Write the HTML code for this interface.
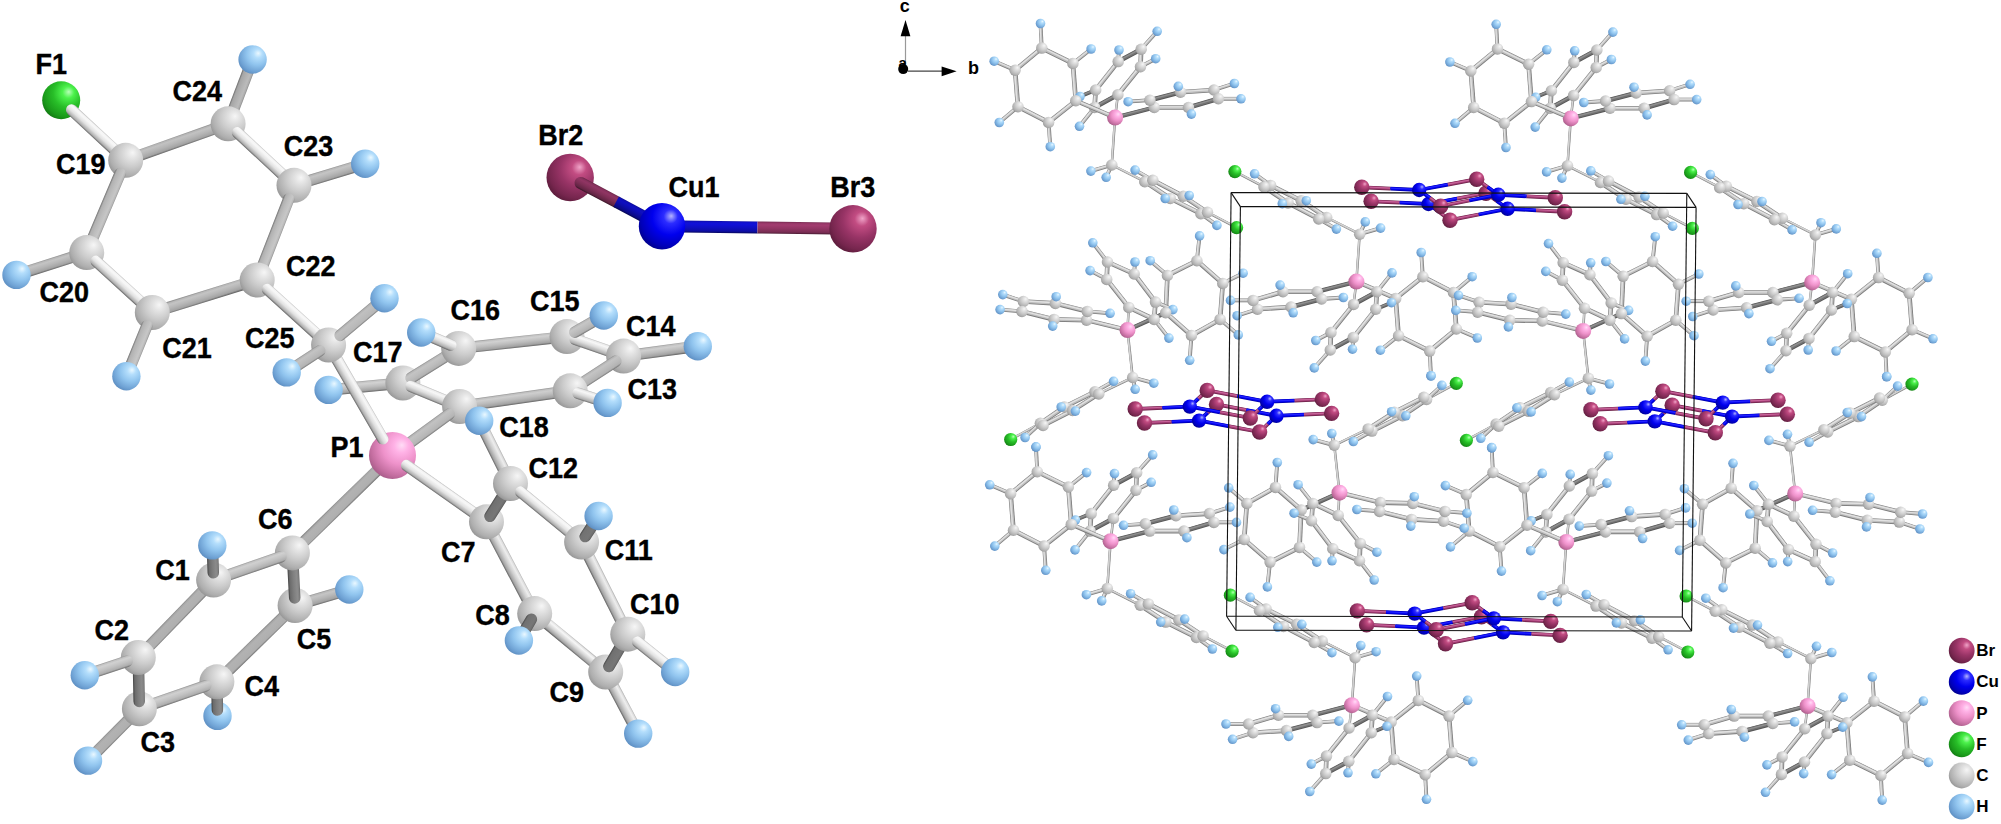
<!DOCTYPE html>
<html><head><meta charset="utf-8"><style>
html,body{margin:0;padding:0;background:#fff;}
svg{display:block;}
.lb{font-family:"Liberation Sans",sans-serif;font-weight:bold;font-size:27px;fill:#000;stroke:#000;stroke-width:0.35px;}
.ax{font-family:"Liberation Sans",sans-serif;font-weight:bold;font-size:18px;fill:#000;}
.lg{font-family:"Liberation Sans",sans-serif;font-weight:bold;font-size:17px;fill:#000;}
</style></head><body>
<svg width="2001" height="824" viewBox="0 0 2001 824">
<defs><radialGradient id="gC" cx="0.64" cy="0.34" r="0.76" fx="0.7" fy="0.28"><stop offset="0" stop-color="#f6f6f6"/><stop offset="0.2" stop-color="#e4e4e4"/><stop offset="0.5" stop-color="#cbcbcb"/><stop offset="0.8" stop-color="#aeaeae"/><stop offset="1" stop-color="#8c8c8c"/></radialGradient><radialGradient id="gH" cx="0.64" cy="0.34" r="0.76" fx="0.7" fy="0.28"><stop offset="0" stop-color="#eaf8ff"/><stop offset="0.2" stop-color="#b4defc"/><stop offset="0.5" stop-color="#90c4ee"/><stop offset="0.8" stop-color="#6fa2d4"/><stop offset="1" stop-color="#5686ba"/></radialGradient><radialGradient id="gP" cx="0.64" cy="0.34" r="0.76" fx="0.7" fy="0.28"><stop offset="0" stop-color="#ffdcf6"/><stop offset="0.2" stop-color="#ffb2e6"/><stop offset="0.5" stop-color="#ee92ca"/><stop offset="0.8" stop-color="#c46ea0"/><stop offset="1" stop-color="#9c5680"/></radialGradient><radialGradient id="gF" cx="0.64" cy="0.34" r="0.76" fx="0.7" fy="0.28"><stop offset="0" stop-color="#b8ffb8"/><stop offset="0.2" stop-color="#4cf24c"/><stop offset="0.5" stop-color="#28be28"/><stop offset="0.8" stop-color="#1a9a1a"/><stop offset="1" stop-color="#107010"/></radialGradient><radialGradient id="gBr" cx="0.64" cy="0.34" r="0.76" fx="0.7" fy="0.28"><stop offset="0" stop-color="#f0a4c8"/><stop offset="0.2" stop-color="#c24c82"/><stop offset="0.5" stop-color="#983466"/><stop offset="0.8" stop-color="#76264e"/><stop offset="1" stop-color="#521834"/></radialGradient><radialGradient id="gCu" cx="0.64" cy="0.34" r="0.76" fx="0.7" fy="0.28"><stop offset="0" stop-color="#b4b4ff"/><stop offset="0.2" stop-color="#2c2cff"/><stop offset="0.5" stop-color="#0000ee"/><stop offset="0.8" stop-color="#0000b8"/><stop offset="1" stop-color="#00007a"/></radialGradient><linearGradient id="bg0" gradientUnits="userSpaceOnUse" x1="175.0" y1="136.6" x2="178.8" y2="147.5"><stop offset="0" stop-color="#8f8f8f"/><stop offset="0.1" stop-color="#b4b4b4"/><stop offset="0.25" stop-color="#c2c2c2"/><stop offset="0.55" stop-color="#b5b5b5"/><stop offset="0.85" stop-color="#a3a3a3"/><stop offset="1.0" stop-color="#686868"/></linearGradient><linearGradient id="bg1" gradientUnits="userSpaceOnUse" x1="245.7" y1="93.7" x2="235.0" y2="89.6"><stop offset="0" stop-color="#8a8a8a"/><stop offset="0.1" stop-color="#adadad"/><stop offset="0.25" stop-color="#bbbbbb"/><stop offset="0.55" stop-color="#b1b1b1"/><stop offset="0.85" stop-color="#a5a5a5"/><stop offset="1.0" stop-color="#6b6b6b"/></linearGradient><linearGradient id="bg2" gradientUnits="userSpaceOnUse" x1="327.9" y1="169.0" x2="331.3" y2="180.0"><stop offset="0" stop-color="#919191"/><stop offset="0.1" stop-color="#b7b7b7"/><stop offset="0.25" stop-color="#c5c5c5"/><stop offset="0.55" stop-color="#b6b6b6"/><stop offset="0.85" stop-color="#a3a3a3"/><stop offset="1.0" stop-color="#676767"/></linearGradient><linearGradient id="bg3" gradientUnits="userSpaceOnUse" x1="203.0" y1="290.8" x2="206.5" y2="301.7"><stop offset="0" stop-color="#919191"/><stop offset="0.1" stop-color="#b7b7b7"/><stop offset="0.25" stop-color="#c4c4c4"/><stop offset="0.55" stop-color="#b6b6b6"/><stop offset="0.85" stop-color="#a3a3a3"/><stop offset="1.0" stop-color="#676767"/></linearGradient><linearGradient id="bg4" gradientUnits="userSpaceOnUse" x1="49.9" y1="258.3" x2="53.3" y2="269.2"><stop offset="0" stop-color="#919191"/><stop offset="0.1" stop-color="#b6b6b6"/><stop offset="0.25" stop-color="#c4c4c4"/><stop offset="0.55" stop-color="#b6b6b6"/><stop offset="0.85" stop-color="#a3a3a3"/><stop offset="1.0" stop-color="#676767"/></linearGradient><linearGradient id="bg5" gradientUnits="userSpaceOnUse" x1="365.2" y1="380.7" x2="366.3" y2="392.2"><stop offset="0" stop-color="#9b9b9b"/><stop offset="0.1" stop-color="#c3c3c3"/><stop offset="0.25" stop-color="#d2d2d2"/><stop offset="0.55" stop-color="#bebebe"/><stop offset="0.85" stop-color="#a2a2a2"/><stop offset="1.0" stop-color="#646464"/></linearGradient><linearGradient id="bg6" gradientUnits="userSpaceOnUse" x1="512.2" y1="336.8" x2="513.5" y2="348.2"><stop offset="0" stop-color="#9a9a9a"/><stop offset="0.1" stop-color="#c2c2c2"/><stop offset="0.25" stop-color="#d1d1d1"/><stop offset="0.55" stop-color="#bdbdbd"/><stop offset="0.85" stop-color="#a2a2a2"/><stop offset="1.0" stop-color="#646464"/></linearGradient><linearGradient id="bg7" gradientUnits="userSpaceOnUse" x1="659.9" y1="345.5" x2="661.5" y2="356.8"><stop offset="0" stop-color="#999999"/><stop offset="0.1" stop-color="#c1c1c1"/><stop offset="0.25" stop-color="#cfcfcf"/><stop offset="0.55" stop-color="#bcbcbc"/><stop offset="0.85" stop-color="#a2a2a2"/><stop offset="1.0" stop-color="#646464"/></linearGradient><linearGradient id="bg8" gradientUnits="userSpaceOnUse" x1="514.1" y1="393.0" x2="515.7" y2="404.3"><stop offset="0" stop-color="#999999"/><stop offset="0.1" stop-color="#c0c0c0"/><stop offset="0.25" stop-color="#cecece"/><stop offset="0.55" stop-color="#bcbcbc"/><stop offset="0.85" stop-color="#a2a2a2"/><stop offset="1.0" stop-color="#646464"/></linearGradient><linearGradient id="bg9" gradientUnits="userSpaceOnUse" x1="500.0" y1="449.6" x2="489.7" y2="454.7"><stop offset="0" stop-color="#afafaf"/><stop offset="0.1" stop-color="#dcdcdc"/><stop offset="0.25" stop-color="#ededed"/><stop offset="0.55" stop-color="#cecece"/><stop offset="0.85" stop-color="#a4a4a4"/><stop offset="1.0" stop-color="#5f5f5f"/></linearGradient><linearGradient id="bg10" gradientUnits="userSpaceOnUse" x1="609.8" y1="585.6" x2="599.6" y2="590.7"><stop offset="0" stop-color="#afafaf"/><stop offset="0.1" stop-color="#dcdcdc"/><stop offset="0.25" stop-color="#ededed"/><stop offset="0.55" stop-color="#cecece"/><stop offset="0.85" stop-color="#a4a4a4"/><stop offset="1.0" stop-color="#5f5f5f"/></linearGradient><linearGradient id="bg11" gradientUnits="userSpaceOnUse" x1="627.0" y1="700.1" x2="616.9" y2="705.5"><stop offset="0" stop-color="#b0b0b0"/><stop offset="0.1" stop-color="#dddddd"/><stop offset="0.25" stop-color="#eeeeee"/><stop offset="0.55" stop-color="#cecece"/><stop offset="0.85" stop-color="#a4a4a4"/><stop offset="1.0" stop-color="#5f5f5f"/></linearGradient><linearGradient id="bg12" gradientUnits="userSpaceOnUse" x1="573.9" y1="638.4" x2="566.5" y2="647.2"><stop offset="0" stop-color="#b6b6b6"/><stop offset="0.1" stop-color="#e5e5e5"/><stop offset="0.25" stop-color="#f6f6f6"/><stop offset="0.55" stop-color="#d4d4d4"/><stop offset="0.85" stop-color="#a5a5a5"/><stop offset="1.0" stop-color="#5d5d5d"/></linearGradient><linearGradient id="bg13" gradientUnits="userSpaceOnUse" x1="515.7" y1="565.0" x2="505.5" y2="570.4"><stop offset="0" stop-color="#b0b0b0"/><stop offset="0.1" stop-color="#dddddd"/><stop offset="0.25" stop-color="#ededed"/><stop offset="0.55" stop-color="#cecece"/><stop offset="0.85" stop-color="#a4a4a4"/><stop offset="1.0" stop-color="#5f5f5f"/></linearGradient><linearGradient id="bg14" gradientUnits="userSpaceOnUse" x1="338.4" y1="500.1" x2="346.5" y2="508.3"><stop offset="0" stop-color="#848484"/><stop offset="0.1" stop-color="#a6a6a6"/><stop offset="0.25" stop-color="#b2b2b2"/><stop offset="0.55" stop-color="#b1b1b1"/><stop offset="0.85" stop-color="#aeaeae"/><stop offset="1.0" stop-color="#757575"/></linearGradient><linearGradient id="bg15" gradientUnits="userSpaceOnUse" x1="171.8" y1="614.8" x2="180.1" y2="622.8"><stop offset="0" stop-color="#848484"/><stop offset="0.1" stop-color="#a6a6a6"/><stop offset="0.25" stop-color="#b2b2b2"/><stop offset="0.55" stop-color="#b1b1b1"/><stop offset="0.85" stop-color="#afafaf"/><stop offset="1.0" stop-color="#777777"/></linearGradient><linearGradient id="bg16" gradientUnits="userSpaceOnUse" x1="109.6" y1="730.6" x2="117.8" y2="738.8"><stop offset="0" stop-color="#848484"/><stop offset="0.1" stop-color="#a6a6a6"/><stop offset="0.25" stop-color="#b2b2b2"/><stop offset="0.55" stop-color="#b1b1b1"/><stop offset="0.85" stop-color="#afafaf"/><stop offset="1.0" stop-color="#767676"/></linearGradient><linearGradient id="bg17" gradientUnits="userSpaceOnUse" x1="252.0" y1="639.5" x2="260.0" y2="647.8"><stop offset="0" stop-color="#848484"/><stop offset="0.1" stop-color="#a6a6a6"/><stop offset="0.25" stop-color="#b2b2b2"/><stop offset="0.55" stop-color="#b1b1b1"/><stop offset="0.85" stop-color="#aeaeae"/><stop offset="1.0" stop-color="#757575"/></linearGradient><linearGradient id="bg18" gradientUnits="userSpaceOnUse" x1="320.6" y1="592.0" x2="323.8" y2="603.0"><stop offset="0" stop-color="#929292"/><stop offset="0.1" stop-color="#b7b7b7"/><stop offset="0.25" stop-color="#c5c5c5"/><stop offset="0.55" stop-color="#b6b6b6"/><stop offset="0.85" stop-color="#a3a3a3"/><stop offset="1.0" stop-color="#676767"/></linearGradient><linearGradient id="bg19" gradientUnits="userSpaceOnUse" x1="709.8" y1="220.9" x2="709.7" y2="232.8"><stop offset="0" stop-color="#0d0da1"/><stop offset="0.1" stop-color="#1010ca"/><stop offset="0.25" stop-color="#1111d9"/><stop offset="0.55" stop-color="#0f0fc2"/><stop offset="0.85" stop-color="#0d0da3"/><stop offset="1.0" stop-color="#080862"/></linearGradient><linearGradient id="bg20" gradientUnits="userSpaceOnUse" x1="805.3" y1="222.2" x2="805.2" y2="234.1"><stop offset="0" stop-color="#782c52"/><stop offset="0.1" stop-color="#963767"/><stop offset="0.25" stop-color="#a23c6f"/><stop offset="0.55" stop-color="#913563"/><stop offset="0.85" stop-color="#792d53"/><stop offset="1.0" stop-color="#491b32"/></linearGradient><linearGradient id="bg21" gradientUnits="userSpaceOnUse" x1="102.6" y1="130.9" x2="94.8" y2="139.4"><stop offset="0" stop-color="#c3c3c3"/><stop offset="0.1" stop-color="#f5f5f5"/><stop offset="0.25" stop-color="#f7f7f7"/><stop offset="0.55" stop-color="#e2e2e2"/><stop offset="0.85" stop-color="#b0b0b0"/><stop offset="1.0" stop-color="#646464"/></linearGradient><linearGradient id="bg22" gradientUnits="userSpaceOnUse" x1="108.7" y1="215.4" x2="98.1" y2="210.9"><stop offset="0" stop-color="#929292"/><stop offset="0.1" stop-color="#b8b8b8"/><stop offset="0.25" stop-color="#c6c6c6"/><stop offset="0.55" stop-color="#bdbdbd"/><stop offset="0.85" stop-color="#b1b1b1"/><stop offset="1.0" stop-color="#747474"/></linearGradient><linearGradient id="bg23" gradientUnits="userSpaceOnUse" x1="269.7" y1="154.8" x2="261.9" y2="163.2"><stop offset="0" stop-color="#c3c3c3"/><stop offset="0.1" stop-color="#f5f5f5"/><stop offset="0.25" stop-color="#f7f7f7"/><stop offset="0.55" stop-color="#e2e2e2"/><stop offset="0.85" stop-color="#b0b0b0"/><stop offset="1.0" stop-color="#646464"/></linearGradient><linearGradient id="bg24" gradientUnits="userSpaceOnUse" x1="278.3" y1="241.6" x2="267.6" y2="237.4"><stop offset="0" stop-color="#939393"/><stop offset="0.1" stop-color="#b9b9b9"/><stop offset="0.25" stop-color="#c7c7c7"/><stop offset="0.55" stop-color="#bebebe"/><stop offset="0.85" stop-color="#b0b0b0"/><stop offset="1.0" stop-color="#737373"/></linearGradient><linearGradient id="bg25" gradientUnits="userSpaceOnUse" x1="301.9" y1="312.9" x2="294.2" y2="321.4"><stop offset="0" stop-color="#c3c3c3"/><stop offset="0.1" stop-color="#f5f5f5"/><stop offset="0.25" stop-color="#f7f7f7"/><stop offset="0.55" stop-color="#e2e2e2"/><stop offset="0.85" stop-color="#b0b0b0"/><stop offset="1.0" stop-color="#646464"/></linearGradient><linearGradient id="bg26" gradientUnits="userSpaceOnUse" x1="128.1" y1="282.6" x2="120.4" y2="291.1"><stop offset="0" stop-color="#c3c3c3"/><stop offset="0.1" stop-color="#f5f5f5"/><stop offset="0.25" stop-color="#f7f7f7"/><stop offset="0.55" stop-color="#e2e2e2"/><stop offset="0.85" stop-color="#b0b0b0"/><stop offset="1.0" stop-color="#646464"/></linearGradient><linearGradient id="bg27" gradientUnits="userSpaceOnUse" x1="142.0" y1="353.2" x2="131.3" y2="348.9"><stop offset="0" stop-color="#939393"/><stop offset="0.1" stop-color="#b9b9b9"/><stop offset="0.25" stop-color="#c7c7c7"/><stop offset="0.55" stop-color="#bdbdbd"/><stop offset="0.85" stop-color="#b1b1b1"/><stop offset="1.0" stop-color="#737373"/></linearGradient><linearGradient id="bg28" gradientUnits="userSpaceOnUse" x1="431.8" y1="358.3" x2="437.9" y2="368.1"><stop offset="0" stop-color="#919191"/><stop offset="0.1" stop-color="#b7b7b7"/><stop offset="0.25" stop-color="#c4c4c4"/><stop offset="0.55" stop-color="#bdbdbd"/><stop offset="0.85" stop-color="#b2b2b2"/><stop offset="1.0" stop-color="#757575"/></linearGradient><linearGradient id="bg29" gradientUnits="userSpaceOnUse" x1="437.5" y1="391.1" x2="433.1" y2="401.8"><stop offset="0" stop-color="#bdbdbd"/><stop offset="0.1" stop-color="#eeeeee"/><stop offset="0.25" stop-color="#f7f7f7"/><stop offset="0.55" stop-color="#dedede"/><stop offset="0.85" stop-color="#b0b0b0"/><stop offset="1.0" stop-color="#656565"/></linearGradient><linearGradient id="bg30" gradientUnits="userSpaceOnUse" x1="417.4" y1="430.2" x2="424.2" y2="439.5"><stop offset="0" stop-color="#8f8f8f"/><stop offset="0.1" stop-color="#b4b4b4"/><stop offset="0.25" stop-color="#c2c2c2"/><stop offset="0.55" stop-color="#bcbcbc"/><stop offset="0.85" stop-color="#b4b4b4"/><stop offset="1.0" stop-color="#777777"/></linearGradient><linearGradient id="bg31" gradientUnits="userSpaceOnUse" x1="360.7" y1="389.0" x2="350.7" y2="394.8"><stop offset="0" stop-color="#bdbdbd"/><stop offset="0.1" stop-color="#eeeeee"/><stop offset="0.25" stop-color="#f7f7f7"/><stop offset="0.55" stop-color="#dedede"/><stop offset="0.85" stop-color="#b0b0b0"/><stop offset="1.0" stop-color="#656565"/></linearGradient><linearGradient id="bg32" gradientUnits="userSpaceOnUse" x1="449.9" y1="489.0" x2="443.3" y2="498.4"><stop offset="0" stop-color="#c2c2c2"/><stop offset="0.1" stop-color="#f4f4f4"/><stop offset="0.25" stop-color="#f7f7f7"/><stop offset="0.55" stop-color="#e2e2e2"/><stop offset="0.85" stop-color="#b0b0b0"/><stop offset="1.0" stop-color="#646464"/></linearGradient><linearGradient id="bg33" gradientUnits="userSpaceOnUse" x1="358.6" y1="312.4" x2="366.0" y2="321.2"><stop offset="0" stop-color="#8e8e8e"/><stop offset="0.1" stop-color="#b3b3b3"/><stop offset="0.25" stop-color="#c0c0c0"/><stop offset="0.55" stop-color="#bcbcbc"/><stop offset="0.85" stop-color="#b7b7b7"/><stop offset="1.0" stop-color="#7a7a7a"/></linearGradient><linearGradient id="bg34" gradientUnits="userSpaceOnUse" x1="300.1" y1="356.8" x2="306.4" y2="366.4"><stop offset="0" stop-color="#919191"/><stop offset="0.1" stop-color="#b6b6b6"/><stop offset="0.25" stop-color="#c3c3c3"/><stop offset="0.55" stop-color="#bcbcbc"/><stop offset="0.85" stop-color="#b3b3b3"/><stop offset="1.0" stop-color="#767676"/></linearGradient><linearGradient id="bg35" gradientUnits="userSpaceOnUse" x1="438.3" y1="333.5" x2="433.8" y2="344.1"><stop offset="0" stop-color="#bdbdbd"/><stop offset="0.1" stop-color="#eeeeee"/><stop offset="0.25" stop-color="#f7f7f7"/><stop offset="0.55" stop-color="#dedede"/><stop offset="0.85" stop-color="#b0b0b0"/><stop offset="1.0" stop-color="#656565"/></linearGradient><linearGradient id="bg36" gradientUnits="userSpaceOnUse" x1="601.3" y1="342.3" x2="597.5" y2="353.2"><stop offset="0" stop-color="#bbbbbb"/><stop offset="0.1" stop-color="#ebebeb"/><stop offset="0.25" stop-color="#f7f7f7"/><stop offset="0.55" stop-color="#dcdcdc"/><stop offset="0.85" stop-color="#b0b0b0"/><stop offset="1.0" stop-color="#666666"/></linearGradient><linearGradient id="bg37" gradientUnits="userSpaceOnUse" x1="586.4" y1="318.8" x2="592.1" y2="328.8"><stop offset="0" stop-color="#929292"/><stop offset="0.1" stop-color="#b8b8b8"/><stop offset="0.25" stop-color="#c6c6c6"/><stop offset="0.55" stop-color="#bdbdbd"/><stop offset="0.85" stop-color="#b1b1b1"/><stop offset="1.0" stop-color="#747474"/></linearGradient><linearGradient id="bg38" gradientUnits="userSpaceOnUse" x1="589.9" y1="371.1" x2="596.2" y2="380.8"><stop offset="0" stop-color="#919191"/><stop offset="0.1" stop-color="#b6b6b6"/><stop offset="0.25" stop-color="#c4c4c4"/><stop offset="0.55" stop-color="#bcbcbc"/><stop offset="0.85" stop-color="#b2b2b2"/><stop offset="1.0" stop-color="#757575"/></linearGradient><linearGradient id="bg39" gradientUnits="userSpaceOnUse" x1="594.6" y1="392.6" x2="591.1" y2="403.6"><stop offset="0" stop-color="#bababa"/><stop offset="0.1" stop-color="#eaeaea"/><stop offset="0.25" stop-color="#f7f7f7"/><stop offset="0.55" stop-color="#dbdbdb"/><stop offset="0.85" stop-color="#afafaf"/><stop offset="1.0" stop-color="#666666"/></linearGradient><linearGradient id="bg40" gradientUnits="userSpaceOnUse" x1="505.1" y1="502.9" x2="495.4" y2="496.8"><stop offset="0" stop-color="#585858"/><stop offset="0.1" stop-color="#6e6e6e"/><stop offset="0.25" stop-color="#777777"/><stop offset="0.55" stop-color="#747474"/><stop offset="0.85" stop-color="#707070"/><stop offset="1.0" stop-color="#4b4b4b"/></linearGradient><linearGradient id="bg41" gradientUnits="userSpaceOnUse" x1="554.8" y1="512.6" x2="547.5" y2="521.5"><stop offset="0" stop-color="#c3c3c3"/><stop offset="0.1" stop-color="#f5f5f5"/><stop offset="0.25" stop-color="#f7f7f7"/><stop offset="0.55" stop-color="#e2e2e2"/><stop offset="0.85" stop-color="#b0b0b0"/><stop offset="1.0" stop-color="#646464"/></linearGradient><linearGradient id="bg42" gradientUnits="userSpaceOnUse" x1="596.7" y1="529.4" x2="587.1" y2="523.2"><stop offset="0" stop-color="#585858"/><stop offset="0.1" stop-color="#6e6e6e"/><stop offset="0.25" stop-color="#767676"/><stop offset="0.55" stop-color="#747474"/><stop offset="0.85" stop-color="#717171"/><stop offset="1.0" stop-color="#4b4b4b"/></linearGradient><linearGradient id="bg43" gradientUnits="userSpaceOnUse" x1="623.3" y1="653.3" x2="613.4" y2="647.5"><stop offset="0" stop-color="#585858"/><stop offset="0.1" stop-color="#6f6f6f"/><stop offset="0.25" stop-color="#777777"/><stop offset="0.55" stop-color="#747474"/><stop offset="0.85" stop-color="#707070"/><stop offset="1.0" stop-color="#4a4a4a"/></linearGradient><linearGradient id="bg44" gradientUnits="userSpaceOnUse" x1="660.1" y1="652.6" x2="652.9" y2="661.6"><stop offset="0" stop-color="#c3c3c3"/><stop offset="0.1" stop-color="#f5f5f5"/><stop offset="0.25" stop-color="#f7f7f7"/><stop offset="0.55" stop-color="#e2e2e2"/><stop offset="0.85" stop-color="#b0b0b0"/><stop offset="1.0" stop-color="#646464"/></linearGradient><linearGradient id="bg45" gradientUnits="userSpaceOnUse" x1="530.1" y1="632.8" x2="520.2" y2="627.0"><stop offset="0" stop-color="#585858"/><stop offset="0.1" stop-color="#6f6f6f"/><stop offset="0.25" stop-color="#777777"/><stop offset="0.55" stop-color="#747474"/><stop offset="0.85" stop-color="#707070"/><stop offset="1.0" stop-color="#4a4a4a"/></linearGradient><linearGradient id="bg46" gradientUnits="userSpaceOnUse" x1="299.3" y1="575.1" x2="287.8" y2="575.7"><stop offset="0" stop-color="#676767"/><stop offset="0.1" stop-color="#828282"/><stop offset="0.25" stop-color="#8c8c8c"/><stop offset="0.55" stop-color="#7e7e7e"/><stop offset="0.85" stop-color="#6b6b6b"/><stop offset="1.0" stop-color="#424242"/></linearGradient><linearGradient id="bg47" gradientUnits="userSpaceOnUse" x1="245.4" y1="563.0" x2="249.2" y2="573.9"><stop offset="0" stop-color="#9a9a9a"/><stop offset="0.1" stop-color="#c1c1c1"/><stop offset="0.25" stop-color="#d0d0d0"/><stop offset="0.55" stop-color="#c2c2c2"/><stop offset="0.85" stop-color="#aeaeae"/><stop offset="1.0" stop-color="#6f6f6f"/></linearGradient><linearGradient id="bg48" gradientUnits="userSpaceOnUse" x1="218.6" y1="558.9" x2="207.1" y2="559.3"><stop offset="0" stop-color="#676767"/><stop offset="0.1" stop-color="#818181"/><stop offset="0.25" stop-color="#8b8b8b"/><stop offset="0.55" stop-color="#7d7d7d"/><stop offset="0.85" stop-color="#6b6b6b"/><stop offset="1.0" stop-color="#424242"/></linearGradient><linearGradient id="bg49" gradientUnits="userSpaceOnUse" x1="222.9" y1="695.8" x2="211.4" y2="696.0"><stop offset="0" stop-color="#666666"/><stop offset="0.1" stop-color="#808080"/><stop offset="0.25" stop-color="#8a8a8a"/><stop offset="0.55" stop-color="#7d7d7d"/><stop offset="0.85" stop-color="#6b6b6b"/><stop offset="1.0" stop-color="#424242"/></linearGradient><linearGradient id="bg50" gradientUnits="userSpaceOnUse" x1="170.7" y1="691.8" x2="174.4" y2="702.7"><stop offset="0" stop-color="#9a9a9a"/><stop offset="0.1" stop-color="#c1c1c1"/><stop offset="0.25" stop-color="#d0d0d0"/><stop offset="0.55" stop-color="#c2c2c2"/><stop offset="0.85" stop-color="#aeaeae"/><stop offset="1.0" stop-color="#6f6f6f"/></linearGradient><linearGradient id="bg51" gradientUnits="userSpaceOnUse" x1="144.5" y1="679.3" x2="133.0" y2="679.6"><stop offset="0" stop-color="#666666"/><stop offset="0.1" stop-color="#818181"/><stop offset="0.25" stop-color="#8a8a8a"/><stop offset="0.55" stop-color="#7d7d7d"/><stop offset="0.85" stop-color="#6b6b6b"/><stop offset="1.0" stop-color="#424242"/></linearGradient><linearGradient id="bg52" gradientUnits="userSpaceOnUse" x1="104.1" y1="662.8" x2="107.7" y2="673.7"><stop offset="0" stop-color="#9a9a9a"/><stop offset="0.1" stop-color="#c2c2c2"/><stop offset="0.25" stop-color="#d1d1d1"/><stop offset="0.55" stop-color="#c2c2c2"/><stop offset="0.85" stop-color="#aeaeae"/><stop offset="1.0" stop-color="#6f6f6f"/></linearGradient><linearGradient id="bg53" gradientUnits="userSpaceOnUse" x1="601.1" y1="187.1" x2="595.5" y2="197.7"><stop offset="0" stop-color="#6b2749"/><stop offset="0.1" stop-color="#86315c"/><stop offset="0.25" stop-color="#903563"/><stop offset="0.55" stop-color="#7d2e55"/><stop offset="0.85" stop-color="#622443"/><stop offset="1.0" stop-color="#381526"/></linearGradient><linearGradient id="bg54" gradientUnits="userSpaceOnUse" x1="641.9" y1="208.7" x2="636.2" y2="219.3"><stop offset="0" stop-color="#0b0b8f"/><stop offset="0.1" stop-color="#0e0eb4"/><stop offset="0.25" stop-color="#0f0fc2"/><stop offset="0.55" stop-color="#0d0da7"/><stop offset="0.85" stop-color="#0a0a84"/><stop offset="1.0" stop-color="#06064b"/></linearGradient></defs>
<rect width="2001" height="824" fill="#fff"/>
<line x1="125.7" y1="160.3" x2="228.1" y2="123.8" stroke="url(#bg0)" stroke-width="11.5" stroke-linecap="butt"/><line x1="228.1" y1="123.8" x2="252.6" y2="59.5" stroke="url(#bg1)" stroke-width="11.5" stroke-linecap="butt"/><line x1="294.0" y1="185.3" x2="365.2" y2="163.7" stroke="url(#bg2)" stroke-width="11.5" stroke-linecap="butt"/><line x1="257.2" y1="280.0" x2="152.3" y2="312.5" stroke="url(#bg3)" stroke-width="11.5" stroke-linecap="butt"/><line x1="86.7" y1="252.6" x2="16.5" y2="274.9" stroke="url(#bg4)" stroke-width="11.5" stroke-linecap="butt"/><line x1="402.9" y1="383.0" x2="328.6" y2="389.9" stroke="url(#bg5)" stroke-width="11.5" stroke-linecap="butt"/><line x1="458.7" y1="348.4" x2="567.0" y2="336.6" stroke="url(#bg6)" stroke-width="11.5" stroke-linecap="butt"/><line x1="623.6" y1="356.1" x2="697.8" y2="346.2" stroke="url(#bg7)" stroke-width="11.5" stroke-linecap="butt"/><line x1="570.2" y1="390.8" x2="459.6" y2="406.5" stroke="url(#bg8)" stroke-width="11.5" stroke-linecap="butt"/><line x1="510.5" y1="483.5" x2="479.2" y2="420.8" stroke="url(#bg9)" stroke-width="11.5" stroke-linecap="butt"/><line x1="581.6" y1="542.1" x2="627.8" y2="634.2" stroke="url(#bg10)" stroke-width="11.5" stroke-linecap="butt"/><line x1="605.7" y1="672.0" x2="638.2" y2="733.6" stroke="url(#bg11)" stroke-width="11.5" stroke-linecap="butt"/><line x1="605.7" y1="672.0" x2="534.7" y2="613.6" stroke="url(#bg12)" stroke-width="11.5" stroke-linecap="butt"/><line x1="534.7" y1="613.6" x2="486.5" y2="521.8" stroke="url(#bg13)" stroke-width="11.5" stroke-linecap="butt"/><line x1="392.5" y1="455.5" x2="292.4" y2="552.9" stroke="url(#bg14)" stroke-width="11.5" stroke-linecap="butt"/><line x1="213.6" y1="580.1" x2="138.3" y2="657.5" stroke="url(#bg15)" stroke-width="11.5" stroke-linecap="butt"/><line x1="139.4" y1="708.8" x2="88.0" y2="760.6" stroke="url(#bg16)" stroke-width="11.5" stroke-linecap="butt"/><line x1="216.9" y1="681.8" x2="295.1" y2="605.5" stroke="url(#bg17)" stroke-width="11.5" stroke-linecap="butt"/><line x1="295.1" y1="605.5" x2="349.3" y2="589.5" stroke="url(#bg18)" stroke-width="11.5" stroke-linecap="butt"/><line x1="662.0" y1="226.2" x2="757.5" y2="227.5" stroke="url(#bg19)" stroke-width="12" stroke-linecap="butt"/><line x1="757.5" y1="227.5" x2="853.0" y2="228.8" stroke="url(#bg20)" stroke-width="12" stroke-linecap="butt"/><circle cx="61.2" cy="100.2" r="19.0" fill="url(#gF)"/><line x1="71.7" y1="110.0" x2="125.7" y2="160.3" stroke="url(#bg21)" stroke-width="11.5" stroke-linecap="round"/><circle cx="125.7" cy="160.3" r="17.5" fill="url(#gC)"/><line x1="120.1" y1="173.6" x2="86.7" y2="252.6" stroke="url(#bg22)" stroke-width="11.5" stroke-linecap="round"/><circle cx="228.1" cy="123.8" r="17.5" fill="url(#gC)"/><line x1="237.6" y1="132.7" x2="294.0" y2="185.3" stroke="url(#bg23)" stroke-width="11.5" stroke-linecap="round"/><circle cx="252.6" cy="59.5" r="14.2" fill="url(#gH)"/><circle cx="294.0" cy="185.3" r="17.5" fill="url(#gC)"/><line x1="288.7" y1="199.0" x2="257.2" y2="280.0" stroke="url(#bg24)" stroke-width="11.5" stroke-linecap="round"/><circle cx="365.2" cy="163.7" r="14.2" fill="url(#gH)"/><circle cx="257.2" cy="280.0" r="17.5" fill="url(#gC)"/><line x1="267.5" y1="289.4" x2="328.6" y2="345.0" stroke="url(#bg25)" stroke-width="11.5" stroke-linecap="round"/><circle cx="86.7" cy="252.6" r="17.5" fill="url(#gC)"/><line x1="96.2" y1="261.3" x2="152.3" y2="312.5" stroke="url(#bg26)" stroke-width="11.5" stroke-linecap="round"/><circle cx="152.3" cy="312.5" r="17.5" fill="url(#gC)"/><line x1="146.9" y1="325.9" x2="126.4" y2="376.2" stroke="url(#bg27)" stroke-width="11.5" stroke-linecap="round"/><circle cx="126.4" cy="376.2" r="14.2" fill="url(#gH)"/><circle cx="16.5" cy="274.9" r="14.2" fill="url(#gH)"/><circle cx="402.9" cy="383.0" r="17.5" fill="url(#gC)"/><line x1="411.0" y1="378.0" x2="458.7" y2="348.4" stroke="url(#bg28)" stroke-width="11.5" stroke-linecap="round"/><line x1="411.1" y1="386.4" x2="459.6" y2="406.5" stroke="url(#bg29)" stroke-width="11.5" stroke-linecap="round"/><circle cx="459.6" cy="406.5" r="17.5" fill="url(#gC)"/><line x1="449.2" y1="414.1" x2="392.5" y2="455.5" stroke="url(#bg30)" stroke-width="11.5" stroke-linecap="round"/><circle cx="392.5" cy="455.5" r="23.5" fill="url(#gP)"/><line x1="382.8" y1="438.8" x2="328.6" y2="345.0" stroke="url(#bg31)" stroke-width="11.5" stroke-linecap="round"/><line x1="406.7" y1="465.5" x2="486.5" y2="521.8" stroke="url(#bg32)" stroke-width="11.5" stroke-linecap="round"/><circle cx="328.6" cy="345.0" r="17.5" fill="url(#gC)"/><line x1="340.1" y1="335.4" x2="384.5" y2="298.2" stroke="url(#bg33)" stroke-width="11.5" stroke-linecap="round"/><line x1="319.8" y1="350.8" x2="286.7" y2="372.4" stroke="url(#bg34)" stroke-width="11.5" stroke-linecap="round"/><circle cx="384.5" cy="298.2" r="14.2" fill="url(#gH)"/><circle cx="286.7" cy="372.4" r="14.2" fill="url(#gH)"/><circle cx="328.6" cy="389.9" r="14.2" fill="url(#gH)"/><circle cx="458.7" cy="348.4" r="17.5" fill="url(#gC)"/><line x1="450.8" y1="345.1" x2="421.2" y2="332.5" stroke="url(#bg35)" stroke-width="11.5" stroke-linecap="round"/><circle cx="421.2" cy="332.5" r="14.2" fill="url(#gH)"/><circle cx="567.0" cy="336.6" r="17.5" fill="url(#gC)"/><line x1="575.2" y1="339.4" x2="623.6" y2="356.1" stroke="url(#bg36)" stroke-width="11.5" stroke-linecap="round"/><line x1="574.7" y1="332.2" x2="603.8" y2="315.5" stroke="url(#bg37)" stroke-width="11.5" stroke-linecap="round"/><circle cx="603.8" cy="315.5" r="14.2" fill="url(#gH)"/><circle cx="623.6" cy="356.1" r="17.5" fill="url(#gC)"/><line x1="615.9" y1="361.1" x2="570.2" y2="390.8" stroke="url(#bg38)" stroke-width="11.5" stroke-linecap="round"/><circle cx="697.8" cy="346.2" r="14.2" fill="url(#gH)"/><circle cx="570.2" cy="390.8" r="17.5" fill="url(#gC)"/><line x1="578.1" y1="393.3" x2="607.6" y2="402.9" stroke="url(#bg39)" stroke-width="11.5" stroke-linecap="round"/><circle cx="607.6" cy="402.9" r="14.2" fill="url(#gH)"/><circle cx="486.5" cy="521.8" r="17.5" fill="url(#gC)"/><line x1="490.0" y1="516.3" x2="510.5" y2="483.5" stroke="url(#bg40)" stroke-width="11.5" stroke-linecap="round"/><circle cx="510.5" cy="483.5" r="17.5" fill="url(#gC)"/><line x1="520.8" y1="492.0" x2="581.6" y2="542.1" stroke="url(#bg41)" stroke-width="11.5" stroke-linecap="round"/><circle cx="479.2" cy="420.8" r="14.2" fill="url(#gH)"/><circle cx="581.6" cy="542.1" r="17.5" fill="url(#gC)"/><line x1="585.2" y1="536.6" x2="598.6" y2="516.0" stroke="url(#bg42)" stroke-width="11.5" stroke-linecap="round"/><circle cx="598.6" cy="516.0" r="14.2" fill="url(#gH)"/><circle cx="605.7" cy="672.0" r="17.5" fill="url(#gC)"/><line x1="608.9" y1="666.5" x2="627.8" y2="634.2" stroke="url(#bg43)" stroke-width="11.5" stroke-linecap="round"/><circle cx="627.8" cy="634.2" r="17.5" fill="url(#gC)"/><line x1="637.8" y1="642.1" x2="675.2" y2="672.0" stroke="url(#bg44)" stroke-width="11.5" stroke-linecap="round"/><circle cx="675.2" cy="672.0" r="14.2" fill="url(#gH)"/><circle cx="638.2" cy="733.6" r="14.2" fill="url(#gH)"/><circle cx="534.7" cy="613.6" r="17.5" fill="url(#gC)"/><line x1="531.4" y1="619.2" x2="518.9" y2="640.5" stroke="url(#bg45)" stroke-width="11.5" stroke-linecap="round"/><circle cx="518.9" cy="640.5" r="14.2" fill="url(#gH)"/><circle cx="295.1" cy="605.5" r="17.5" fill="url(#gC)"/><line x1="294.7" y1="597.9" x2="292.4" y2="552.9" stroke="url(#bg46)" stroke-width="11.5" stroke-linecap="round"/><circle cx="292.4" cy="552.9" r="17.5" fill="url(#gC)"/><line x1="281.0" y1="556.8" x2="213.6" y2="580.1" stroke="url(#bg47)" stroke-width="11.5" stroke-linecap="round"/><circle cx="213.6" cy="580.1" r="17.5" fill="url(#gC)"/><line x1="213.3" y1="572.8" x2="212.3" y2="545.4" stroke="url(#bg48)" stroke-width="11.5" stroke-linecap="round"/><circle cx="212.3" cy="545.4" r="14.2" fill="url(#gH)"/><circle cx="349.3" cy="589.5" r="14.2" fill="url(#gH)"/><circle cx="217.5" cy="715.9" r="14.2" fill="url(#gH)"/><line x1="217.4" y1="710.1" x2="216.9" y2="681.8" stroke="url(#bg49)" stroke-width="11.5" stroke-linecap="round"/><circle cx="216.9" cy="681.8" r="17.5" fill="url(#gC)"/><line x1="205.7" y1="685.7" x2="139.4" y2="708.8" stroke="url(#bg50)" stroke-width="11.5" stroke-linecap="round"/><circle cx="139.4" cy="708.8" r="17.5" fill="url(#gC)"/><line x1="139.2" y1="701.4" x2="138.3" y2="657.5" stroke="url(#bg51)" stroke-width="11.5" stroke-linecap="round"/><circle cx="138.3" cy="657.5" r="17.5" fill="url(#gC)"/><line x1="127.1" y1="661.2" x2="84.8" y2="675.3" stroke="url(#bg52)" stroke-width="11.5" stroke-linecap="round"/><circle cx="84.8" cy="675.3" r="14.2" fill="url(#gH)"/><circle cx="88.0" cy="760.6" r="14.2" fill="url(#gH)"/><circle cx="570.2" cy="177.5" r="23.7" fill="url(#gBr)"/><line x1="580.5" y1="182.9" x2="616.1" y2="201.8" stroke="url(#bg53)" stroke-width="12" stroke-linecap="round"/><line x1="616.1" y1="201.8" x2="662.0" y2="226.2" stroke="url(#bg54)" stroke-width="12" stroke-linecap="butt"/><circle cx="662.0" cy="226.2" r="23.2" fill="url(#gCu)"/><circle cx="853.0" cy="228.8" r="23.7" fill="url(#gBr)"/><text transform="translate(35.4,74.0) scale(1,1.06)" class="lb">F1</text><text transform="translate(56.0,174.4) scale(1,1.06)" class="lb">C19</text><text transform="translate(172.5,100.7) scale(1,1.06)" class="lb">C24</text><text transform="translate(283.8,156.2) scale(1,1.06)" class="lb">C23</text><text transform="translate(39.4,302.0) scale(1,1.06)" class="lb">C20</text><text transform="translate(285.9,275.8) scale(1,1.06)" class="lb">C22</text><text transform="translate(162.3,357.8) scale(1,1.06)" class="lb">C21</text><text transform="translate(245.1,348.2) scale(1,1.06)" class="lb">C25</text><text transform="translate(353.1,362.0) scale(1,1.06)" class="lb">C17</text><text transform="translate(450.6,319.5) scale(1,1.06)" class="lb">C16</text><text transform="translate(529.9,310.7) scale(1,1.06)" class="lb">C15</text><text transform="translate(626.0,336.1) scale(1,1.06)" class="lb">C14</text><text transform="translate(627.4,398.9) scale(1,1.06)" class="lb">C13</text><text transform="translate(499.2,436.5) scale(1,1.06)" class="lb">C18</text><text transform="translate(330.5,457.4) scale(1,1.06)" class="lb">P1</text><text transform="translate(528.4,478.1) scale(1,1.06)" class="lb">C12</text><text transform="translate(441.0,561.8) scale(1,1.06)" class="lb">C7</text><text transform="translate(258.0,529.4) scale(1,1.06)" class="lb">C6</text><text transform="translate(155.2,580.1) scale(1,1.06)" class="lb">C1</text><text transform="translate(604.7,560.0) scale(1,1.06)" class="lb">C11</text><text transform="translate(94.6,640.2) scale(1,1.06)" class="lb">C2</text><text transform="translate(296.7,649.0) scale(1,1.06)" class="lb">C5</text><text transform="translate(630.0,613.6) scale(1,1.06)" class="lb">C10</text><text transform="translate(475.3,624.7) scale(1,1.06)" class="lb">C8</text><text transform="translate(244.5,695.7) scale(1,1.06)" class="lb">C4</text><text transform="translate(549.5,702.0) scale(1,1.06)" class="lb">C9</text><text transform="translate(140.6,751.6) scale(1,1.06)" class="lb">C3</text><text transform="translate(538.2,144.8) scale(1,1.06)" class="lb">Br2</text><text transform="translate(668.6,197.2) scale(1,1.06)" class="lb">Cu1</text><text transform="translate(830.2,197.2) scale(1,1.06)" class="lb">Br3</text>
<line x1="1041.8" y1="48.1" x2="1072.9" y2="63.4" stroke="#7c7c7c" stroke-width="4.60"/><line x1="1041.9" y1="47.9" x2="1073.0" y2="63.2" stroke="#bebebe" stroke-width="3.31"/><line x1="1042.1" y1="47.5" x2="1073.2" y2="62.8" stroke="#e2e2e2" stroke-width="1.38"/><line x1="1072.9" y1="63.4" x2="1075.8" y2="100.8" stroke="#7c7c7c" stroke-width="4.60"/><line x1="1072.7" y1="63.4" x2="1075.6" y2="100.8" stroke="#bebebe" stroke-width="3.31"/><line x1="1072.3" y1="63.4" x2="1075.2" y2="100.8" stroke="#e2e2e2" stroke-width="1.38"/><line x1="1075.8" y1="100.8" x2="1048.6" y2="122.4" stroke="#7c7c7c" stroke-width="4.60"/><line x1="1075.7" y1="100.6" x2="1048.5" y2="122.2" stroke="#bebebe" stroke-width="3.31"/><line x1="1075.4" y1="100.3" x2="1048.2" y2="121.9" stroke="#e2e2e2" stroke-width="1.38"/><line x1="1048.6" y1="122.4" x2="1018.0" y2="106.7" stroke="#7c7c7c" stroke-width="4.60"/><line x1="1048.7" y1="122.2" x2="1018.1" y2="106.5" stroke="#bebebe" stroke-width="3.31"/><line x1="1048.9" y1="121.8" x2="1018.3" y2="106.1" stroke="#e2e2e2" stroke-width="1.38"/><line x1="1018.0" y1="106.7" x2="1015.1" y2="70.2" stroke="#7c7c7c" stroke-width="4.60"/><line x1="1017.8" y1="106.7" x2="1014.9" y2="70.2" stroke="#bebebe" stroke-width="3.31"/><line x1="1017.4" y1="106.8" x2="1014.5" y2="70.3" stroke="#e2e2e2" stroke-width="1.38"/><line x1="1015.1" y1="70.2" x2="1041.8" y2="48.1" stroke="#7c7c7c" stroke-width="4.60"/><line x1="1015.0" y1="70.0" x2="1041.7" y2="47.9" stroke="#bebebe" stroke-width="3.31"/><line x1="1014.7" y1="69.7" x2="1041.4" y2="47.6" stroke="#e2e2e2" stroke-width="1.38"/><line x1="1041.8" y1="48.1" x2="1040.5" y2="23.5" stroke="#7c7c7c" stroke-width="3.80"/><line x1="1041.6" y1="48.1" x2="1040.3" y2="23.5" stroke="#bebebe" stroke-width="2.74"/><line x1="1041.3" y1="48.1" x2="1040.0" y2="23.5" stroke="#e2e2e2" stroke-width="1.14"/><line x1="1072.9" y1="63.4" x2="1091.1" y2="49.0" stroke="#7c7c7c" stroke-width="3.80"/><line x1="1072.8" y1="63.3" x2="1091.0" y2="48.9" stroke="#bebebe" stroke-width="2.74"/><line x1="1072.6" y1="63.0" x2="1090.8" y2="48.6" stroke="#e2e2e2" stroke-width="1.14"/><line x1="1048.6" y1="122.4" x2="1050.3" y2="146.7" stroke="#7c7c7c" stroke-width="3.80"/><line x1="1048.4" y1="122.4" x2="1050.1" y2="146.7" stroke="#bebebe" stroke-width="2.74"/><line x1="1048.1" y1="122.4" x2="1049.8" y2="146.7" stroke="#e2e2e2" stroke-width="1.14"/><line x1="1018.0" y1="106.7" x2="999.3" y2="122.5" stroke="#7c7c7c" stroke-width="3.80"/><line x1="1017.9" y1="106.6" x2="999.2" y2="122.4" stroke="#bebebe" stroke-width="2.74"/><line x1="1017.7" y1="106.3" x2="999.0" y2="122.1" stroke="#e2e2e2" stroke-width="1.14"/><line x1="1015.1" y1="70.2" x2="994.2" y2="61.2" stroke="#7c7c7c" stroke-width="3.80"/><line x1="1015.2" y1="70.0" x2="994.3" y2="61.0" stroke="#bebebe" stroke-width="2.74"/><line x1="1015.3" y1="69.7" x2="994.4" y2="60.7" stroke="#e2e2e2" stroke-width="1.14"/><line x1="1115.1" y1="117.6" x2="1117.9" y2="94.8" stroke="#7c7c7c" stroke-width="2.50"/><line x1="1115.0" y1="117.6" x2="1117.8" y2="94.8" stroke="#bebebe" stroke-width="1.80"/><line x1="1114.8" y1="117.6" x2="1117.6" y2="94.8" stroke="#e2e2e2" stroke-width="0.75"/><line x1="1117.9" y1="94.8" x2="1140.5" y2="66.7" stroke="#7c7c7c" stroke-width="4.60"/><line x1="1117.7" y1="94.7" x2="1140.3" y2="66.6" stroke="#bebebe" stroke-width="3.31"/><line x1="1117.4" y1="94.4" x2="1140.0" y2="66.3" stroke="#e2e2e2" stroke-width="1.38"/><line x1="1140.5" y1="66.7" x2="1141.2" y2="49.2" stroke="#7c7c7c" stroke-width="4.60"/><line x1="1140.3" y1="66.7" x2="1141.0" y2="49.2" stroke="#bebebe" stroke-width="3.31"/><line x1="1139.9" y1="66.7" x2="1140.6" y2="49.2" stroke="#e2e2e2" stroke-width="1.38"/><line x1="1141.2" y1="49.2" x2="1118.2" y2="61.6" stroke="#555555" stroke-width="4.60"/><line x1="1141.1" y1="49.0" x2="1118.1" y2="61.4" stroke="#727272" stroke-width="3.31"/><line x1="1140.9" y1="48.6" x2="1117.9" y2="61.0" stroke="#909090" stroke-width="1.38"/><line x1="1118.2" y1="61.6" x2="1095.7" y2="90.0" stroke="#7c7c7c" stroke-width="4.60"/><line x1="1118.0" y1="61.5" x2="1095.5" y2="89.9" stroke="#bebebe" stroke-width="3.31"/><line x1="1117.7" y1="61.2" x2="1095.2" y2="89.6" stroke="#e2e2e2" stroke-width="1.38"/><line x1="1095.7" y1="90.0" x2="1094.6" y2="107.5" stroke="#7c7c7c" stroke-width="4.60"/><line x1="1095.5" y1="90.0" x2="1094.4" y2="107.5" stroke="#bebebe" stroke-width="3.31"/><line x1="1095.1" y1="90.0" x2="1094.0" y2="107.5" stroke="#e2e2e2" stroke-width="1.38"/><line x1="1094.6" y1="107.5" x2="1117.9" y2="94.8" stroke="#555555" stroke-width="4.60"/><line x1="1094.5" y1="107.3" x2="1117.8" y2="94.6" stroke="#727272" stroke-width="3.31"/><line x1="1094.3" y1="106.9" x2="1117.6" y2="94.2" stroke="#909090" stroke-width="1.38"/><line x1="1140.5" y1="66.7" x2="1155.7" y2="58.7" stroke="#7c7c7c" stroke-width="3.80"/><line x1="1140.4" y1="66.5" x2="1155.6" y2="58.5" stroke="#bebebe" stroke-width="2.74"/><line x1="1140.3" y1="66.2" x2="1155.5" y2="58.2" stroke="#e2e2e2" stroke-width="1.14"/><line x1="1141.2" y1="49.2" x2="1157.2" y2="31.3" stroke="#7c7c7c" stroke-width="3.80"/><line x1="1141.1" y1="49.1" x2="1157.1" y2="31.2" stroke="#bebebe" stroke-width="2.74"/><line x1="1140.8" y1="48.8" x2="1156.8" y2="30.9" stroke="#e2e2e2" stroke-width="1.14"/><line x1="1118.2" y1="61.6" x2="1119.0" y2="50.0" stroke="#7c7c7c" stroke-width="3.80"/><line x1="1118.0" y1="61.6" x2="1118.8" y2="50.0" stroke="#bebebe" stroke-width="2.74"/><line x1="1117.7" y1="61.6" x2="1118.5" y2="50.0" stroke="#e2e2e2" stroke-width="1.14"/><line x1="1095.7" y1="90.0" x2="1080.0" y2="96.5" stroke="#555555" stroke-width="3.80"/><line x1="1095.6" y1="89.8" x2="1079.9" y2="96.3" stroke="#727272" stroke-width="2.74"/><line x1="1095.5" y1="89.5" x2="1079.8" y2="96.0" stroke="#909090" stroke-width="1.14"/><line x1="1094.6" y1="107.5" x2="1079.5" y2="126.3" stroke="#7c7c7c" stroke-width="3.80"/><line x1="1094.5" y1="107.4" x2="1079.4" y2="126.2" stroke="#bebebe" stroke-width="2.74"/><line x1="1094.2" y1="107.2" x2="1079.1" y2="126.0" stroke="#e2e2e2" stroke-width="1.14"/><line x1="1115.1" y1="117.6" x2="1154.3" y2="107.5" stroke="#555555" stroke-width="4.30"/><line x1="1115.0" y1="117.4" x2="1154.2" y2="107.3" stroke="#727272" stroke-width="3.10"/><line x1="1114.9" y1="117.0" x2="1154.1" y2="106.9" stroke="#909090" stroke-width="1.29"/><line x1="1154.3" y1="107.5" x2="1149.9" y2="100.2" stroke="#7c7c7c" stroke-width="4.60"/><line x1="1154.5" y1="107.4" x2="1150.1" y2="100.1" stroke="#bebebe" stroke-width="3.31"/><line x1="1154.9" y1="107.2" x2="1150.5" y2="99.9" stroke="#e2e2e2" stroke-width="1.38"/><line x1="1149.9" y1="100.2" x2="1180.5" y2="92.2" stroke="#555555" stroke-width="4.60"/><line x1="1149.8" y1="100.0" x2="1180.4" y2="92.0" stroke="#727272" stroke-width="3.31"/><line x1="1149.7" y1="99.6" x2="1180.3" y2="91.6" stroke="#909090" stroke-width="1.38"/><line x1="1180.5" y1="92.2" x2="1214.0" y2="90.0" stroke="#7c7c7c" stroke-width="4.60"/><line x1="1180.5" y1="92.0" x2="1214.0" y2="89.8" stroke="#bebebe" stroke-width="3.31"/><line x1="1180.5" y1="91.6" x2="1214.0" y2="89.4" stroke="#e2e2e2" stroke-width="1.38"/><line x1="1214.0" y1="90.0" x2="1218.4" y2="98.8" stroke="#7c7c7c" stroke-width="4.60"/><line x1="1214.2" y1="89.9" x2="1218.6" y2="98.7" stroke="#bebebe" stroke-width="3.31"/><line x1="1214.6" y1="89.7" x2="1219.0" y2="98.5" stroke="#e2e2e2" stroke-width="1.38"/><line x1="1218.4" y1="98.8" x2="1188.5" y2="107.5" stroke="#555555" stroke-width="4.60"/><line x1="1218.3" y1="98.6" x2="1188.4" y2="107.3" stroke="#727272" stroke-width="3.31"/><line x1="1218.2" y1="98.2" x2="1188.3" y2="106.9" stroke="#909090" stroke-width="1.38"/><line x1="1188.5" y1="107.5" x2="1154.3" y2="107.5" stroke="#7c7c7c" stroke-width="4.60"/><line x1="1188.5" y1="107.3" x2="1154.3" y2="107.3" stroke="#bebebe" stroke-width="3.31"/><line x1="1188.5" y1="106.9" x2="1154.3" y2="106.9" stroke="#e2e2e2" stroke-width="1.38"/><line x1="1149.9" y1="100.2" x2="1128.1" y2="101.7" stroke="#7c7c7c" stroke-width="3.80"/><line x1="1149.9" y1="100.0" x2="1128.1" y2="101.5" stroke="#bebebe" stroke-width="2.74"/><line x1="1149.9" y1="99.7" x2="1128.1" y2="101.2" stroke="#e2e2e2" stroke-width="1.14"/><line x1="1180.5" y1="92.2" x2="1178.3" y2="86.4" stroke="#7c7c7c" stroke-width="3.80"/><line x1="1180.7" y1="92.1" x2="1178.5" y2="86.3" stroke="#bebebe" stroke-width="2.74"/><line x1="1181.0" y1="92.0" x2="1178.8" y2="86.2" stroke="#e2e2e2" stroke-width="1.14"/><line x1="1214.0" y1="90.0" x2="1234.4" y2="83.5" stroke="#7c7c7c" stroke-width="3.80"/><line x1="1213.9" y1="89.8" x2="1234.3" y2="83.3" stroke="#bebebe" stroke-width="2.74"/><line x1="1213.8" y1="89.5" x2="1234.2" y2="83.0" stroke="#e2e2e2" stroke-width="1.14"/><line x1="1218.4" y1="98.8" x2="1241.0" y2="98.8" stroke="#7c7c7c" stroke-width="3.80"/><line x1="1218.4" y1="98.6" x2="1241.0" y2="98.6" stroke="#bebebe" stroke-width="2.74"/><line x1="1218.4" y1="98.3" x2="1241.0" y2="98.3" stroke="#e2e2e2" stroke-width="1.14"/><line x1="1188.5" y1="107.5" x2="1191.4" y2="114.1" stroke="#7c7c7c" stroke-width="3.80"/><line x1="1188.7" y1="107.4" x2="1191.6" y2="114.0" stroke="#bebebe" stroke-width="2.74"/><line x1="1189.0" y1="107.3" x2="1191.9" y2="113.9" stroke="#e2e2e2" stroke-width="1.14"/><line x1="1115.1" y1="117.6" x2="1111.8" y2="165.0" stroke="#7c7c7c" stroke-width="2.50"/><line x1="1115.0" y1="117.6" x2="1111.7" y2="165.0" stroke="#bebebe" stroke-width="1.80"/><line x1="1114.8" y1="117.6" x2="1111.5" y2="165.0" stroke="#e2e2e2" stroke-width="0.75"/><line x1="1111.8" y1="165.0" x2="1090.9" y2="171.1" stroke="#7c7c7c" stroke-width="3.80"/><line x1="1111.7" y1="164.8" x2="1090.8" y2="170.9" stroke="#bebebe" stroke-width="2.74"/><line x1="1111.7" y1="164.5" x2="1090.8" y2="170.6" stroke="#e2e2e2" stroke-width="1.14"/><line x1="1111.8" y1="165.0" x2="1106.2" y2="177.3" stroke="#7c7c7c" stroke-width="3.80"/><line x1="1111.6" y1="164.9" x2="1106.0" y2="177.2" stroke="#bebebe" stroke-width="2.74"/><line x1="1111.3" y1="164.8" x2="1105.7" y2="177.1" stroke="#e2e2e2" stroke-width="1.14"/><line x1="1111.8" y1="165.0" x2="1144.8" y2="181.7" stroke="#7c7c7c" stroke-width="2.50"/><line x1="1111.9" y1="164.9" x2="1144.9" y2="181.6" stroke="#bebebe" stroke-width="1.80"/><line x1="1112.0" y1="164.7" x2="1145.0" y2="181.4" stroke="#e2e2e2" stroke-width="0.75"/><line x1="1144.8" y1="181.7" x2="1152.8" y2="180.3" stroke="#7c7c7c" stroke-width="4.60"/><line x1="1144.8" y1="181.5" x2="1152.8" y2="180.1" stroke="#bebebe" stroke-width="3.31"/><line x1="1144.7" y1="181.1" x2="1152.7" y2="179.7" stroke="#e2e2e2" stroke-width="1.38"/><line x1="1144.8" y1="181.7" x2="1170.3" y2="198.5" stroke="#7c7c7c" stroke-width="4.60"/><line x1="1144.9" y1="181.5" x2="1170.4" y2="198.3" stroke="#bebebe" stroke-width="3.31"/><line x1="1145.2" y1="181.2" x2="1170.7" y2="198.0" stroke="#e2e2e2" stroke-width="1.38"/><line x1="1152.8" y1="180.3" x2="1183.4" y2="196.3" stroke="#7c7c7c" stroke-width="4.60"/><line x1="1152.9" y1="180.1" x2="1183.5" y2="196.1" stroke="#bebebe" stroke-width="3.31"/><line x1="1153.1" y1="179.7" x2="1183.7" y2="195.7" stroke="#e2e2e2" stroke-width="1.38"/><line x1="1170.3" y1="198.5" x2="1200.9" y2="213.8" stroke="#7c7c7c" stroke-width="4.60"/><line x1="1170.4" y1="198.3" x2="1201.0" y2="213.6" stroke="#bebebe" stroke-width="3.31"/><line x1="1170.6" y1="197.9" x2="1201.2" y2="213.2" stroke="#e2e2e2" stroke-width="1.38"/><line x1="1183.4" y1="196.3" x2="1207.5" y2="212.3" stroke="#7c7c7c" stroke-width="4.60"/><line x1="1183.5" y1="196.1" x2="1207.6" y2="212.1" stroke="#bebebe" stroke-width="3.31"/><line x1="1183.8" y1="195.8" x2="1207.9" y2="211.8" stroke="#e2e2e2" stroke-width="1.38"/><line x1="1200.9" y1="213.8" x2="1207.5" y2="212.3" stroke="#7c7c7c" stroke-width="4.60"/><line x1="1200.8" y1="213.6" x2="1207.4" y2="212.1" stroke="#bebebe" stroke-width="3.31"/><line x1="1200.8" y1="213.2" x2="1207.4" y2="211.7" stroke="#e2e2e2" stroke-width="1.38"/><line x1="1207.5" y1="212.3" x2="1236.6" y2="227.6" stroke="#7c7c7c" stroke-width="2.50"/><line x1="1207.6" y1="212.2" x2="1236.7" y2="227.5" stroke="#bebebe" stroke-width="1.80"/><line x1="1207.7" y1="212.0" x2="1236.8" y2="227.3" stroke="#e2e2e2" stroke-width="0.75"/><line x1="1152.8" y1="180.3" x2="1135.1" y2="170.1" stroke="#7c7c7c" stroke-width="3.80"/><line x1="1152.9" y1="180.1" x2="1135.2" y2="169.9" stroke="#bebebe" stroke-width="2.74"/><line x1="1153.1" y1="179.8" x2="1135.4" y2="169.6" stroke="#e2e2e2" stroke-width="1.14"/><line x1="1170.3" y1="198.5" x2="1165.2" y2="198.5" stroke="#7c7c7c" stroke-width="3.80"/><line x1="1170.3" y1="198.3" x2="1165.2" y2="198.3" stroke="#bebebe" stroke-width="2.74"/><line x1="1170.3" y1="198.0" x2="1165.2" y2="198.0" stroke="#e2e2e2" stroke-width="1.14"/><line x1="1183.4" y1="196.3" x2="1189.2" y2="195.5" stroke="#7c7c7c" stroke-width="3.80"/><line x1="1183.4" y1="196.1" x2="1189.2" y2="195.3" stroke="#bebebe" stroke-width="2.74"/><line x1="1183.3" y1="195.8" x2="1189.1" y2="195.0" stroke="#e2e2e2" stroke-width="1.14"/><line x1="1200.9" y1="213.8" x2="1216.9" y2="225.4" stroke="#7c7c7c" stroke-width="3.80"/><line x1="1201.0" y1="213.6" x2="1217.0" y2="225.2" stroke="#bebebe" stroke-width="2.74"/><line x1="1201.2" y1="213.4" x2="1217.2" y2="225.0" stroke="#e2e2e2" stroke-width="1.14"/><circle cx="1115.1" cy="117.6" r="8.0" fill="url(#gP)"/><circle cx="1041.8" cy="48.1" r="5.75" fill="url(#gC)"/><circle cx="1072.9" cy="63.4" r="5.75" fill="url(#gC)"/><circle cx="1080.0" cy="96.5" r="4.8" fill="url(#gH)"/><circle cx="1075.8" cy="100.8" r="5.75" fill="url(#gC)"/><circle cx="1048.6" cy="122.4" r="5.75" fill="url(#gC)"/><circle cx="1018.0" cy="106.7" r="5.75" fill="url(#gC)"/><circle cx="1015.1" cy="70.2" r="5.75" fill="url(#gC)"/><circle cx="1040.5" cy="23.5" r="4.8" fill="url(#gH)"/><circle cx="1091.1" cy="49.0" r="4.8" fill="url(#gH)"/><circle cx="1050.3" cy="146.7" r="4.8" fill="url(#gH)"/><circle cx="999.3" cy="122.5" r="4.8" fill="url(#gH)"/><circle cx="994.2" cy="61.2" r="4.8" fill="url(#gH)"/><circle cx="1117.9" cy="94.8" r="5.75" fill="url(#gC)"/><circle cx="1140.5" cy="66.7" r="5.75" fill="url(#gC)"/><circle cx="1141.2" cy="49.2" r="5.75" fill="url(#gC)"/><circle cx="1118.2" cy="61.6" r="5.75" fill="url(#gC)"/><circle cx="1095.7" cy="90.0" r="5.75" fill="url(#gC)"/><circle cx="1094.6" cy="107.5" r="5.75" fill="url(#gC)"/><circle cx="1155.7" cy="58.7" r="4.8" fill="url(#gH)"/><circle cx="1157.2" cy="31.3" r="4.8" fill="url(#gH)"/><circle cx="1119.0" cy="50.0" r="4.8" fill="url(#gH)"/><circle cx="1079.5" cy="126.3" r="4.8" fill="url(#gH)"/><circle cx="1154.3" cy="107.5" r="5.75" fill="url(#gC)"/><circle cx="1149.9" cy="100.2" r="5.75" fill="url(#gC)"/><circle cx="1180.5" cy="92.2" r="5.75" fill="url(#gC)"/><circle cx="1214.0" cy="90.0" r="5.75" fill="url(#gC)"/><circle cx="1218.4" cy="98.8" r="5.75" fill="url(#gC)"/><circle cx="1188.5" cy="107.5" r="5.75" fill="url(#gC)"/><circle cx="1128.1" cy="101.7" r="4.8" fill="url(#gH)"/><circle cx="1178.3" cy="86.4" r="4.8" fill="url(#gH)"/><circle cx="1234.4" cy="83.5" r="4.8" fill="url(#gH)"/><circle cx="1241.0" cy="98.8" r="4.8" fill="url(#gH)"/><circle cx="1191.4" cy="114.1" r="4.8" fill="url(#gH)"/><circle cx="1111.8" cy="165.0" r="5.75" fill="url(#gC)"/><circle cx="1090.9" cy="171.1" r="4.8" fill="url(#gH)"/><circle cx="1106.2" cy="177.3" r="4.8" fill="url(#gH)"/><circle cx="1144.8" cy="181.7" r="5.75" fill="url(#gC)"/><circle cx="1152.8" cy="180.3" r="5.75" fill="url(#gC)"/><circle cx="1170.3" cy="198.5" r="5.75" fill="url(#gC)"/><circle cx="1183.4" cy="196.3" r="5.75" fill="url(#gC)"/><circle cx="1200.9" cy="213.8" r="5.75" fill="url(#gC)"/><circle cx="1207.5" cy="212.3" r="5.75" fill="url(#gC)"/><circle cx="1236.6" cy="227.6" r="6.6" fill="url(#gF)"/><circle cx="1135.1" cy="170.1" r="4.8" fill="url(#gH)"/><circle cx="1165.2" cy="198.5" r="4.8" fill="url(#gH)"/><circle cx="1189.2" cy="195.5" r="4.8" fill="url(#gH)"/><circle cx="1216.9" cy="225.4" r="4.8" fill="url(#gH)"/><line x1="1108.5" y1="114.8" x2="1080.6" y2="102.8" stroke="#7c7c7c" stroke-width="4.30"/><line x1="1108.6" y1="114.6" x2="1080.6" y2="102.6" stroke="#bebebe" stroke-width="3.10"/><line x1="1108.7" y1="114.2" x2="1080.8" y2="102.3" stroke="#e2e2e2" stroke-width="1.29"/><line x1="1356.4" y1="281.6" x2="1395.7" y2="298.4" stroke="#7c7c7c" stroke-width="4.30"/><line x1="1356.5" y1="281.4" x2="1395.8" y2="298.2" stroke="#bebebe" stroke-width="3.10"/><line x1="1356.6" y1="281.0" x2="1395.9" y2="297.8" stroke="#e2e2e2" stroke-width="1.29"/><line x1="1429.7" y1="351.1" x2="1398.6" y2="335.8" stroke="#7c7c7c" stroke-width="4.60"/><line x1="1429.8" y1="350.9" x2="1398.7" y2="335.6" stroke="#bebebe" stroke-width="3.31"/><line x1="1430.0" y1="350.5" x2="1398.9" y2="335.2" stroke="#e2e2e2" stroke-width="1.38"/><line x1="1398.6" y1="335.8" x2="1395.7" y2="298.4" stroke="#7c7c7c" stroke-width="4.60"/><line x1="1398.4" y1="335.8" x2="1395.5" y2="298.4" stroke="#bebebe" stroke-width="3.31"/><line x1="1398.0" y1="335.8" x2="1395.1" y2="298.4" stroke="#e2e2e2" stroke-width="1.38"/><line x1="1395.7" y1="298.4" x2="1422.9" y2="276.8" stroke="#7c7c7c" stroke-width="4.60"/><line x1="1395.6" y1="298.2" x2="1422.8" y2="276.6" stroke="#bebebe" stroke-width="3.31"/><line x1="1395.3" y1="297.9" x2="1422.5" y2="276.3" stroke="#e2e2e2" stroke-width="1.38"/><line x1="1422.9" y1="276.8" x2="1453.5" y2="292.5" stroke="#7c7c7c" stroke-width="4.60"/><line x1="1423.0" y1="276.6" x2="1453.6" y2="292.3" stroke="#bebebe" stroke-width="3.31"/><line x1="1423.2" y1="276.2" x2="1453.8" y2="291.9" stroke="#e2e2e2" stroke-width="1.38"/><line x1="1453.5" y1="292.5" x2="1456.4" y2="329.0" stroke="#7c7c7c" stroke-width="4.60"/><line x1="1453.3" y1="292.5" x2="1456.2" y2="329.0" stroke="#bebebe" stroke-width="3.31"/><line x1="1452.9" y1="292.6" x2="1455.8" y2="329.1" stroke="#e2e2e2" stroke-width="1.38"/><line x1="1456.4" y1="329.0" x2="1429.7" y2="351.1" stroke="#7c7c7c" stroke-width="4.60"/><line x1="1456.3" y1="328.8" x2="1429.6" y2="350.9" stroke="#bebebe" stroke-width="3.31"/><line x1="1456.0" y1="328.5" x2="1429.3" y2="350.6" stroke="#e2e2e2" stroke-width="1.38"/><line x1="1429.7" y1="351.1" x2="1431.0" y2="375.7" stroke="#7c7c7c" stroke-width="3.80"/><line x1="1429.5" y1="351.1" x2="1430.8" y2="375.7" stroke="#bebebe" stroke-width="2.74"/><line x1="1429.2" y1="351.1" x2="1430.5" y2="375.7" stroke="#e2e2e2" stroke-width="1.14"/><line x1="1398.6" y1="335.8" x2="1380.4" y2="350.2" stroke="#7c7c7c" stroke-width="3.80"/><line x1="1398.5" y1="335.7" x2="1380.3" y2="350.1" stroke="#bebebe" stroke-width="2.74"/><line x1="1398.3" y1="335.4" x2="1380.1" y2="349.8" stroke="#e2e2e2" stroke-width="1.14"/><line x1="1422.9" y1="276.8" x2="1421.2" y2="252.5" stroke="#7c7c7c" stroke-width="3.80"/><line x1="1422.7" y1="276.8" x2="1421.0" y2="252.5" stroke="#bebebe" stroke-width="2.74"/><line x1="1422.4" y1="276.8" x2="1420.7" y2="252.5" stroke="#e2e2e2" stroke-width="1.14"/><line x1="1453.5" y1="292.5" x2="1472.2" y2="276.7" stroke="#7c7c7c" stroke-width="3.80"/><line x1="1453.4" y1="292.4" x2="1472.1" y2="276.6" stroke="#bebebe" stroke-width="2.74"/><line x1="1453.2" y1="292.1" x2="1471.9" y2="276.3" stroke="#e2e2e2" stroke-width="1.14"/><line x1="1456.4" y1="329.0" x2="1477.3" y2="338.0" stroke="#7c7c7c" stroke-width="3.80"/><line x1="1456.5" y1="328.8" x2="1477.4" y2="337.8" stroke="#bebebe" stroke-width="2.74"/><line x1="1456.6" y1="328.5" x2="1477.5" y2="337.5" stroke="#e2e2e2" stroke-width="1.14"/><line x1="1356.4" y1="281.6" x2="1353.6" y2="304.4" stroke="#7c7c7c" stroke-width="2.50"/><line x1="1356.3" y1="281.6" x2="1353.5" y2="304.4" stroke="#bebebe" stroke-width="1.80"/><line x1="1356.1" y1="281.6" x2="1353.3" y2="304.4" stroke="#e2e2e2" stroke-width="0.75"/><line x1="1353.6" y1="304.4" x2="1331.0" y2="332.5" stroke="#7c7c7c" stroke-width="4.60"/><line x1="1353.4" y1="304.3" x2="1330.8" y2="332.4" stroke="#bebebe" stroke-width="3.31"/><line x1="1353.1" y1="304.0" x2="1330.5" y2="332.1" stroke="#e2e2e2" stroke-width="1.38"/><line x1="1331.0" y1="332.5" x2="1330.3" y2="350.0" stroke="#7c7c7c" stroke-width="4.60"/><line x1="1330.8" y1="332.5" x2="1330.1" y2="350.0" stroke="#bebebe" stroke-width="3.31"/><line x1="1330.4" y1="332.5" x2="1329.7" y2="350.0" stroke="#e2e2e2" stroke-width="1.38"/><line x1="1330.3" y1="350.0" x2="1353.3" y2="337.6" stroke="#555555" stroke-width="4.60"/><line x1="1330.2" y1="349.8" x2="1353.2" y2="337.4" stroke="#727272" stroke-width="3.31"/><line x1="1330.0" y1="349.4" x2="1353.0" y2="337.0" stroke="#909090" stroke-width="1.38"/><line x1="1353.3" y1="337.6" x2="1375.8" y2="309.2" stroke="#7c7c7c" stroke-width="4.60"/><line x1="1353.1" y1="337.5" x2="1375.6" y2="309.1" stroke="#bebebe" stroke-width="3.31"/><line x1="1352.8" y1="337.2" x2="1375.3" y2="308.8" stroke="#e2e2e2" stroke-width="1.38"/><line x1="1375.8" y1="309.2" x2="1376.9" y2="291.7" stroke="#7c7c7c" stroke-width="4.60"/><line x1="1375.6" y1="309.2" x2="1376.7" y2="291.7" stroke="#bebebe" stroke-width="3.31"/><line x1="1375.2" y1="309.2" x2="1376.3" y2="291.7" stroke="#e2e2e2" stroke-width="1.38"/><line x1="1376.9" y1="291.7" x2="1353.6" y2="304.4" stroke="#555555" stroke-width="4.60"/><line x1="1376.8" y1="291.5" x2="1353.5" y2="304.2" stroke="#727272" stroke-width="3.31"/><line x1="1376.6" y1="291.1" x2="1353.3" y2="303.8" stroke="#909090" stroke-width="1.38"/><line x1="1331.0" y1="332.5" x2="1315.8" y2="340.5" stroke="#7c7c7c" stroke-width="3.80"/><line x1="1330.9" y1="332.3" x2="1315.7" y2="340.3" stroke="#bebebe" stroke-width="2.74"/><line x1="1330.8" y1="332.0" x2="1315.6" y2="340.0" stroke="#e2e2e2" stroke-width="1.14"/><line x1="1330.3" y1="350.0" x2="1314.3" y2="367.9" stroke="#7c7c7c" stroke-width="3.80"/><line x1="1330.2" y1="349.9" x2="1314.2" y2="367.8" stroke="#bebebe" stroke-width="2.74"/><line x1="1329.9" y1="349.6" x2="1313.9" y2="367.5" stroke="#e2e2e2" stroke-width="1.14"/><line x1="1353.3" y1="337.6" x2="1352.5" y2="349.2" stroke="#7c7c7c" stroke-width="3.80"/><line x1="1353.1" y1="337.6" x2="1352.3" y2="349.2" stroke="#bebebe" stroke-width="2.74"/><line x1="1352.8" y1="337.6" x2="1352.0" y2="349.2" stroke="#e2e2e2" stroke-width="1.14"/><line x1="1375.8" y1="309.2" x2="1391.5" y2="302.7" stroke="#555555" stroke-width="3.80"/><line x1="1375.7" y1="309.0" x2="1391.4" y2="302.5" stroke="#727272" stroke-width="2.74"/><line x1="1375.6" y1="308.7" x2="1391.3" y2="302.2" stroke="#909090" stroke-width="1.14"/><line x1="1376.9" y1="291.7" x2="1392.0" y2="272.9" stroke="#7c7c7c" stroke-width="3.80"/><line x1="1376.8" y1="291.6" x2="1391.9" y2="272.8" stroke="#bebebe" stroke-width="2.74"/><line x1="1376.5" y1="291.4" x2="1391.6" y2="272.6" stroke="#e2e2e2" stroke-width="1.14"/><line x1="1356.4" y1="281.6" x2="1317.2" y2="291.7" stroke="#555555" stroke-width="4.30"/><line x1="1356.3" y1="281.4" x2="1317.1" y2="291.5" stroke="#727272" stroke-width="3.10"/><line x1="1356.2" y1="281.0" x2="1317.0" y2="291.1" stroke="#909090" stroke-width="1.29"/><line x1="1317.2" y1="291.7" x2="1321.6" y2="299.0" stroke="#7c7c7c" stroke-width="4.60"/><line x1="1317.4" y1="291.6" x2="1321.8" y2="298.9" stroke="#bebebe" stroke-width="3.31"/><line x1="1317.8" y1="291.4" x2="1322.2" y2="298.7" stroke="#e2e2e2" stroke-width="1.38"/><line x1="1321.6" y1="299.0" x2="1291.0" y2="307.0" stroke="#555555" stroke-width="4.60"/><line x1="1321.5" y1="298.8" x2="1290.9" y2="306.8" stroke="#727272" stroke-width="3.31"/><line x1="1321.4" y1="298.4" x2="1290.8" y2="306.4" stroke="#909090" stroke-width="1.38"/><line x1="1291.0" y1="307.0" x2="1257.5" y2="309.2" stroke="#7c7c7c" stroke-width="4.60"/><line x1="1291.0" y1="306.8" x2="1257.5" y2="309.0" stroke="#bebebe" stroke-width="3.31"/><line x1="1291.0" y1="306.4" x2="1257.5" y2="308.6" stroke="#e2e2e2" stroke-width="1.38"/><line x1="1257.5" y1="309.2" x2="1253.1" y2="300.4" stroke="#7c7c7c" stroke-width="4.60"/><line x1="1257.7" y1="309.1" x2="1253.3" y2="300.3" stroke="#bebebe" stroke-width="3.31"/><line x1="1258.1" y1="308.9" x2="1253.7" y2="300.1" stroke="#e2e2e2" stroke-width="1.38"/><line x1="1253.1" y1="300.4" x2="1283.0" y2="291.7" stroke="#7c7c7c" stroke-width="4.60"/><line x1="1253.0" y1="300.2" x2="1282.9" y2="291.5" stroke="#bebebe" stroke-width="3.31"/><line x1="1252.9" y1="299.8" x2="1282.8" y2="291.1" stroke="#e2e2e2" stroke-width="1.38"/><line x1="1283.0" y1="291.7" x2="1317.2" y2="291.7" stroke="#7c7c7c" stroke-width="4.60"/><line x1="1283.0" y1="291.5" x2="1317.2" y2="291.5" stroke="#bebebe" stroke-width="3.31"/><line x1="1283.0" y1="291.1" x2="1317.2" y2="291.1" stroke="#e2e2e2" stroke-width="1.38"/><line x1="1321.6" y1="299.0" x2="1343.4" y2="297.5" stroke="#7c7c7c" stroke-width="3.80"/><line x1="1321.6" y1="298.8" x2="1343.4" y2="297.3" stroke="#bebebe" stroke-width="2.74"/><line x1="1321.6" y1="298.5" x2="1343.4" y2="297.0" stroke="#e2e2e2" stroke-width="1.14"/><line x1="1291.0" y1="307.0" x2="1293.2" y2="312.8" stroke="#7c7c7c" stroke-width="3.80"/><line x1="1291.2" y1="306.9" x2="1293.4" y2="312.7" stroke="#bebebe" stroke-width="2.74"/><line x1="1291.5" y1="306.8" x2="1293.7" y2="312.6" stroke="#e2e2e2" stroke-width="1.14"/><line x1="1257.5" y1="309.2" x2="1237.1" y2="315.7" stroke="#7c7c7c" stroke-width="3.80"/><line x1="1257.4" y1="309.0" x2="1237.0" y2="315.5" stroke="#bebebe" stroke-width="2.74"/><line x1="1257.3" y1="308.7" x2="1236.9" y2="315.2" stroke="#e2e2e2" stroke-width="1.14"/><line x1="1253.1" y1="300.4" x2="1230.5" y2="300.4" stroke="#7c7c7c" stroke-width="3.80"/><line x1="1253.1" y1="300.2" x2="1230.5" y2="300.2" stroke="#bebebe" stroke-width="2.74"/><line x1="1253.1" y1="299.9" x2="1230.5" y2="299.9" stroke="#e2e2e2" stroke-width="1.14"/><line x1="1283.0" y1="291.7" x2="1280.1" y2="285.1" stroke="#7c7c7c" stroke-width="3.80"/><line x1="1283.2" y1="291.6" x2="1280.3" y2="285.0" stroke="#bebebe" stroke-width="2.74"/><line x1="1283.5" y1="291.5" x2="1280.6" y2="284.9" stroke="#e2e2e2" stroke-width="1.14"/><line x1="1356.4" y1="281.6" x2="1359.7" y2="234.2" stroke="#7c7c7c" stroke-width="2.50"/><line x1="1356.3" y1="281.6" x2="1359.6" y2="234.2" stroke="#bebebe" stroke-width="1.80"/><line x1="1356.1" y1="281.6" x2="1359.4" y2="234.2" stroke="#e2e2e2" stroke-width="0.75"/><line x1="1359.7" y1="234.2" x2="1380.6" y2="228.1" stroke="#7c7c7c" stroke-width="3.80"/><line x1="1359.6" y1="234.0" x2="1380.5" y2="227.9" stroke="#bebebe" stroke-width="2.74"/><line x1="1359.6" y1="233.7" x2="1380.5" y2="227.6" stroke="#e2e2e2" stroke-width="1.14"/><line x1="1359.7" y1="234.2" x2="1365.3" y2="221.9" stroke="#7c7c7c" stroke-width="3.80"/><line x1="1359.5" y1="234.1" x2="1365.1" y2="221.8" stroke="#bebebe" stroke-width="2.74"/><line x1="1359.2" y1="234.0" x2="1364.8" y2="221.7" stroke="#e2e2e2" stroke-width="1.14"/><line x1="1359.7" y1="234.2" x2="1326.7" y2="217.5" stroke="#7c7c7c" stroke-width="2.50"/><line x1="1359.8" y1="234.1" x2="1326.8" y2="217.4" stroke="#bebebe" stroke-width="1.80"/><line x1="1359.9" y1="233.9" x2="1326.9" y2="217.2" stroke="#e2e2e2" stroke-width="0.75"/><line x1="1326.7" y1="217.5" x2="1318.7" y2="218.9" stroke="#7c7c7c" stroke-width="4.60"/><line x1="1326.7" y1="217.3" x2="1318.7" y2="218.7" stroke="#bebebe" stroke-width="3.31"/><line x1="1326.6" y1="216.9" x2="1318.6" y2="218.3" stroke="#e2e2e2" stroke-width="1.38"/><line x1="1326.7" y1="217.5" x2="1301.2" y2="200.7" stroke="#7c7c7c" stroke-width="4.60"/><line x1="1326.8" y1="217.3" x2="1301.3" y2="200.5" stroke="#bebebe" stroke-width="3.31"/><line x1="1327.1" y1="217.0" x2="1301.6" y2="200.2" stroke="#e2e2e2" stroke-width="1.38"/><line x1="1318.7" y1="218.9" x2="1288.1" y2="202.9" stroke="#7c7c7c" stroke-width="4.60"/><line x1="1318.8" y1="218.7" x2="1288.2" y2="202.7" stroke="#bebebe" stroke-width="3.31"/><line x1="1319.0" y1="218.3" x2="1288.4" y2="202.3" stroke="#e2e2e2" stroke-width="1.38"/><line x1="1301.2" y1="200.7" x2="1270.6" y2="185.4" stroke="#7c7c7c" stroke-width="4.60"/><line x1="1301.3" y1="200.5" x2="1270.7" y2="185.2" stroke="#bebebe" stroke-width="3.31"/><line x1="1301.5" y1="200.1" x2="1270.9" y2="184.8" stroke="#e2e2e2" stroke-width="1.38"/><line x1="1288.1" y1="202.9" x2="1264.0" y2="186.9" stroke="#7c7c7c" stroke-width="4.60"/><line x1="1288.2" y1="202.7" x2="1264.1" y2="186.7" stroke="#bebebe" stroke-width="3.31"/><line x1="1288.5" y1="202.4" x2="1264.4" y2="186.4" stroke="#e2e2e2" stroke-width="1.38"/><line x1="1270.6" y1="185.4" x2="1264.0" y2="186.9" stroke="#7c7c7c" stroke-width="4.60"/><line x1="1270.5" y1="185.2" x2="1263.9" y2="186.7" stroke="#bebebe" stroke-width="3.31"/><line x1="1270.5" y1="184.8" x2="1263.9" y2="186.3" stroke="#e2e2e2" stroke-width="1.38"/><line x1="1264.0" y1="186.9" x2="1234.9" y2="171.6" stroke="#7c7c7c" stroke-width="2.50"/><line x1="1264.1" y1="186.8" x2="1235.0" y2="171.5" stroke="#bebebe" stroke-width="1.80"/><line x1="1264.2" y1="186.6" x2="1235.1" y2="171.3" stroke="#e2e2e2" stroke-width="0.75"/><line x1="1318.7" y1="218.9" x2="1336.4" y2="229.1" stroke="#7c7c7c" stroke-width="3.80"/><line x1="1318.8" y1="218.7" x2="1336.5" y2="228.9" stroke="#bebebe" stroke-width="2.74"/><line x1="1319.0" y1="218.4" x2="1336.7" y2="228.6" stroke="#e2e2e2" stroke-width="1.14"/><line x1="1301.2" y1="200.7" x2="1306.3" y2="200.7" stroke="#7c7c7c" stroke-width="3.80"/><line x1="1301.2" y1="200.5" x2="1306.3" y2="200.5" stroke="#bebebe" stroke-width="2.74"/><line x1="1301.2" y1="200.2" x2="1306.3" y2="200.2" stroke="#e2e2e2" stroke-width="1.14"/><line x1="1288.1" y1="202.9" x2="1282.3" y2="203.7" stroke="#7c7c7c" stroke-width="3.80"/><line x1="1288.1" y1="202.7" x2="1282.3" y2="203.5" stroke="#bebebe" stroke-width="2.74"/><line x1="1288.0" y1="202.4" x2="1282.2" y2="203.2" stroke="#e2e2e2" stroke-width="1.14"/><line x1="1270.6" y1="185.4" x2="1254.6" y2="173.8" stroke="#7c7c7c" stroke-width="3.80"/><line x1="1270.7" y1="185.2" x2="1254.7" y2="173.6" stroke="#bebebe" stroke-width="2.74"/><line x1="1270.9" y1="185.0" x2="1254.9" y2="173.4" stroke="#e2e2e2" stroke-width="1.14"/><circle cx="1356.4" cy="281.6" r="8.0" fill="url(#gP)"/><circle cx="1429.7" cy="351.1" r="5.75" fill="url(#gC)"/><circle cx="1398.6" cy="335.8" r="5.75" fill="url(#gC)"/><circle cx="1422.9" cy="276.8" r="5.75" fill="url(#gC)"/><circle cx="1453.5" cy="292.5" r="5.75" fill="url(#gC)"/><circle cx="1456.4" cy="329.0" r="5.75" fill="url(#gC)"/><circle cx="1431.0" cy="375.7" r="4.8" fill="url(#gH)"/><circle cx="1380.4" cy="350.2" r="4.8" fill="url(#gH)"/><circle cx="1421.2" cy="252.5" r="4.8" fill="url(#gH)"/><circle cx="1472.2" cy="276.7" r="4.8" fill="url(#gH)"/><circle cx="1477.3" cy="338.0" r="4.8" fill="url(#gH)"/><circle cx="1353.6" cy="304.4" r="5.75" fill="url(#gC)"/><circle cx="1331.0" cy="332.5" r="5.75" fill="url(#gC)"/><circle cx="1330.3" cy="350.0" r="5.75" fill="url(#gC)"/><circle cx="1353.3" cy="337.6" r="5.75" fill="url(#gC)"/><circle cx="1375.8" cy="309.2" r="5.75" fill="url(#gC)"/><circle cx="1376.9" cy="291.7" r="5.75" fill="url(#gC)"/><circle cx="1315.8" cy="340.5" r="4.8" fill="url(#gH)"/><circle cx="1314.3" cy="367.9" r="4.8" fill="url(#gH)"/><circle cx="1352.5" cy="349.2" r="4.8" fill="url(#gH)"/><circle cx="1395.7" cy="298.4" r="5.75" fill="url(#gC)"/><circle cx="1391.5" cy="302.7" r="4.8" fill="url(#gH)"/><circle cx="1392.0" cy="272.9" r="4.8" fill="url(#gH)"/><circle cx="1317.2" cy="291.7" r="5.75" fill="url(#gC)"/><circle cx="1321.6" cy="299.0" r="5.75" fill="url(#gC)"/><circle cx="1291.0" cy="307.0" r="5.75" fill="url(#gC)"/><circle cx="1257.5" cy="309.2" r="5.75" fill="url(#gC)"/><circle cx="1253.1" cy="300.4" r="5.75" fill="url(#gC)"/><circle cx="1283.0" cy="291.7" r="5.75" fill="url(#gC)"/><circle cx="1343.4" cy="297.5" r="4.8" fill="url(#gH)"/><circle cx="1293.2" cy="312.8" r="4.8" fill="url(#gH)"/><circle cx="1237.1" cy="315.7" r="4.8" fill="url(#gH)"/><circle cx="1230.5" cy="300.4" r="4.8" fill="url(#gH)"/><circle cx="1280.1" cy="285.1" r="4.8" fill="url(#gH)"/><circle cx="1359.7" cy="234.2" r="5.75" fill="url(#gC)"/><circle cx="1380.6" cy="228.1" r="4.8" fill="url(#gH)"/><circle cx="1365.3" cy="221.9" r="4.8" fill="url(#gH)"/><circle cx="1326.7" cy="217.5" r="5.75" fill="url(#gC)"/><circle cx="1318.7" cy="218.9" r="5.75" fill="url(#gC)"/><circle cx="1301.2" cy="200.7" r="5.75" fill="url(#gC)"/><circle cx="1288.1" cy="202.9" r="5.75" fill="url(#gC)"/><circle cx="1270.6" cy="185.4" r="5.75" fill="url(#gC)"/><circle cx="1264.0" cy="186.9" r="5.75" fill="url(#gC)"/><circle cx="1234.9" cy="171.6" r="6.6" fill="url(#gF)"/><circle cx="1336.4" cy="229.1" r="4.8" fill="url(#gH)"/><circle cx="1306.3" cy="200.7" r="4.8" fill="url(#gH)"/><circle cx="1282.3" cy="203.7" r="4.8" fill="url(#gH)"/><circle cx="1254.6" cy="173.8" r="4.8" fill="url(#gH)"/><line x1="1497.5" y1="48.9" x2="1528.6" y2="64.2" stroke="#7c7c7c" stroke-width="4.60"/><line x1="1497.6" y1="48.7" x2="1528.7" y2="64.0" stroke="#bebebe" stroke-width="3.31"/><line x1="1497.8" y1="48.3" x2="1528.9" y2="63.6" stroke="#e2e2e2" stroke-width="1.38"/><line x1="1528.6" y1="64.2" x2="1531.5" y2="101.6" stroke="#7c7c7c" stroke-width="4.60"/><line x1="1528.4" y1="64.2" x2="1531.3" y2="101.6" stroke="#bebebe" stroke-width="3.31"/><line x1="1528.0" y1="64.2" x2="1530.9" y2="101.6" stroke="#e2e2e2" stroke-width="1.38"/><line x1="1531.5" y1="101.6" x2="1504.3" y2="123.2" stroke="#7c7c7c" stroke-width="4.60"/><line x1="1531.4" y1="101.4" x2="1504.2" y2="123.0" stroke="#bebebe" stroke-width="3.31"/><line x1="1531.1" y1="101.1" x2="1503.9" y2="122.7" stroke="#e2e2e2" stroke-width="1.38"/><line x1="1504.3" y1="123.2" x2="1473.7" y2="107.5" stroke="#7c7c7c" stroke-width="4.60"/><line x1="1504.4" y1="123.0" x2="1473.8" y2="107.3" stroke="#bebebe" stroke-width="3.31"/><line x1="1504.6" y1="122.6" x2="1474.0" y2="106.9" stroke="#e2e2e2" stroke-width="1.38"/><line x1="1473.7" y1="107.5" x2="1470.8" y2="71.0" stroke="#7c7c7c" stroke-width="4.60"/><line x1="1473.5" y1="107.5" x2="1470.6" y2="71.0" stroke="#bebebe" stroke-width="3.31"/><line x1="1473.1" y1="107.6" x2="1470.2" y2="71.1" stroke="#e2e2e2" stroke-width="1.38"/><line x1="1470.8" y1="71.0" x2="1497.5" y2="48.9" stroke="#7c7c7c" stroke-width="4.60"/><line x1="1470.7" y1="70.8" x2="1497.4" y2="48.7" stroke="#bebebe" stroke-width="3.31"/><line x1="1470.4" y1="70.5" x2="1497.1" y2="48.4" stroke="#e2e2e2" stroke-width="1.38"/><line x1="1497.5" y1="48.9" x2="1496.2" y2="24.3" stroke="#7c7c7c" stroke-width="3.80"/><line x1="1497.3" y1="48.9" x2="1496.0" y2="24.3" stroke="#bebebe" stroke-width="2.74"/><line x1="1497.0" y1="48.9" x2="1495.7" y2="24.3" stroke="#e2e2e2" stroke-width="1.14"/><line x1="1528.6" y1="64.2" x2="1546.8" y2="49.8" stroke="#7c7c7c" stroke-width="3.80"/><line x1="1528.5" y1="64.1" x2="1546.7" y2="49.7" stroke="#bebebe" stroke-width="2.74"/><line x1="1528.3" y1="63.8" x2="1546.5" y2="49.4" stroke="#e2e2e2" stroke-width="1.14"/><line x1="1504.3" y1="123.2" x2="1506.0" y2="147.5" stroke="#7c7c7c" stroke-width="3.80"/><line x1="1504.1" y1="123.2" x2="1505.8" y2="147.5" stroke="#bebebe" stroke-width="2.74"/><line x1="1503.8" y1="123.2" x2="1505.5" y2="147.5" stroke="#e2e2e2" stroke-width="1.14"/><line x1="1473.7" y1="107.5" x2="1455.0" y2="123.3" stroke="#7c7c7c" stroke-width="3.80"/><line x1="1473.6" y1="107.4" x2="1454.9" y2="123.2" stroke="#bebebe" stroke-width="2.74"/><line x1="1473.4" y1="107.1" x2="1454.7" y2="122.9" stroke="#e2e2e2" stroke-width="1.14"/><line x1="1470.8" y1="71.0" x2="1449.9" y2="62.0" stroke="#7c7c7c" stroke-width="3.80"/><line x1="1470.9" y1="70.8" x2="1450.0" y2="61.8" stroke="#bebebe" stroke-width="2.74"/><line x1="1471.0" y1="70.5" x2="1450.1" y2="61.5" stroke="#e2e2e2" stroke-width="1.14"/><line x1="1570.8" y1="118.4" x2="1573.6" y2="95.6" stroke="#7c7c7c" stroke-width="2.50"/><line x1="1570.7" y1="118.4" x2="1573.5" y2="95.6" stroke="#bebebe" stroke-width="1.80"/><line x1="1570.5" y1="118.4" x2="1573.3" y2="95.6" stroke="#e2e2e2" stroke-width="0.75"/><line x1="1573.6" y1="95.6" x2="1596.2" y2="67.5" stroke="#7c7c7c" stroke-width="4.60"/><line x1="1573.4" y1="95.5" x2="1596.0" y2="67.4" stroke="#bebebe" stroke-width="3.31"/><line x1="1573.1" y1="95.2" x2="1595.7" y2="67.1" stroke="#e2e2e2" stroke-width="1.38"/><line x1="1596.2" y1="67.5" x2="1596.9" y2="50.0" stroke="#7c7c7c" stroke-width="4.60"/><line x1="1596.0" y1="67.5" x2="1596.7" y2="50.0" stroke="#bebebe" stroke-width="3.31"/><line x1="1595.6" y1="67.5" x2="1596.3" y2="50.0" stroke="#e2e2e2" stroke-width="1.38"/><line x1="1596.9" y1="50.0" x2="1573.9" y2="62.4" stroke="#555555" stroke-width="4.60"/><line x1="1596.8" y1="49.8" x2="1573.8" y2="62.2" stroke="#727272" stroke-width="3.31"/><line x1="1596.6" y1="49.4" x2="1573.6" y2="61.8" stroke="#909090" stroke-width="1.38"/><line x1="1573.9" y1="62.4" x2="1551.4" y2="90.8" stroke="#7c7c7c" stroke-width="4.60"/><line x1="1573.7" y1="62.3" x2="1551.2" y2="90.7" stroke="#bebebe" stroke-width="3.31"/><line x1="1573.4" y1="62.0" x2="1550.9" y2="90.4" stroke="#e2e2e2" stroke-width="1.38"/><line x1="1551.4" y1="90.8" x2="1550.3" y2="108.3" stroke="#7c7c7c" stroke-width="4.60"/><line x1="1551.2" y1="90.8" x2="1550.1" y2="108.3" stroke="#bebebe" stroke-width="3.31"/><line x1="1550.8" y1="90.8" x2="1549.7" y2="108.3" stroke="#e2e2e2" stroke-width="1.38"/><line x1="1550.3" y1="108.3" x2="1573.6" y2="95.6" stroke="#555555" stroke-width="4.60"/><line x1="1550.2" y1="108.1" x2="1573.5" y2="95.4" stroke="#727272" stroke-width="3.31"/><line x1="1550.0" y1="107.7" x2="1573.3" y2="95.0" stroke="#909090" stroke-width="1.38"/><line x1="1596.2" y1="67.5" x2="1611.4" y2="59.5" stroke="#7c7c7c" stroke-width="3.80"/><line x1="1596.1" y1="67.3" x2="1611.3" y2="59.3" stroke="#bebebe" stroke-width="2.74"/><line x1="1596.0" y1="67.0" x2="1611.2" y2="59.0" stroke="#e2e2e2" stroke-width="1.14"/><line x1="1596.9" y1="50.0" x2="1612.9" y2="32.1" stroke="#7c7c7c" stroke-width="3.80"/><line x1="1596.8" y1="49.9" x2="1612.8" y2="32.0" stroke="#bebebe" stroke-width="2.74"/><line x1="1596.5" y1="49.6" x2="1612.5" y2="31.7" stroke="#e2e2e2" stroke-width="1.14"/><line x1="1573.9" y1="62.4" x2="1574.7" y2="50.8" stroke="#7c7c7c" stroke-width="3.80"/><line x1="1573.7" y1="62.4" x2="1574.5" y2="50.8" stroke="#bebebe" stroke-width="2.74"/><line x1="1573.4" y1="62.4" x2="1574.2" y2="50.8" stroke="#e2e2e2" stroke-width="1.14"/><line x1="1551.4" y1="90.8" x2="1535.7" y2="97.3" stroke="#555555" stroke-width="3.80"/><line x1="1551.3" y1="90.6" x2="1535.6" y2="97.1" stroke="#727272" stroke-width="2.74"/><line x1="1551.2" y1="90.3" x2="1535.5" y2="96.8" stroke="#909090" stroke-width="1.14"/><line x1="1550.3" y1="108.3" x2="1535.2" y2="127.1" stroke="#7c7c7c" stroke-width="3.80"/><line x1="1550.2" y1="108.2" x2="1535.1" y2="127.0" stroke="#bebebe" stroke-width="2.74"/><line x1="1549.9" y1="108.0" x2="1534.8" y2="126.8" stroke="#e2e2e2" stroke-width="1.14"/><line x1="1570.8" y1="118.4" x2="1610.0" y2="108.3" stroke="#555555" stroke-width="4.30"/><line x1="1570.7" y1="118.2" x2="1609.9" y2="108.1" stroke="#727272" stroke-width="3.10"/><line x1="1570.6" y1="117.8" x2="1609.8" y2="107.7" stroke="#909090" stroke-width="1.29"/><line x1="1610.0" y1="108.3" x2="1605.6" y2="101.0" stroke="#7c7c7c" stroke-width="4.60"/><line x1="1610.2" y1="108.2" x2="1605.8" y2="100.9" stroke="#bebebe" stroke-width="3.31"/><line x1="1610.6" y1="108.0" x2="1606.2" y2="100.7" stroke="#e2e2e2" stroke-width="1.38"/><line x1="1605.6" y1="101.0" x2="1636.2" y2="93.0" stroke="#555555" stroke-width="4.60"/><line x1="1605.5" y1="100.8" x2="1636.1" y2="92.8" stroke="#727272" stroke-width="3.31"/><line x1="1605.4" y1="100.4" x2="1636.0" y2="92.4" stroke="#909090" stroke-width="1.38"/><line x1="1636.2" y1="93.0" x2="1669.7" y2="90.8" stroke="#7c7c7c" stroke-width="4.60"/><line x1="1636.2" y1="92.8" x2="1669.7" y2="90.6" stroke="#bebebe" stroke-width="3.31"/><line x1="1636.2" y1="92.4" x2="1669.7" y2="90.2" stroke="#e2e2e2" stroke-width="1.38"/><line x1="1669.7" y1="90.8" x2="1674.1" y2="99.6" stroke="#7c7c7c" stroke-width="4.60"/><line x1="1669.9" y1="90.7" x2="1674.3" y2="99.5" stroke="#bebebe" stroke-width="3.31"/><line x1="1670.3" y1="90.5" x2="1674.7" y2="99.3" stroke="#e2e2e2" stroke-width="1.38"/><line x1="1674.1" y1="99.6" x2="1644.2" y2="108.3" stroke="#555555" stroke-width="4.60"/><line x1="1674.0" y1="99.4" x2="1644.1" y2="108.1" stroke="#727272" stroke-width="3.31"/><line x1="1673.9" y1="99.0" x2="1644.0" y2="107.7" stroke="#909090" stroke-width="1.38"/><line x1="1644.2" y1="108.3" x2="1610.0" y2="108.3" stroke="#7c7c7c" stroke-width="4.60"/><line x1="1644.2" y1="108.1" x2="1610.0" y2="108.1" stroke="#bebebe" stroke-width="3.31"/><line x1="1644.2" y1="107.7" x2="1610.0" y2="107.7" stroke="#e2e2e2" stroke-width="1.38"/><line x1="1605.6" y1="101.0" x2="1583.8" y2="102.5" stroke="#7c7c7c" stroke-width="3.80"/><line x1="1605.6" y1="100.8" x2="1583.8" y2="102.3" stroke="#bebebe" stroke-width="2.74"/><line x1="1605.6" y1="100.5" x2="1583.8" y2="102.0" stroke="#e2e2e2" stroke-width="1.14"/><line x1="1636.2" y1="93.0" x2="1634.0" y2="87.2" stroke="#7c7c7c" stroke-width="3.80"/><line x1="1636.4" y1="92.9" x2="1634.2" y2="87.1" stroke="#bebebe" stroke-width="2.74"/><line x1="1636.7" y1="92.8" x2="1634.5" y2="87.0" stroke="#e2e2e2" stroke-width="1.14"/><line x1="1669.7" y1="90.8" x2="1690.1" y2="84.3" stroke="#7c7c7c" stroke-width="3.80"/><line x1="1669.6" y1="90.6" x2="1690.0" y2="84.1" stroke="#bebebe" stroke-width="2.74"/><line x1="1669.5" y1="90.3" x2="1689.9" y2="83.8" stroke="#e2e2e2" stroke-width="1.14"/><line x1="1674.1" y1="99.6" x2="1696.7" y2="99.6" stroke="#7c7c7c" stroke-width="3.80"/><line x1="1674.1" y1="99.4" x2="1696.7" y2="99.4" stroke="#bebebe" stroke-width="2.74"/><line x1="1674.1" y1="99.1" x2="1696.7" y2="99.1" stroke="#e2e2e2" stroke-width="1.14"/><line x1="1644.2" y1="108.3" x2="1647.1" y2="114.9" stroke="#7c7c7c" stroke-width="3.80"/><line x1="1644.4" y1="108.2" x2="1647.3" y2="114.8" stroke="#bebebe" stroke-width="2.74"/><line x1="1644.7" y1="108.1" x2="1647.6" y2="114.7" stroke="#e2e2e2" stroke-width="1.14"/><line x1="1570.8" y1="118.4" x2="1567.5" y2="165.8" stroke="#7c7c7c" stroke-width="2.50"/><line x1="1570.7" y1="118.4" x2="1567.4" y2="165.8" stroke="#bebebe" stroke-width="1.80"/><line x1="1570.5" y1="118.4" x2="1567.2" y2="165.8" stroke="#e2e2e2" stroke-width="0.75"/><line x1="1567.5" y1="165.8" x2="1546.6" y2="171.9" stroke="#7c7c7c" stroke-width="3.80"/><line x1="1567.4" y1="165.6" x2="1546.5" y2="171.7" stroke="#bebebe" stroke-width="2.74"/><line x1="1567.4" y1="165.3" x2="1546.5" y2="171.4" stroke="#e2e2e2" stroke-width="1.14"/><line x1="1567.5" y1="165.8" x2="1561.9" y2="178.1" stroke="#7c7c7c" stroke-width="3.80"/><line x1="1567.3" y1="165.7" x2="1561.7" y2="178.0" stroke="#bebebe" stroke-width="2.74"/><line x1="1567.0" y1="165.6" x2="1561.4" y2="177.9" stroke="#e2e2e2" stroke-width="1.14"/><line x1="1567.5" y1="165.8" x2="1600.5" y2="182.5" stroke="#7c7c7c" stroke-width="2.50"/><line x1="1567.6" y1="165.7" x2="1600.6" y2="182.4" stroke="#bebebe" stroke-width="1.80"/><line x1="1567.7" y1="165.5" x2="1600.7" y2="182.2" stroke="#e2e2e2" stroke-width="0.75"/><line x1="1600.5" y1="182.5" x2="1608.5" y2="181.1" stroke="#7c7c7c" stroke-width="4.60"/><line x1="1600.5" y1="182.3" x2="1608.5" y2="180.9" stroke="#bebebe" stroke-width="3.31"/><line x1="1600.4" y1="181.9" x2="1608.4" y2="180.5" stroke="#e2e2e2" stroke-width="1.38"/><line x1="1600.5" y1="182.5" x2="1626.0" y2="199.3" stroke="#7c7c7c" stroke-width="4.60"/><line x1="1600.6" y1="182.3" x2="1626.1" y2="199.1" stroke="#bebebe" stroke-width="3.31"/><line x1="1600.9" y1="182.0" x2="1626.4" y2="198.8" stroke="#e2e2e2" stroke-width="1.38"/><line x1="1608.5" y1="181.1" x2="1639.1" y2="197.1" stroke="#7c7c7c" stroke-width="4.60"/><line x1="1608.6" y1="180.9" x2="1639.2" y2="196.9" stroke="#bebebe" stroke-width="3.31"/><line x1="1608.8" y1="180.5" x2="1639.4" y2="196.5" stroke="#e2e2e2" stroke-width="1.38"/><line x1="1626.0" y1="199.3" x2="1656.6" y2="214.6" stroke="#7c7c7c" stroke-width="4.60"/><line x1="1626.1" y1="199.1" x2="1656.7" y2="214.4" stroke="#bebebe" stroke-width="3.31"/><line x1="1626.3" y1="198.7" x2="1656.9" y2="214.0" stroke="#e2e2e2" stroke-width="1.38"/><line x1="1639.1" y1="197.1" x2="1663.2" y2="213.1" stroke="#7c7c7c" stroke-width="4.60"/><line x1="1639.2" y1="196.9" x2="1663.3" y2="212.9" stroke="#bebebe" stroke-width="3.31"/><line x1="1639.5" y1="196.6" x2="1663.6" y2="212.6" stroke="#e2e2e2" stroke-width="1.38"/><line x1="1656.6" y1="214.6" x2="1663.2" y2="213.1" stroke="#7c7c7c" stroke-width="4.60"/><line x1="1656.5" y1="214.4" x2="1663.1" y2="212.9" stroke="#bebebe" stroke-width="3.31"/><line x1="1656.5" y1="214.0" x2="1663.1" y2="212.5" stroke="#e2e2e2" stroke-width="1.38"/><line x1="1663.2" y1="213.1" x2="1692.3" y2="228.4" stroke="#7c7c7c" stroke-width="2.50"/><line x1="1663.3" y1="213.0" x2="1692.4" y2="228.3" stroke="#bebebe" stroke-width="1.80"/><line x1="1663.4" y1="212.8" x2="1692.5" y2="228.1" stroke="#e2e2e2" stroke-width="0.75"/><line x1="1608.5" y1="181.1" x2="1590.8" y2="170.9" stroke="#7c7c7c" stroke-width="3.80"/><line x1="1608.6" y1="180.9" x2="1590.9" y2="170.7" stroke="#bebebe" stroke-width="2.74"/><line x1="1608.8" y1="180.6" x2="1591.1" y2="170.4" stroke="#e2e2e2" stroke-width="1.14"/><line x1="1626.0" y1="199.3" x2="1620.9" y2="199.3" stroke="#7c7c7c" stroke-width="3.80"/><line x1="1626.0" y1="199.1" x2="1620.9" y2="199.1" stroke="#bebebe" stroke-width="2.74"/><line x1="1626.0" y1="198.8" x2="1620.9" y2="198.8" stroke="#e2e2e2" stroke-width="1.14"/><line x1="1639.1" y1="197.1" x2="1644.9" y2="196.3" stroke="#7c7c7c" stroke-width="3.80"/><line x1="1639.1" y1="196.9" x2="1644.9" y2="196.1" stroke="#bebebe" stroke-width="2.74"/><line x1="1639.0" y1="196.6" x2="1644.8" y2="195.8" stroke="#e2e2e2" stroke-width="1.14"/><line x1="1656.6" y1="214.6" x2="1672.6" y2="226.2" stroke="#7c7c7c" stroke-width="3.80"/><line x1="1656.7" y1="214.4" x2="1672.7" y2="226.0" stroke="#bebebe" stroke-width="2.74"/><line x1="1656.9" y1="214.2" x2="1672.9" y2="225.8" stroke="#e2e2e2" stroke-width="1.14"/><circle cx="1570.8" cy="118.4" r="8.0" fill="url(#gP)"/><circle cx="1497.5" cy="48.9" r="5.75" fill="url(#gC)"/><circle cx="1528.6" cy="64.2" r="5.75" fill="url(#gC)"/><circle cx="1535.7" cy="97.3" r="4.8" fill="url(#gH)"/><circle cx="1531.5" cy="101.6" r="5.75" fill="url(#gC)"/><circle cx="1504.3" cy="123.2" r="5.75" fill="url(#gC)"/><circle cx="1473.7" cy="107.5" r="5.75" fill="url(#gC)"/><circle cx="1470.8" cy="71.0" r="5.75" fill="url(#gC)"/><circle cx="1496.2" cy="24.3" r="4.8" fill="url(#gH)"/><circle cx="1546.8" cy="49.8" r="4.8" fill="url(#gH)"/><circle cx="1506.0" cy="147.5" r="4.8" fill="url(#gH)"/><circle cx="1455.0" cy="123.3" r="4.8" fill="url(#gH)"/><circle cx="1449.9" cy="62.0" r="4.8" fill="url(#gH)"/><circle cx="1573.6" cy="95.6" r="5.75" fill="url(#gC)"/><circle cx="1596.2" cy="67.5" r="5.75" fill="url(#gC)"/><circle cx="1596.9" cy="50.0" r="5.75" fill="url(#gC)"/><circle cx="1573.9" cy="62.4" r="5.75" fill="url(#gC)"/><circle cx="1551.4" cy="90.8" r="5.75" fill="url(#gC)"/><circle cx="1550.3" cy="108.3" r="5.75" fill="url(#gC)"/><circle cx="1611.4" cy="59.5" r="4.8" fill="url(#gH)"/><circle cx="1612.9" cy="32.1" r="4.8" fill="url(#gH)"/><circle cx="1574.7" cy="50.8" r="4.8" fill="url(#gH)"/><circle cx="1535.2" cy="127.1" r="4.8" fill="url(#gH)"/><circle cx="1610.0" cy="108.3" r="5.75" fill="url(#gC)"/><circle cx="1605.6" cy="101.0" r="5.75" fill="url(#gC)"/><circle cx="1636.2" cy="93.0" r="5.75" fill="url(#gC)"/><circle cx="1669.7" cy="90.8" r="5.75" fill="url(#gC)"/><circle cx="1674.1" cy="99.6" r="5.75" fill="url(#gC)"/><circle cx="1644.2" cy="108.3" r="5.75" fill="url(#gC)"/><circle cx="1583.8" cy="102.5" r="4.8" fill="url(#gH)"/><circle cx="1634.0" cy="87.2" r="4.8" fill="url(#gH)"/><circle cx="1690.1" cy="84.3" r="4.8" fill="url(#gH)"/><circle cx="1696.7" cy="99.6" r="4.8" fill="url(#gH)"/><circle cx="1647.1" cy="114.9" r="4.8" fill="url(#gH)"/><circle cx="1567.5" cy="165.8" r="5.75" fill="url(#gC)"/><circle cx="1546.6" cy="171.9" r="4.8" fill="url(#gH)"/><circle cx="1561.9" cy="178.1" r="4.8" fill="url(#gH)"/><circle cx="1600.5" cy="182.5" r="5.75" fill="url(#gC)"/><circle cx="1608.5" cy="181.1" r="5.75" fill="url(#gC)"/><circle cx="1626.0" cy="199.3" r="5.75" fill="url(#gC)"/><circle cx="1639.1" cy="197.1" r="5.75" fill="url(#gC)"/><circle cx="1656.6" cy="214.6" r="5.75" fill="url(#gC)"/><circle cx="1663.2" cy="213.1" r="5.75" fill="url(#gC)"/><circle cx="1692.3" cy="228.4" r="6.6" fill="url(#gF)"/><circle cx="1590.8" cy="170.9" r="4.8" fill="url(#gH)"/><circle cx="1620.9" cy="199.3" r="4.8" fill="url(#gH)"/><circle cx="1644.9" cy="196.3" r="4.8" fill="url(#gH)"/><circle cx="1672.6" cy="226.2" r="4.8" fill="url(#gH)"/><line x1="1564.2" y1="115.6" x2="1536.3" y2="103.6" stroke="#7c7c7c" stroke-width="4.30"/><line x1="1564.3" y1="115.4" x2="1536.3" y2="103.4" stroke="#bebebe" stroke-width="3.10"/><line x1="1564.4" y1="115.0" x2="1536.5" y2="103.1" stroke="#e2e2e2" stroke-width="1.29"/><line x1="1812.1" y1="282.4" x2="1851.4" y2="299.2" stroke="#7c7c7c" stroke-width="4.30"/><line x1="1812.2" y1="282.2" x2="1851.5" y2="299.0" stroke="#bebebe" stroke-width="3.10"/><line x1="1812.3" y1="281.8" x2="1851.6" y2="298.6" stroke="#e2e2e2" stroke-width="1.29"/><line x1="1885.4" y1="351.9" x2="1854.3" y2="336.6" stroke="#7c7c7c" stroke-width="4.60"/><line x1="1885.5" y1="351.7" x2="1854.4" y2="336.4" stroke="#bebebe" stroke-width="3.31"/><line x1="1885.7" y1="351.3" x2="1854.6" y2="336.0" stroke="#e2e2e2" stroke-width="1.38"/><line x1="1854.3" y1="336.6" x2="1851.4" y2="299.2" stroke="#7c7c7c" stroke-width="4.60"/><line x1="1854.1" y1="336.6" x2="1851.2" y2="299.2" stroke="#bebebe" stroke-width="3.31"/><line x1="1853.7" y1="336.6" x2="1850.8" y2="299.2" stroke="#e2e2e2" stroke-width="1.38"/><line x1="1851.4" y1="299.2" x2="1878.6" y2="277.6" stroke="#7c7c7c" stroke-width="4.60"/><line x1="1851.3" y1="299.0" x2="1878.5" y2="277.4" stroke="#bebebe" stroke-width="3.31"/><line x1="1851.0" y1="298.7" x2="1878.2" y2="277.1" stroke="#e2e2e2" stroke-width="1.38"/><line x1="1878.6" y1="277.6" x2="1909.2" y2="293.3" stroke="#7c7c7c" stroke-width="4.60"/><line x1="1878.7" y1="277.4" x2="1909.3" y2="293.1" stroke="#bebebe" stroke-width="3.31"/><line x1="1878.9" y1="277.0" x2="1909.5" y2="292.7" stroke="#e2e2e2" stroke-width="1.38"/><line x1="1909.2" y1="293.3" x2="1912.1" y2="329.8" stroke="#7c7c7c" stroke-width="4.60"/><line x1="1909.0" y1="293.3" x2="1911.9" y2="329.8" stroke="#bebebe" stroke-width="3.31"/><line x1="1908.6" y1="293.4" x2="1911.5" y2="329.9" stroke="#e2e2e2" stroke-width="1.38"/><line x1="1912.1" y1="329.8" x2="1885.4" y2="351.9" stroke="#7c7c7c" stroke-width="4.60"/><line x1="1912.0" y1="329.6" x2="1885.3" y2="351.7" stroke="#bebebe" stroke-width="3.31"/><line x1="1911.7" y1="329.3" x2="1885.0" y2="351.4" stroke="#e2e2e2" stroke-width="1.38"/><line x1="1885.4" y1="351.9" x2="1886.7" y2="376.5" stroke="#7c7c7c" stroke-width="3.80"/><line x1="1885.2" y1="351.9" x2="1886.5" y2="376.5" stroke="#bebebe" stroke-width="2.74"/><line x1="1884.9" y1="351.9" x2="1886.2" y2="376.5" stroke="#e2e2e2" stroke-width="1.14"/><line x1="1854.3" y1="336.6" x2="1836.1" y2="351.0" stroke="#7c7c7c" stroke-width="3.80"/><line x1="1854.2" y1="336.5" x2="1836.0" y2="350.9" stroke="#bebebe" stroke-width="2.74"/><line x1="1854.0" y1="336.2" x2="1835.8" y2="350.6" stroke="#e2e2e2" stroke-width="1.14"/><line x1="1878.6" y1="277.6" x2="1876.9" y2="253.3" stroke="#7c7c7c" stroke-width="3.80"/><line x1="1878.4" y1="277.6" x2="1876.7" y2="253.3" stroke="#bebebe" stroke-width="2.74"/><line x1="1878.1" y1="277.6" x2="1876.4" y2="253.3" stroke="#e2e2e2" stroke-width="1.14"/><line x1="1909.2" y1="293.3" x2="1927.9" y2="277.5" stroke="#7c7c7c" stroke-width="3.80"/><line x1="1909.1" y1="293.2" x2="1927.8" y2="277.4" stroke="#bebebe" stroke-width="2.74"/><line x1="1908.9" y1="292.9" x2="1927.6" y2="277.1" stroke="#e2e2e2" stroke-width="1.14"/><line x1="1912.1" y1="329.8" x2="1933.0" y2="338.8" stroke="#7c7c7c" stroke-width="3.80"/><line x1="1912.2" y1="329.6" x2="1933.1" y2="338.6" stroke="#bebebe" stroke-width="2.74"/><line x1="1912.3" y1="329.3" x2="1933.2" y2="338.3" stroke="#e2e2e2" stroke-width="1.14"/><line x1="1812.1" y1="282.4" x2="1809.3" y2="305.2" stroke="#7c7c7c" stroke-width="2.50"/><line x1="1812.0" y1="282.4" x2="1809.2" y2="305.2" stroke="#bebebe" stroke-width="1.80"/><line x1="1811.8" y1="282.4" x2="1809.0" y2="305.2" stroke="#e2e2e2" stroke-width="0.75"/><line x1="1809.3" y1="305.2" x2="1786.7" y2="333.3" stroke="#7c7c7c" stroke-width="4.60"/><line x1="1809.1" y1="305.1" x2="1786.5" y2="333.2" stroke="#bebebe" stroke-width="3.31"/><line x1="1808.8" y1="304.8" x2="1786.2" y2="332.9" stroke="#e2e2e2" stroke-width="1.38"/><line x1="1786.7" y1="333.3" x2="1786.0" y2="350.8" stroke="#7c7c7c" stroke-width="4.60"/><line x1="1786.5" y1="333.3" x2="1785.8" y2="350.8" stroke="#bebebe" stroke-width="3.31"/><line x1="1786.1" y1="333.3" x2="1785.4" y2="350.8" stroke="#e2e2e2" stroke-width="1.38"/><line x1="1786.0" y1="350.8" x2="1809.0" y2="338.4" stroke="#555555" stroke-width="4.60"/><line x1="1785.9" y1="350.6" x2="1808.9" y2="338.2" stroke="#727272" stroke-width="3.31"/><line x1="1785.7" y1="350.2" x2="1808.7" y2="337.8" stroke="#909090" stroke-width="1.38"/><line x1="1809.0" y1="338.4" x2="1831.5" y2="310.0" stroke="#7c7c7c" stroke-width="4.60"/><line x1="1808.8" y1="338.3" x2="1831.3" y2="309.9" stroke="#bebebe" stroke-width="3.31"/><line x1="1808.5" y1="338.0" x2="1831.0" y2="309.6" stroke="#e2e2e2" stroke-width="1.38"/><line x1="1831.5" y1="310.0" x2="1832.6" y2="292.5" stroke="#7c7c7c" stroke-width="4.60"/><line x1="1831.3" y1="310.0" x2="1832.4" y2="292.5" stroke="#bebebe" stroke-width="3.31"/><line x1="1830.9" y1="310.0" x2="1832.0" y2="292.5" stroke="#e2e2e2" stroke-width="1.38"/><line x1="1832.6" y1="292.5" x2="1809.3" y2="305.2" stroke="#555555" stroke-width="4.60"/><line x1="1832.5" y1="292.3" x2="1809.2" y2="305.0" stroke="#727272" stroke-width="3.31"/><line x1="1832.3" y1="291.9" x2="1809.0" y2="304.6" stroke="#909090" stroke-width="1.38"/><line x1="1786.7" y1="333.3" x2="1771.5" y2="341.3" stroke="#7c7c7c" stroke-width="3.80"/><line x1="1786.6" y1="333.1" x2="1771.4" y2="341.1" stroke="#bebebe" stroke-width="2.74"/><line x1="1786.5" y1="332.8" x2="1771.3" y2="340.8" stroke="#e2e2e2" stroke-width="1.14"/><line x1="1786.0" y1="350.8" x2="1770.0" y2="368.7" stroke="#7c7c7c" stroke-width="3.80"/><line x1="1785.9" y1="350.7" x2="1769.9" y2="368.6" stroke="#bebebe" stroke-width="2.74"/><line x1="1785.6" y1="350.4" x2="1769.6" y2="368.3" stroke="#e2e2e2" stroke-width="1.14"/><line x1="1809.0" y1="338.4" x2="1808.2" y2="350.0" stroke="#7c7c7c" stroke-width="3.80"/><line x1="1808.8" y1="338.4" x2="1808.0" y2="350.0" stroke="#bebebe" stroke-width="2.74"/><line x1="1808.5" y1="338.4" x2="1807.7" y2="350.0" stroke="#e2e2e2" stroke-width="1.14"/><line x1="1831.5" y1="310.0" x2="1847.2" y2="303.5" stroke="#555555" stroke-width="3.80"/><line x1="1831.4" y1="309.8" x2="1847.1" y2="303.3" stroke="#727272" stroke-width="2.74"/><line x1="1831.3" y1="309.5" x2="1847.0" y2="303.0" stroke="#909090" stroke-width="1.14"/><line x1="1832.6" y1="292.5" x2="1847.7" y2="273.7" stroke="#7c7c7c" stroke-width="3.80"/><line x1="1832.5" y1="292.4" x2="1847.6" y2="273.6" stroke="#bebebe" stroke-width="2.74"/><line x1="1832.2" y1="292.2" x2="1847.3" y2="273.4" stroke="#e2e2e2" stroke-width="1.14"/><line x1="1812.1" y1="282.4" x2="1772.9" y2="292.5" stroke="#555555" stroke-width="4.30"/><line x1="1812.0" y1="282.2" x2="1772.8" y2="292.3" stroke="#727272" stroke-width="3.10"/><line x1="1811.9" y1="281.8" x2="1772.7" y2="291.9" stroke="#909090" stroke-width="1.29"/><line x1="1772.9" y1="292.5" x2="1777.3" y2="299.8" stroke="#7c7c7c" stroke-width="4.60"/><line x1="1773.1" y1="292.4" x2="1777.5" y2="299.7" stroke="#bebebe" stroke-width="3.31"/><line x1="1773.5" y1="292.2" x2="1777.9" y2="299.5" stroke="#e2e2e2" stroke-width="1.38"/><line x1="1777.3" y1="299.8" x2="1746.7" y2="307.8" stroke="#555555" stroke-width="4.60"/><line x1="1777.2" y1="299.6" x2="1746.6" y2="307.6" stroke="#727272" stroke-width="3.31"/><line x1="1777.1" y1="299.2" x2="1746.5" y2="307.2" stroke="#909090" stroke-width="1.38"/><line x1="1746.7" y1="307.8" x2="1713.2" y2="310.0" stroke="#7c7c7c" stroke-width="4.60"/><line x1="1746.7" y1="307.6" x2="1713.2" y2="309.8" stroke="#bebebe" stroke-width="3.31"/><line x1="1746.7" y1="307.2" x2="1713.2" y2="309.4" stroke="#e2e2e2" stroke-width="1.38"/><line x1="1713.2" y1="310.0" x2="1708.8" y2="301.2" stroke="#7c7c7c" stroke-width="4.60"/><line x1="1713.4" y1="309.9" x2="1709.0" y2="301.1" stroke="#bebebe" stroke-width="3.31"/><line x1="1713.8" y1="309.7" x2="1709.4" y2="300.9" stroke="#e2e2e2" stroke-width="1.38"/><line x1="1708.8" y1="301.2" x2="1738.7" y2="292.5" stroke="#7c7c7c" stroke-width="4.60"/><line x1="1708.7" y1="301.0" x2="1738.6" y2="292.3" stroke="#bebebe" stroke-width="3.31"/><line x1="1708.6" y1="300.6" x2="1738.5" y2="291.9" stroke="#e2e2e2" stroke-width="1.38"/><line x1="1738.7" y1="292.5" x2="1772.9" y2="292.5" stroke="#7c7c7c" stroke-width="4.60"/><line x1="1738.7" y1="292.3" x2="1772.9" y2="292.3" stroke="#bebebe" stroke-width="3.31"/><line x1="1738.7" y1="291.9" x2="1772.9" y2="291.9" stroke="#e2e2e2" stroke-width="1.38"/><line x1="1777.3" y1="299.8" x2="1799.1" y2="298.3" stroke="#7c7c7c" stroke-width="3.80"/><line x1="1777.3" y1="299.6" x2="1799.1" y2="298.1" stroke="#bebebe" stroke-width="2.74"/><line x1="1777.3" y1="299.3" x2="1799.1" y2="297.8" stroke="#e2e2e2" stroke-width="1.14"/><line x1="1746.7" y1="307.8" x2="1748.9" y2="313.6" stroke="#7c7c7c" stroke-width="3.80"/><line x1="1746.9" y1="307.7" x2="1749.1" y2="313.5" stroke="#bebebe" stroke-width="2.74"/><line x1="1747.2" y1="307.6" x2="1749.4" y2="313.4" stroke="#e2e2e2" stroke-width="1.14"/><line x1="1713.2" y1="310.0" x2="1692.8" y2="316.5" stroke="#7c7c7c" stroke-width="3.80"/><line x1="1713.1" y1="309.8" x2="1692.7" y2="316.3" stroke="#bebebe" stroke-width="2.74"/><line x1="1713.0" y1="309.5" x2="1692.6" y2="316.0" stroke="#e2e2e2" stroke-width="1.14"/><line x1="1708.8" y1="301.2" x2="1686.2" y2="301.2" stroke="#7c7c7c" stroke-width="3.80"/><line x1="1708.8" y1="301.0" x2="1686.2" y2="301.0" stroke="#bebebe" stroke-width="2.74"/><line x1="1708.8" y1="300.7" x2="1686.2" y2="300.7" stroke="#e2e2e2" stroke-width="1.14"/><line x1="1738.7" y1="292.5" x2="1735.8" y2="285.9" stroke="#7c7c7c" stroke-width="3.80"/><line x1="1738.9" y1="292.4" x2="1736.0" y2="285.8" stroke="#bebebe" stroke-width="2.74"/><line x1="1739.2" y1="292.3" x2="1736.3" y2="285.7" stroke="#e2e2e2" stroke-width="1.14"/><line x1="1812.1" y1="282.4" x2="1815.4" y2="235.0" stroke="#7c7c7c" stroke-width="2.50"/><line x1="1812.0" y1="282.4" x2="1815.3" y2="235.0" stroke="#bebebe" stroke-width="1.80"/><line x1="1811.8" y1="282.4" x2="1815.1" y2="235.0" stroke="#e2e2e2" stroke-width="0.75"/><line x1="1815.4" y1="235.0" x2="1836.3" y2="228.9" stroke="#7c7c7c" stroke-width="3.80"/><line x1="1815.3" y1="234.8" x2="1836.2" y2="228.7" stroke="#bebebe" stroke-width="2.74"/><line x1="1815.3" y1="234.5" x2="1836.2" y2="228.4" stroke="#e2e2e2" stroke-width="1.14"/><line x1="1815.4" y1="235.0" x2="1821.0" y2="222.7" stroke="#7c7c7c" stroke-width="3.80"/><line x1="1815.2" y1="234.9" x2="1820.8" y2="222.6" stroke="#bebebe" stroke-width="2.74"/><line x1="1814.9" y1="234.8" x2="1820.5" y2="222.5" stroke="#e2e2e2" stroke-width="1.14"/><line x1="1815.4" y1="235.0" x2="1782.4" y2="218.3" stroke="#7c7c7c" stroke-width="2.50"/><line x1="1815.5" y1="234.9" x2="1782.5" y2="218.2" stroke="#bebebe" stroke-width="1.80"/><line x1="1815.6" y1="234.7" x2="1782.6" y2="218.0" stroke="#e2e2e2" stroke-width="0.75"/><line x1="1782.4" y1="218.3" x2="1774.4" y2="219.7" stroke="#7c7c7c" stroke-width="4.60"/><line x1="1782.4" y1="218.1" x2="1774.4" y2="219.5" stroke="#bebebe" stroke-width="3.31"/><line x1="1782.3" y1="217.7" x2="1774.3" y2="219.1" stroke="#e2e2e2" stroke-width="1.38"/><line x1="1782.4" y1="218.3" x2="1756.9" y2="201.5" stroke="#7c7c7c" stroke-width="4.60"/><line x1="1782.5" y1="218.1" x2="1757.0" y2="201.3" stroke="#bebebe" stroke-width="3.31"/><line x1="1782.8" y1="217.8" x2="1757.3" y2="201.0" stroke="#e2e2e2" stroke-width="1.38"/><line x1="1774.4" y1="219.7" x2="1743.8" y2="203.7" stroke="#7c7c7c" stroke-width="4.60"/><line x1="1774.5" y1="219.5" x2="1743.9" y2="203.5" stroke="#bebebe" stroke-width="3.31"/><line x1="1774.7" y1="219.1" x2="1744.1" y2="203.1" stroke="#e2e2e2" stroke-width="1.38"/><line x1="1756.9" y1="201.5" x2="1726.3" y2="186.2" stroke="#7c7c7c" stroke-width="4.60"/><line x1="1757.0" y1="201.3" x2="1726.4" y2="186.0" stroke="#bebebe" stroke-width="3.31"/><line x1="1757.2" y1="200.9" x2="1726.6" y2="185.6" stroke="#e2e2e2" stroke-width="1.38"/><line x1="1743.8" y1="203.7" x2="1719.7" y2="187.7" stroke="#7c7c7c" stroke-width="4.60"/><line x1="1743.9" y1="203.5" x2="1719.8" y2="187.5" stroke="#bebebe" stroke-width="3.31"/><line x1="1744.2" y1="203.2" x2="1720.1" y2="187.2" stroke="#e2e2e2" stroke-width="1.38"/><line x1="1726.3" y1="186.2" x2="1719.7" y2="187.7" stroke="#7c7c7c" stroke-width="4.60"/><line x1="1726.2" y1="186.0" x2="1719.6" y2="187.5" stroke="#bebebe" stroke-width="3.31"/><line x1="1726.2" y1="185.6" x2="1719.6" y2="187.1" stroke="#e2e2e2" stroke-width="1.38"/><line x1="1719.7" y1="187.7" x2="1690.6" y2="172.4" stroke="#7c7c7c" stroke-width="2.50"/><line x1="1719.8" y1="187.6" x2="1690.7" y2="172.3" stroke="#bebebe" stroke-width="1.80"/><line x1="1719.9" y1="187.4" x2="1690.8" y2="172.1" stroke="#e2e2e2" stroke-width="0.75"/><line x1="1774.4" y1="219.7" x2="1792.1" y2="229.9" stroke="#7c7c7c" stroke-width="3.80"/><line x1="1774.5" y1="219.5" x2="1792.2" y2="229.7" stroke="#bebebe" stroke-width="2.74"/><line x1="1774.7" y1="219.2" x2="1792.4" y2="229.4" stroke="#e2e2e2" stroke-width="1.14"/><line x1="1756.9" y1="201.5" x2="1762.0" y2="201.5" stroke="#7c7c7c" stroke-width="3.80"/><line x1="1756.9" y1="201.3" x2="1762.0" y2="201.3" stroke="#bebebe" stroke-width="2.74"/><line x1="1756.9" y1="201.0" x2="1762.0" y2="201.0" stroke="#e2e2e2" stroke-width="1.14"/><line x1="1743.8" y1="203.7" x2="1738.0" y2="204.5" stroke="#7c7c7c" stroke-width="3.80"/><line x1="1743.8" y1="203.5" x2="1738.0" y2="204.3" stroke="#bebebe" stroke-width="2.74"/><line x1="1743.7" y1="203.2" x2="1737.9" y2="204.0" stroke="#e2e2e2" stroke-width="1.14"/><line x1="1726.3" y1="186.2" x2="1710.3" y2="174.6" stroke="#7c7c7c" stroke-width="3.80"/><line x1="1726.4" y1="186.0" x2="1710.4" y2="174.4" stroke="#bebebe" stroke-width="2.74"/><line x1="1726.6" y1="185.8" x2="1710.6" y2="174.2" stroke="#e2e2e2" stroke-width="1.14"/><circle cx="1812.1" cy="282.4" r="8.0" fill="url(#gP)"/><circle cx="1885.4" cy="351.9" r="5.75" fill="url(#gC)"/><circle cx="1854.3" cy="336.6" r="5.75" fill="url(#gC)"/><circle cx="1878.6" cy="277.6" r="5.75" fill="url(#gC)"/><circle cx="1909.2" cy="293.3" r="5.75" fill="url(#gC)"/><circle cx="1912.1" cy="329.8" r="5.75" fill="url(#gC)"/><circle cx="1886.7" cy="376.5" r="4.8" fill="url(#gH)"/><circle cx="1836.1" cy="351.0" r="4.8" fill="url(#gH)"/><circle cx="1876.9" cy="253.3" r="4.8" fill="url(#gH)"/><circle cx="1927.9" cy="277.5" r="4.8" fill="url(#gH)"/><circle cx="1933.0" cy="338.8" r="4.8" fill="url(#gH)"/><circle cx="1809.3" cy="305.2" r="5.75" fill="url(#gC)"/><circle cx="1786.7" cy="333.3" r="5.75" fill="url(#gC)"/><circle cx="1786.0" cy="350.8" r="5.75" fill="url(#gC)"/><circle cx="1809.0" cy="338.4" r="5.75" fill="url(#gC)"/><circle cx="1831.5" cy="310.0" r="5.75" fill="url(#gC)"/><circle cx="1832.6" cy="292.5" r="5.75" fill="url(#gC)"/><circle cx="1771.5" cy="341.3" r="4.8" fill="url(#gH)"/><circle cx="1770.0" cy="368.7" r="4.8" fill="url(#gH)"/><circle cx="1808.2" cy="350.0" r="4.8" fill="url(#gH)"/><circle cx="1851.4" cy="299.2" r="5.75" fill="url(#gC)"/><circle cx="1847.2" cy="303.5" r="4.8" fill="url(#gH)"/><circle cx="1847.7" cy="273.7" r="4.8" fill="url(#gH)"/><circle cx="1772.9" cy="292.5" r="5.75" fill="url(#gC)"/><circle cx="1777.3" cy="299.8" r="5.75" fill="url(#gC)"/><circle cx="1746.7" cy="307.8" r="5.75" fill="url(#gC)"/><circle cx="1713.2" cy="310.0" r="5.75" fill="url(#gC)"/><circle cx="1708.8" cy="301.2" r="5.75" fill="url(#gC)"/><circle cx="1738.7" cy="292.5" r="5.75" fill="url(#gC)"/><circle cx="1799.1" cy="298.3" r="4.8" fill="url(#gH)"/><circle cx="1748.9" cy="313.6" r="4.8" fill="url(#gH)"/><circle cx="1692.8" cy="316.5" r="4.8" fill="url(#gH)"/><circle cx="1686.2" cy="301.2" r="4.8" fill="url(#gH)"/><circle cx="1735.8" cy="285.9" r="4.8" fill="url(#gH)"/><circle cx="1815.4" cy="235.0" r="5.75" fill="url(#gC)"/><circle cx="1836.3" cy="228.9" r="4.8" fill="url(#gH)"/><circle cx="1821.0" cy="222.7" r="4.8" fill="url(#gH)"/><circle cx="1782.4" cy="218.3" r="5.75" fill="url(#gC)"/><circle cx="1774.4" cy="219.7" r="5.75" fill="url(#gC)"/><circle cx="1756.9" cy="201.5" r="5.75" fill="url(#gC)"/><circle cx="1743.8" cy="203.7" r="5.75" fill="url(#gC)"/><circle cx="1726.3" cy="186.2" r="5.75" fill="url(#gC)"/><circle cx="1719.7" cy="187.7" r="5.75" fill="url(#gC)"/><circle cx="1690.6" cy="172.4" r="6.6" fill="url(#gF)"/><circle cx="1792.1" cy="229.9" r="4.8" fill="url(#gH)"/><circle cx="1762.0" cy="201.5" r="4.8" fill="url(#gH)"/><circle cx="1738.0" cy="204.5" r="4.8" fill="url(#gH)"/><circle cx="1710.3" cy="174.6" r="4.8" fill="url(#gH)"/><line x1="1037.3" y1="471.7" x2="1068.4" y2="487.0" stroke="#7c7c7c" stroke-width="4.60"/><line x1="1037.4" y1="471.5" x2="1068.5" y2="486.8" stroke="#bebebe" stroke-width="3.31"/><line x1="1037.6" y1="471.1" x2="1068.7" y2="486.4" stroke="#e2e2e2" stroke-width="1.38"/><line x1="1068.4" y1="487.0" x2="1071.3" y2="524.4" stroke="#7c7c7c" stroke-width="4.60"/><line x1="1068.2" y1="487.0" x2="1071.1" y2="524.4" stroke="#bebebe" stroke-width="3.31"/><line x1="1067.8" y1="487.0" x2="1070.7" y2="524.4" stroke="#e2e2e2" stroke-width="1.38"/><line x1="1071.3" y1="524.4" x2="1044.1" y2="546.0" stroke="#7c7c7c" stroke-width="4.60"/><line x1="1071.2" y1="524.2" x2="1044.0" y2="545.8" stroke="#bebebe" stroke-width="3.31"/><line x1="1070.9" y1="523.9" x2="1043.7" y2="545.5" stroke="#e2e2e2" stroke-width="1.38"/><line x1="1044.1" y1="546.0" x2="1013.5" y2="530.3" stroke="#7c7c7c" stroke-width="4.60"/><line x1="1044.2" y1="545.8" x2="1013.6" y2="530.1" stroke="#bebebe" stroke-width="3.31"/><line x1="1044.4" y1="545.4" x2="1013.8" y2="529.7" stroke="#e2e2e2" stroke-width="1.38"/><line x1="1013.5" y1="530.3" x2="1010.6" y2="493.8" stroke="#7c7c7c" stroke-width="4.60"/><line x1="1013.3" y1="530.3" x2="1010.4" y2="493.8" stroke="#bebebe" stroke-width="3.31"/><line x1="1012.9" y1="530.4" x2="1010.0" y2="493.9" stroke="#e2e2e2" stroke-width="1.38"/><line x1="1010.6" y1="493.8" x2="1037.3" y2="471.7" stroke="#7c7c7c" stroke-width="4.60"/><line x1="1010.5" y1="493.6" x2="1037.2" y2="471.5" stroke="#bebebe" stroke-width="3.31"/><line x1="1010.2" y1="493.3" x2="1036.9" y2="471.2" stroke="#e2e2e2" stroke-width="1.38"/><line x1="1037.3" y1="471.7" x2="1036.0" y2="447.1" stroke="#7c7c7c" stroke-width="3.80"/><line x1="1037.1" y1="471.7" x2="1035.8" y2="447.1" stroke="#bebebe" stroke-width="2.74"/><line x1="1036.8" y1="471.7" x2="1035.5" y2="447.1" stroke="#e2e2e2" stroke-width="1.14"/><line x1="1068.4" y1="487.0" x2="1086.6" y2="472.6" stroke="#7c7c7c" stroke-width="3.80"/><line x1="1068.3" y1="486.9" x2="1086.5" y2="472.5" stroke="#bebebe" stroke-width="2.74"/><line x1="1068.1" y1="486.6" x2="1086.3" y2="472.2" stroke="#e2e2e2" stroke-width="1.14"/><line x1="1044.1" y1="546.0" x2="1045.8" y2="570.3" stroke="#7c7c7c" stroke-width="3.80"/><line x1="1043.9" y1="546.0" x2="1045.6" y2="570.3" stroke="#bebebe" stroke-width="2.74"/><line x1="1043.6" y1="546.0" x2="1045.3" y2="570.3" stroke="#e2e2e2" stroke-width="1.14"/><line x1="1013.5" y1="530.3" x2="994.8" y2="546.1" stroke="#7c7c7c" stroke-width="3.80"/><line x1="1013.4" y1="530.2" x2="994.7" y2="546.0" stroke="#bebebe" stroke-width="2.74"/><line x1="1013.2" y1="529.9" x2="994.5" y2="545.7" stroke="#e2e2e2" stroke-width="1.14"/><line x1="1010.6" y1="493.8" x2="989.7" y2="484.8" stroke="#7c7c7c" stroke-width="3.80"/><line x1="1010.7" y1="493.6" x2="989.8" y2="484.6" stroke="#bebebe" stroke-width="2.74"/><line x1="1010.8" y1="493.3" x2="989.9" y2="484.3" stroke="#e2e2e2" stroke-width="1.14"/><line x1="1110.6" y1="541.2" x2="1113.4" y2="518.4" stroke="#7c7c7c" stroke-width="2.50"/><line x1="1110.5" y1="541.2" x2="1113.3" y2="518.4" stroke="#bebebe" stroke-width="1.80"/><line x1="1110.3" y1="541.2" x2="1113.1" y2="518.4" stroke="#e2e2e2" stroke-width="0.75"/><line x1="1113.4" y1="518.4" x2="1136.0" y2="490.3" stroke="#7c7c7c" stroke-width="4.60"/><line x1="1113.2" y1="518.3" x2="1135.8" y2="490.2" stroke="#bebebe" stroke-width="3.31"/><line x1="1112.9" y1="518.0" x2="1135.5" y2="489.9" stroke="#e2e2e2" stroke-width="1.38"/><line x1="1136.0" y1="490.3" x2="1136.7" y2="472.8" stroke="#7c7c7c" stroke-width="4.60"/><line x1="1135.8" y1="490.3" x2="1136.5" y2="472.8" stroke="#bebebe" stroke-width="3.31"/><line x1="1135.4" y1="490.3" x2="1136.1" y2="472.8" stroke="#e2e2e2" stroke-width="1.38"/><line x1="1136.7" y1="472.8" x2="1113.7" y2="485.2" stroke="#555555" stroke-width="4.60"/><line x1="1136.6" y1="472.6" x2="1113.6" y2="485.0" stroke="#727272" stroke-width="3.31"/><line x1="1136.4" y1="472.2" x2="1113.4" y2="484.6" stroke="#909090" stroke-width="1.38"/><line x1="1113.7" y1="485.2" x2="1091.2" y2="513.6" stroke="#7c7c7c" stroke-width="4.60"/><line x1="1113.5" y1="485.1" x2="1091.0" y2="513.5" stroke="#bebebe" stroke-width="3.31"/><line x1="1113.2" y1="484.8" x2="1090.7" y2="513.2" stroke="#e2e2e2" stroke-width="1.38"/><line x1="1091.2" y1="513.6" x2="1090.1" y2="531.1" stroke="#7c7c7c" stroke-width="4.60"/><line x1="1091.0" y1="513.6" x2="1089.9" y2="531.1" stroke="#bebebe" stroke-width="3.31"/><line x1="1090.6" y1="513.6" x2="1089.5" y2="531.1" stroke="#e2e2e2" stroke-width="1.38"/><line x1="1090.1" y1="531.1" x2="1113.4" y2="518.4" stroke="#555555" stroke-width="4.60"/><line x1="1090.0" y1="530.9" x2="1113.3" y2="518.2" stroke="#727272" stroke-width="3.31"/><line x1="1089.8" y1="530.5" x2="1113.1" y2="517.8" stroke="#909090" stroke-width="1.38"/><line x1="1136.0" y1="490.3" x2="1151.2" y2="482.3" stroke="#7c7c7c" stroke-width="3.80"/><line x1="1135.9" y1="490.1" x2="1151.1" y2="482.1" stroke="#bebebe" stroke-width="2.74"/><line x1="1135.8" y1="489.8" x2="1151.0" y2="481.8" stroke="#e2e2e2" stroke-width="1.14"/><line x1="1136.7" y1="472.8" x2="1152.7" y2="454.9" stroke="#7c7c7c" stroke-width="3.80"/><line x1="1136.6" y1="472.7" x2="1152.6" y2="454.8" stroke="#bebebe" stroke-width="2.74"/><line x1="1136.3" y1="472.4" x2="1152.3" y2="454.5" stroke="#e2e2e2" stroke-width="1.14"/><line x1="1113.7" y1="485.2" x2="1114.5" y2="473.6" stroke="#7c7c7c" stroke-width="3.80"/><line x1="1113.5" y1="485.2" x2="1114.3" y2="473.6" stroke="#bebebe" stroke-width="2.74"/><line x1="1113.2" y1="485.2" x2="1114.0" y2="473.6" stroke="#e2e2e2" stroke-width="1.14"/><line x1="1091.2" y1="513.6" x2="1075.5" y2="520.1" stroke="#555555" stroke-width="3.80"/><line x1="1091.1" y1="513.4" x2="1075.4" y2="519.9" stroke="#727272" stroke-width="2.74"/><line x1="1091.0" y1="513.1" x2="1075.3" y2="519.6" stroke="#909090" stroke-width="1.14"/><line x1="1090.1" y1="531.1" x2="1075.0" y2="549.9" stroke="#7c7c7c" stroke-width="3.80"/><line x1="1090.0" y1="531.0" x2="1074.9" y2="549.8" stroke="#bebebe" stroke-width="2.74"/><line x1="1089.7" y1="530.8" x2="1074.6" y2="549.6" stroke="#e2e2e2" stroke-width="1.14"/><line x1="1110.6" y1="541.2" x2="1149.8" y2="531.1" stroke="#555555" stroke-width="4.30"/><line x1="1110.5" y1="541.0" x2="1149.7" y2="530.9" stroke="#727272" stroke-width="3.10"/><line x1="1110.4" y1="540.6" x2="1149.6" y2="530.5" stroke="#909090" stroke-width="1.29"/><line x1="1149.8" y1="531.1" x2="1145.4" y2="523.8" stroke="#7c7c7c" stroke-width="4.60"/><line x1="1150.0" y1="531.0" x2="1145.6" y2="523.7" stroke="#bebebe" stroke-width="3.31"/><line x1="1150.4" y1="530.8" x2="1146.0" y2="523.5" stroke="#e2e2e2" stroke-width="1.38"/><line x1="1145.4" y1="523.8" x2="1176.0" y2="515.8" stroke="#555555" stroke-width="4.60"/><line x1="1145.3" y1="523.6" x2="1175.9" y2="515.6" stroke="#727272" stroke-width="3.31"/><line x1="1145.2" y1="523.2" x2="1175.8" y2="515.2" stroke="#909090" stroke-width="1.38"/><line x1="1176.0" y1="515.8" x2="1209.5" y2="513.6" stroke="#7c7c7c" stroke-width="4.60"/><line x1="1176.0" y1="515.6" x2="1209.5" y2="513.4" stroke="#bebebe" stroke-width="3.31"/><line x1="1176.0" y1="515.2" x2="1209.5" y2="513.0" stroke="#e2e2e2" stroke-width="1.38"/><line x1="1209.5" y1="513.6" x2="1213.9" y2="522.4" stroke="#7c7c7c" stroke-width="4.60"/><line x1="1209.7" y1="513.5" x2="1214.1" y2="522.3" stroke="#bebebe" stroke-width="3.31"/><line x1="1210.1" y1="513.3" x2="1214.5" y2="522.1" stroke="#e2e2e2" stroke-width="1.38"/><line x1="1213.9" y1="522.4" x2="1184.0" y2="531.1" stroke="#555555" stroke-width="4.60"/><line x1="1213.8" y1="522.2" x2="1183.9" y2="530.9" stroke="#727272" stroke-width="3.31"/><line x1="1213.7" y1="521.8" x2="1183.8" y2="530.5" stroke="#909090" stroke-width="1.38"/><line x1="1184.0" y1="531.1" x2="1149.8" y2="531.1" stroke="#7c7c7c" stroke-width="4.60"/><line x1="1184.0" y1="530.9" x2="1149.8" y2="530.9" stroke="#bebebe" stroke-width="3.31"/><line x1="1184.0" y1="530.5" x2="1149.8" y2="530.5" stroke="#e2e2e2" stroke-width="1.38"/><line x1="1145.4" y1="523.8" x2="1123.6" y2="525.3" stroke="#7c7c7c" stroke-width="3.80"/><line x1="1145.4" y1="523.6" x2="1123.6" y2="525.1" stroke="#bebebe" stroke-width="2.74"/><line x1="1145.4" y1="523.3" x2="1123.6" y2="524.8" stroke="#e2e2e2" stroke-width="1.14"/><line x1="1176.0" y1="515.8" x2="1173.8" y2="510.0" stroke="#7c7c7c" stroke-width="3.80"/><line x1="1176.2" y1="515.7" x2="1174.0" y2="509.9" stroke="#bebebe" stroke-width="2.74"/><line x1="1176.5" y1="515.6" x2="1174.3" y2="509.8" stroke="#e2e2e2" stroke-width="1.14"/><line x1="1209.5" y1="513.6" x2="1229.9" y2="507.1" stroke="#7c7c7c" stroke-width="3.80"/><line x1="1209.4" y1="513.4" x2="1229.8" y2="506.9" stroke="#bebebe" stroke-width="2.74"/><line x1="1209.3" y1="513.1" x2="1229.7" y2="506.6" stroke="#e2e2e2" stroke-width="1.14"/><line x1="1213.9" y1="522.4" x2="1236.5" y2="522.4" stroke="#7c7c7c" stroke-width="3.80"/><line x1="1213.9" y1="522.2" x2="1236.5" y2="522.2" stroke="#bebebe" stroke-width="2.74"/><line x1="1213.9" y1="521.9" x2="1236.5" y2="521.9" stroke="#e2e2e2" stroke-width="1.14"/><line x1="1184.0" y1="531.1" x2="1186.9" y2="537.7" stroke="#7c7c7c" stroke-width="3.80"/><line x1="1184.2" y1="531.0" x2="1187.1" y2="537.6" stroke="#bebebe" stroke-width="2.74"/><line x1="1184.5" y1="530.9" x2="1187.4" y2="537.5" stroke="#e2e2e2" stroke-width="1.14"/><line x1="1110.6" y1="541.2" x2="1107.3" y2="588.6" stroke="#7c7c7c" stroke-width="2.50"/><line x1="1110.5" y1="541.2" x2="1107.2" y2="588.6" stroke="#bebebe" stroke-width="1.80"/><line x1="1110.3" y1="541.2" x2="1107.0" y2="588.6" stroke="#e2e2e2" stroke-width="0.75"/><line x1="1107.3" y1="588.6" x2="1086.4" y2="594.7" stroke="#7c7c7c" stroke-width="3.80"/><line x1="1107.2" y1="588.4" x2="1086.3" y2="594.5" stroke="#bebebe" stroke-width="2.74"/><line x1="1107.2" y1="588.1" x2="1086.3" y2="594.2" stroke="#e2e2e2" stroke-width="1.14"/><line x1="1107.3" y1="588.6" x2="1101.7" y2="600.9" stroke="#7c7c7c" stroke-width="3.80"/><line x1="1107.1" y1="588.5" x2="1101.5" y2="600.8" stroke="#bebebe" stroke-width="2.74"/><line x1="1106.8" y1="588.4" x2="1101.2" y2="600.7" stroke="#e2e2e2" stroke-width="1.14"/><line x1="1107.3" y1="588.6" x2="1140.3" y2="605.3" stroke="#7c7c7c" stroke-width="2.50"/><line x1="1107.4" y1="588.5" x2="1140.4" y2="605.2" stroke="#bebebe" stroke-width="1.80"/><line x1="1107.5" y1="588.3" x2="1140.5" y2="605.0" stroke="#e2e2e2" stroke-width="0.75"/><line x1="1140.3" y1="605.3" x2="1148.3" y2="603.9" stroke="#7c7c7c" stroke-width="4.60"/><line x1="1140.3" y1="605.1" x2="1148.3" y2="603.7" stroke="#bebebe" stroke-width="3.31"/><line x1="1140.2" y1="604.7" x2="1148.2" y2="603.3" stroke="#e2e2e2" stroke-width="1.38"/><line x1="1140.3" y1="605.3" x2="1165.8" y2="622.1" stroke="#7c7c7c" stroke-width="4.60"/><line x1="1140.4" y1="605.1" x2="1165.9" y2="621.9" stroke="#bebebe" stroke-width="3.31"/><line x1="1140.7" y1="604.8" x2="1166.2" y2="621.6" stroke="#e2e2e2" stroke-width="1.38"/><line x1="1148.3" y1="603.9" x2="1178.9" y2="619.9" stroke="#7c7c7c" stroke-width="4.60"/><line x1="1148.4" y1="603.7" x2="1179.0" y2="619.7" stroke="#bebebe" stroke-width="3.31"/><line x1="1148.6" y1="603.3" x2="1179.2" y2="619.3" stroke="#e2e2e2" stroke-width="1.38"/><line x1="1165.8" y1="622.1" x2="1196.4" y2="637.4" stroke="#7c7c7c" stroke-width="4.60"/><line x1="1165.9" y1="621.9" x2="1196.5" y2="637.2" stroke="#bebebe" stroke-width="3.31"/><line x1="1166.1" y1="621.5" x2="1196.7" y2="636.8" stroke="#e2e2e2" stroke-width="1.38"/><line x1="1178.9" y1="619.9" x2="1203.0" y2="635.9" stroke="#7c7c7c" stroke-width="4.60"/><line x1="1179.0" y1="619.7" x2="1203.1" y2="635.7" stroke="#bebebe" stroke-width="3.31"/><line x1="1179.3" y1="619.4" x2="1203.4" y2="635.4" stroke="#e2e2e2" stroke-width="1.38"/><line x1="1196.4" y1="637.4" x2="1203.0" y2="635.9" stroke="#7c7c7c" stroke-width="4.60"/><line x1="1196.3" y1="637.2" x2="1202.9" y2="635.7" stroke="#bebebe" stroke-width="3.31"/><line x1="1196.3" y1="636.8" x2="1202.9" y2="635.3" stroke="#e2e2e2" stroke-width="1.38"/><line x1="1203.0" y1="635.9" x2="1232.1" y2="651.2" stroke="#7c7c7c" stroke-width="2.50"/><line x1="1203.1" y1="635.8" x2="1232.2" y2="651.1" stroke="#bebebe" stroke-width="1.80"/><line x1="1203.2" y1="635.6" x2="1232.3" y2="650.9" stroke="#e2e2e2" stroke-width="0.75"/><line x1="1148.3" y1="603.9" x2="1130.6" y2="593.7" stroke="#7c7c7c" stroke-width="3.80"/><line x1="1148.4" y1="603.7" x2="1130.7" y2="593.5" stroke="#bebebe" stroke-width="2.74"/><line x1="1148.6" y1="603.4" x2="1130.9" y2="593.2" stroke="#e2e2e2" stroke-width="1.14"/><line x1="1165.8" y1="622.1" x2="1160.7" y2="622.1" stroke="#7c7c7c" stroke-width="3.80"/><line x1="1165.8" y1="621.9" x2="1160.7" y2="621.9" stroke="#bebebe" stroke-width="2.74"/><line x1="1165.8" y1="621.6" x2="1160.7" y2="621.6" stroke="#e2e2e2" stroke-width="1.14"/><line x1="1178.9" y1="619.9" x2="1184.7" y2="619.1" stroke="#7c7c7c" stroke-width="3.80"/><line x1="1178.9" y1="619.7" x2="1184.7" y2="618.9" stroke="#bebebe" stroke-width="2.74"/><line x1="1178.8" y1="619.4" x2="1184.6" y2="618.6" stroke="#e2e2e2" stroke-width="1.14"/><line x1="1196.4" y1="637.4" x2="1212.4" y2="649.0" stroke="#7c7c7c" stroke-width="3.80"/><line x1="1196.5" y1="637.2" x2="1212.5" y2="648.8" stroke="#bebebe" stroke-width="2.74"/><line x1="1196.7" y1="637.0" x2="1212.7" y2="648.6" stroke="#e2e2e2" stroke-width="1.14"/><circle cx="1110.6" cy="541.2" r="8.0" fill="url(#gP)"/><circle cx="1037.3" cy="471.7" r="5.75" fill="url(#gC)"/><circle cx="1068.4" cy="487.0" r="5.75" fill="url(#gC)"/><circle cx="1075.5" cy="520.1" r="4.8" fill="url(#gH)"/><circle cx="1071.3" cy="524.4" r="5.75" fill="url(#gC)"/><circle cx="1044.1" cy="546.0" r="5.75" fill="url(#gC)"/><circle cx="1013.5" cy="530.3" r="5.75" fill="url(#gC)"/><circle cx="1010.6" cy="493.8" r="5.75" fill="url(#gC)"/><circle cx="1036.0" cy="447.1" r="4.8" fill="url(#gH)"/><circle cx="1086.6" cy="472.6" r="4.8" fill="url(#gH)"/><circle cx="1045.8" cy="570.3" r="4.8" fill="url(#gH)"/><circle cx="994.8" cy="546.1" r="4.8" fill="url(#gH)"/><circle cx="989.7" cy="484.8" r="4.8" fill="url(#gH)"/><circle cx="1113.4" cy="518.4" r="5.75" fill="url(#gC)"/><circle cx="1136.0" cy="490.3" r="5.75" fill="url(#gC)"/><circle cx="1136.7" cy="472.8" r="5.75" fill="url(#gC)"/><circle cx="1113.7" cy="485.2" r="5.75" fill="url(#gC)"/><circle cx="1091.2" cy="513.6" r="5.75" fill="url(#gC)"/><circle cx="1090.1" cy="531.1" r="5.75" fill="url(#gC)"/><circle cx="1151.2" cy="482.3" r="4.8" fill="url(#gH)"/><circle cx="1152.7" cy="454.9" r="4.8" fill="url(#gH)"/><circle cx="1114.5" cy="473.6" r="4.8" fill="url(#gH)"/><circle cx="1075.0" cy="549.9" r="4.8" fill="url(#gH)"/><circle cx="1149.8" cy="531.1" r="5.75" fill="url(#gC)"/><circle cx="1145.4" cy="523.8" r="5.75" fill="url(#gC)"/><circle cx="1176.0" cy="515.8" r="5.75" fill="url(#gC)"/><circle cx="1209.5" cy="513.6" r="5.75" fill="url(#gC)"/><circle cx="1213.9" cy="522.4" r="5.75" fill="url(#gC)"/><circle cx="1184.0" cy="531.1" r="5.75" fill="url(#gC)"/><circle cx="1123.6" cy="525.3" r="4.8" fill="url(#gH)"/><circle cx="1173.8" cy="510.0" r="4.8" fill="url(#gH)"/><circle cx="1229.9" cy="507.1" r="4.8" fill="url(#gH)"/><circle cx="1236.5" cy="522.4" r="4.8" fill="url(#gH)"/><circle cx="1186.9" cy="537.7" r="4.8" fill="url(#gH)"/><circle cx="1107.3" cy="588.6" r="5.75" fill="url(#gC)"/><circle cx="1086.4" cy="594.7" r="4.8" fill="url(#gH)"/><circle cx="1101.7" cy="600.9" r="4.8" fill="url(#gH)"/><circle cx="1140.3" cy="605.3" r="5.75" fill="url(#gC)"/><circle cx="1148.3" cy="603.9" r="5.75" fill="url(#gC)"/><circle cx="1165.8" cy="622.1" r="5.75" fill="url(#gC)"/><circle cx="1178.9" cy="619.9" r="5.75" fill="url(#gC)"/><circle cx="1196.4" cy="637.4" r="5.75" fill="url(#gC)"/><circle cx="1203.0" cy="635.9" r="5.75" fill="url(#gC)"/><circle cx="1232.1" cy="651.2" r="6.6" fill="url(#gF)"/><circle cx="1130.6" cy="593.7" r="4.8" fill="url(#gH)"/><circle cx="1160.7" cy="622.1" r="4.8" fill="url(#gH)"/><circle cx="1184.7" cy="619.1" r="4.8" fill="url(#gH)"/><circle cx="1212.4" cy="649.0" r="4.8" fill="url(#gH)"/><line x1="1104.0" y1="538.4" x2="1076.1" y2="526.4" stroke="#7c7c7c" stroke-width="4.30"/><line x1="1104.1" y1="538.2" x2="1076.1" y2="526.2" stroke="#bebebe" stroke-width="3.10"/><line x1="1104.2" y1="537.8" x2="1076.3" y2="525.9" stroke="#e2e2e2" stroke-width="1.29"/><line x1="1351.9" y1="705.2" x2="1391.2" y2="722.0" stroke="#7c7c7c" stroke-width="4.30"/><line x1="1352.0" y1="705.0" x2="1391.3" y2="721.8" stroke="#bebebe" stroke-width="3.10"/><line x1="1352.1" y1="704.6" x2="1391.4" y2="721.4" stroke="#e2e2e2" stroke-width="1.29"/><line x1="1425.2" y1="774.7" x2="1394.1" y2="759.4" stroke="#7c7c7c" stroke-width="4.60"/><line x1="1425.3" y1="774.5" x2="1394.2" y2="759.2" stroke="#bebebe" stroke-width="3.31"/><line x1="1425.5" y1="774.1" x2="1394.4" y2="758.8" stroke="#e2e2e2" stroke-width="1.38"/><line x1="1394.1" y1="759.4" x2="1391.2" y2="722.0" stroke="#7c7c7c" stroke-width="4.60"/><line x1="1393.9" y1="759.4" x2="1391.0" y2="722.0" stroke="#bebebe" stroke-width="3.31"/><line x1="1393.5" y1="759.4" x2="1390.6" y2="722.0" stroke="#e2e2e2" stroke-width="1.38"/><line x1="1391.2" y1="722.0" x2="1418.4" y2="700.4" stroke="#7c7c7c" stroke-width="4.60"/><line x1="1391.1" y1="721.8" x2="1418.3" y2="700.2" stroke="#bebebe" stroke-width="3.31"/><line x1="1390.8" y1="721.5" x2="1418.0" y2="699.9" stroke="#e2e2e2" stroke-width="1.38"/><line x1="1418.4" y1="700.4" x2="1449.0" y2="716.1" stroke="#7c7c7c" stroke-width="4.60"/><line x1="1418.5" y1="700.2" x2="1449.1" y2="715.9" stroke="#bebebe" stroke-width="3.31"/><line x1="1418.7" y1="699.8" x2="1449.3" y2="715.5" stroke="#e2e2e2" stroke-width="1.38"/><line x1="1449.0" y1="716.1" x2="1451.9" y2="752.6" stroke="#7c7c7c" stroke-width="4.60"/><line x1="1448.8" y1="716.1" x2="1451.7" y2="752.6" stroke="#bebebe" stroke-width="3.31"/><line x1="1448.4" y1="716.2" x2="1451.3" y2="752.7" stroke="#e2e2e2" stroke-width="1.38"/><line x1="1451.9" y1="752.6" x2="1425.2" y2="774.7" stroke="#7c7c7c" stroke-width="4.60"/><line x1="1451.8" y1="752.4" x2="1425.1" y2="774.5" stroke="#bebebe" stroke-width="3.31"/><line x1="1451.5" y1="752.1" x2="1424.8" y2="774.2" stroke="#e2e2e2" stroke-width="1.38"/><line x1="1425.2" y1="774.7" x2="1426.5" y2="799.3" stroke="#7c7c7c" stroke-width="3.80"/><line x1="1425.0" y1="774.7" x2="1426.3" y2="799.3" stroke="#bebebe" stroke-width="2.74"/><line x1="1424.7" y1="774.7" x2="1426.0" y2="799.3" stroke="#e2e2e2" stroke-width="1.14"/><line x1="1394.1" y1="759.4" x2="1375.9" y2="773.8" stroke="#7c7c7c" stroke-width="3.80"/><line x1="1394.0" y1="759.3" x2="1375.8" y2="773.7" stroke="#bebebe" stroke-width="2.74"/><line x1="1393.8" y1="759.0" x2="1375.6" y2="773.4" stroke="#e2e2e2" stroke-width="1.14"/><line x1="1418.4" y1="700.4" x2="1416.7" y2="676.1" stroke="#7c7c7c" stroke-width="3.80"/><line x1="1418.2" y1="700.4" x2="1416.5" y2="676.1" stroke="#bebebe" stroke-width="2.74"/><line x1="1417.9" y1="700.4" x2="1416.2" y2="676.1" stroke="#e2e2e2" stroke-width="1.14"/><line x1="1449.0" y1="716.1" x2="1467.7" y2="700.3" stroke="#7c7c7c" stroke-width="3.80"/><line x1="1448.9" y1="716.0" x2="1467.6" y2="700.2" stroke="#bebebe" stroke-width="2.74"/><line x1="1448.7" y1="715.7" x2="1467.4" y2="699.9" stroke="#e2e2e2" stroke-width="1.14"/><line x1="1451.9" y1="752.6" x2="1472.8" y2="761.6" stroke="#7c7c7c" stroke-width="3.80"/><line x1="1452.0" y1="752.4" x2="1472.9" y2="761.4" stroke="#bebebe" stroke-width="2.74"/><line x1="1452.1" y1="752.1" x2="1473.0" y2="761.1" stroke="#e2e2e2" stroke-width="1.14"/><line x1="1351.9" y1="705.2" x2="1349.1" y2="728.0" stroke="#7c7c7c" stroke-width="2.50"/><line x1="1351.8" y1="705.2" x2="1349.0" y2="728.0" stroke="#bebebe" stroke-width="1.80"/><line x1="1351.6" y1="705.2" x2="1348.8" y2="728.0" stroke="#e2e2e2" stroke-width="0.75"/><line x1="1349.1" y1="728.0" x2="1326.5" y2="756.1" stroke="#7c7c7c" stroke-width="4.60"/><line x1="1348.9" y1="727.9" x2="1326.3" y2="756.0" stroke="#bebebe" stroke-width="3.31"/><line x1="1348.6" y1="727.6" x2="1326.0" y2="755.7" stroke="#e2e2e2" stroke-width="1.38"/><line x1="1326.5" y1="756.1" x2="1325.8" y2="773.6" stroke="#7c7c7c" stroke-width="4.60"/><line x1="1326.3" y1="756.1" x2="1325.6" y2="773.6" stroke="#bebebe" stroke-width="3.31"/><line x1="1325.9" y1="756.1" x2="1325.2" y2="773.6" stroke="#e2e2e2" stroke-width="1.38"/><line x1="1325.8" y1="773.6" x2="1348.8" y2="761.2" stroke="#555555" stroke-width="4.60"/><line x1="1325.7" y1="773.4" x2="1348.7" y2="761.0" stroke="#727272" stroke-width="3.31"/><line x1="1325.5" y1="773.0" x2="1348.5" y2="760.6" stroke="#909090" stroke-width="1.38"/><line x1="1348.8" y1="761.2" x2="1371.3" y2="732.8" stroke="#7c7c7c" stroke-width="4.60"/><line x1="1348.6" y1="761.1" x2="1371.1" y2="732.7" stroke="#bebebe" stroke-width="3.31"/><line x1="1348.3" y1="760.8" x2="1370.8" y2="732.4" stroke="#e2e2e2" stroke-width="1.38"/><line x1="1371.3" y1="732.8" x2="1372.4" y2="715.3" stroke="#7c7c7c" stroke-width="4.60"/><line x1="1371.1" y1="732.8" x2="1372.2" y2="715.3" stroke="#bebebe" stroke-width="3.31"/><line x1="1370.7" y1="732.8" x2="1371.8" y2="715.3" stroke="#e2e2e2" stroke-width="1.38"/><line x1="1372.4" y1="715.3" x2="1349.1" y2="728.0" stroke="#555555" stroke-width="4.60"/><line x1="1372.3" y1="715.1" x2="1349.0" y2="727.8" stroke="#727272" stroke-width="3.31"/><line x1="1372.1" y1="714.7" x2="1348.8" y2="727.4" stroke="#909090" stroke-width="1.38"/><line x1="1326.5" y1="756.1" x2="1311.3" y2="764.1" stroke="#7c7c7c" stroke-width="3.80"/><line x1="1326.4" y1="755.9" x2="1311.2" y2="763.9" stroke="#bebebe" stroke-width="2.74"/><line x1="1326.3" y1="755.6" x2="1311.1" y2="763.6" stroke="#e2e2e2" stroke-width="1.14"/><line x1="1325.8" y1="773.6" x2="1309.8" y2="791.5" stroke="#7c7c7c" stroke-width="3.80"/><line x1="1325.7" y1="773.5" x2="1309.7" y2="791.4" stroke="#bebebe" stroke-width="2.74"/><line x1="1325.4" y1="773.2" x2="1309.4" y2="791.1" stroke="#e2e2e2" stroke-width="1.14"/><line x1="1348.8" y1="761.2" x2="1348.0" y2="772.8" stroke="#7c7c7c" stroke-width="3.80"/><line x1="1348.6" y1="761.2" x2="1347.8" y2="772.8" stroke="#bebebe" stroke-width="2.74"/><line x1="1348.3" y1="761.2" x2="1347.5" y2="772.8" stroke="#e2e2e2" stroke-width="1.14"/><line x1="1371.3" y1="732.8" x2="1387.0" y2="726.3" stroke="#555555" stroke-width="3.80"/><line x1="1371.2" y1="732.6" x2="1386.9" y2="726.1" stroke="#727272" stroke-width="2.74"/><line x1="1371.1" y1="732.3" x2="1386.8" y2="725.8" stroke="#909090" stroke-width="1.14"/><line x1="1372.4" y1="715.3" x2="1387.5" y2="696.5" stroke="#7c7c7c" stroke-width="3.80"/><line x1="1372.3" y1="715.2" x2="1387.4" y2="696.4" stroke="#bebebe" stroke-width="2.74"/><line x1="1372.0" y1="715.0" x2="1387.1" y2="696.2" stroke="#e2e2e2" stroke-width="1.14"/><line x1="1351.9" y1="705.2" x2="1312.7" y2="715.3" stroke="#555555" stroke-width="4.30"/><line x1="1351.8" y1="705.0" x2="1312.6" y2="715.1" stroke="#727272" stroke-width="3.10"/><line x1="1351.7" y1="704.6" x2="1312.5" y2="714.7" stroke="#909090" stroke-width="1.29"/><line x1="1312.7" y1="715.3" x2="1317.1" y2="722.6" stroke="#7c7c7c" stroke-width="4.60"/><line x1="1312.9" y1="715.2" x2="1317.3" y2="722.5" stroke="#bebebe" stroke-width="3.31"/><line x1="1313.3" y1="715.0" x2="1317.7" y2="722.3" stroke="#e2e2e2" stroke-width="1.38"/><line x1="1317.1" y1="722.6" x2="1286.5" y2="730.6" stroke="#555555" stroke-width="4.60"/><line x1="1317.0" y1="722.4" x2="1286.4" y2="730.4" stroke="#727272" stroke-width="3.31"/><line x1="1316.9" y1="722.0" x2="1286.3" y2="730.0" stroke="#909090" stroke-width="1.38"/><line x1="1286.5" y1="730.6" x2="1253.0" y2="732.8" stroke="#7c7c7c" stroke-width="4.60"/><line x1="1286.5" y1="730.4" x2="1253.0" y2="732.6" stroke="#bebebe" stroke-width="3.31"/><line x1="1286.5" y1="730.0" x2="1253.0" y2="732.2" stroke="#e2e2e2" stroke-width="1.38"/><line x1="1253.0" y1="732.8" x2="1248.6" y2="724.0" stroke="#7c7c7c" stroke-width="4.60"/><line x1="1253.2" y1="732.7" x2="1248.8" y2="723.9" stroke="#bebebe" stroke-width="3.31"/><line x1="1253.6" y1="732.5" x2="1249.2" y2="723.7" stroke="#e2e2e2" stroke-width="1.38"/><line x1="1248.6" y1="724.0" x2="1278.5" y2="715.3" stroke="#7c7c7c" stroke-width="4.60"/><line x1="1248.5" y1="723.8" x2="1278.4" y2="715.1" stroke="#bebebe" stroke-width="3.31"/><line x1="1248.4" y1="723.4" x2="1278.3" y2="714.7" stroke="#e2e2e2" stroke-width="1.38"/><line x1="1278.5" y1="715.3" x2="1312.7" y2="715.3" stroke="#7c7c7c" stroke-width="4.60"/><line x1="1278.5" y1="715.1" x2="1312.7" y2="715.1" stroke="#bebebe" stroke-width="3.31"/><line x1="1278.5" y1="714.7" x2="1312.7" y2="714.7" stroke="#e2e2e2" stroke-width="1.38"/><line x1="1317.1" y1="722.6" x2="1338.9" y2="721.1" stroke="#7c7c7c" stroke-width="3.80"/><line x1="1317.1" y1="722.4" x2="1338.9" y2="720.9" stroke="#bebebe" stroke-width="2.74"/><line x1="1317.1" y1="722.1" x2="1338.9" y2="720.6" stroke="#e2e2e2" stroke-width="1.14"/><line x1="1286.5" y1="730.6" x2="1288.7" y2="736.4" stroke="#7c7c7c" stroke-width="3.80"/><line x1="1286.7" y1="730.5" x2="1288.9" y2="736.3" stroke="#bebebe" stroke-width="2.74"/><line x1="1287.0" y1="730.4" x2="1289.2" y2="736.2" stroke="#e2e2e2" stroke-width="1.14"/><line x1="1253.0" y1="732.8" x2="1232.6" y2="739.3" stroke="#7c7c7c" stroke-width="3.80"/><line x1="1252.9" y1="732.6" x2="1232.5" y2="739.1" stroke="#bebebe" stroke-width="2.74"/><line x1="1252.8" y1="732.3" x2="1232.4" y2="738.8" stroke="#e2e2e2" stroke-width="1.14"/><line x1="1248.6" y1="724.0" x2="1226.0" y2="724.0" stroke="#7c7c7c" stroke-width="3.80"/><line x1="1248.6" y1="723.8" x2="1226.0" y2="723.8" stroke="#bebebe" stroke-width="2.74"/><line x1="1248.6" y1="723.5" x2="1226.0" y2="723.5" stroke="#e2e2e2" stroke-width="1.14"/><line x1="1278.5" y1="715.3" x2="1275.6" y2="708.7" stroke="#7c7c7c" stroke-width="3.80"/><line x1="1278.7" y1="715.2" x2="1275.8" y2="708.6" stroke="#bebebe" stroke-width="2.74"/><line x1="1279.0" y1="715.1" x2="1276.1" y2="708.5" stroke="#e2e2e2" stroke-width="1.14"/><line x1="1351.9" y1="705.2" x2="1355.2" y2="657.8" stroke="#7c7c7c" stroke-width="2.50"/><line x1="1351.8" y1="705.2" x2="1355.1" y2="657.8" stroke="#bebebe" stroke-width="1.80"/><line x1="1351.6" y1="705.2" x2="1354.9" y2="657.8" stroke="#e2e2e2" stroke-width="0.75"/><line x1="1355.2" y1="657.8" x2="1376.1" y2="651.7" stroke="#7c7c7c" stroke-width="3.80"/><line x1="1355.1" y1="657.6" x2="1376.0" y2="651.5" stroke="#bebebe" stroke-width="2.74"/><line x1="1355.1" y1="657.3" x2="1376.0" y2="651.2" stroke="#e2e2e2" stroke-width="1.14"/><line x1="1355.2" y1="657.8" x2="1360.8" y2="645.5" stroke="#7c7c7c" stroke-width="3.80"/><line x1="1355.0" y1="657.7" x2="1360.6" y2="645.4" stroke="#bebebe" stroke-width="2.74"/><line x1="1354.7" y1="657.6" x2="1360.3" y2="645.3" stroke="#e2e2e2" stroke-width="1.14"/><line x1="1355.2" y1="657.8" x2="1322.2" y2="641.1" stroke="#7c7c7c" stroke-width="2.50"/><line x1="1355.3" y1="657.7" x2="1322.3" y2="641.0" stroke="#bebebe" stroke-width="1.80"/><line x1="1355.4" y1="657.5" x2="1322.4" y2="640.8" stroke="#e2e2e2" stroke-width="0.75"/><line x1="1322.2" y1="641.1" x2="1314.2" y2="642.5" stroke="#7c7c7c" stroke-width="4.60"/><line x1="1322.2" y1="640.9" x2="1314.2" y2="642.3" stroke="#bebebe" stroke-width="3.31"/><line x1="1322.1" y1="640.5" x2="1314.1" y2="641.9" stroke="#e2e2e2" stroke-width="1.38"/><line x1="1322.2" y1="641.1" x2="1296.7" y2="624.3" stroke="#7c7c7c" stroke-width="4.60"/><line x1="1322.3" y1="640.9" x2="1296.8" y2="624.1" stroke="#bebebe" stroke-width="3.31"/><line x1="1322.6" y1="640.6" x2="1297.1" y2="623.8" stroke="#e2e2e2" stroke-width="1.38"/><line x1="1314.2" y1="642.5" x2="1283.6" y2="626.5" stroke="#7c7c7c" stroke-width="4.60"/><line x1="1314.3" y1="642.3" x2="1283.7" y2="626.3" stroke="#bebebe" stroke-width="3.31"/><line x1="1314.5" y1="641.9" x2="1283.9" y2="625.9" stroke="#e2e2e2" stroke-width="1.38"/><line x1="1296.7" y1="624.3" x2="1266.1" y2="609.0" stroke="#7c7c7c" stroke-width="4.60"/><line x1="1296.8" y1="624.1" x2="1266.2" y2="608.8" stroke="#bebebe" stroke-width="3.31"/><line x1="1297.0" y1="623.7" x2="1266.4" y2="608.4" stroke="#e2e2e2" stroke-width="1.38"/><line x1="1283.6" y1="626.5" x2="1259.5" y2="610.5" stroke="#7c7c7c" stroke-width="4.60"/><line x1="1283.7" y1="626.3" x2="1259.6" y2="610.3" stroke="#bebebe" stroke-width="3.31"/><line x1="1284.0" y1="626.0" x2="1259.9" y2="610.0" stroke="#e2e2e2" stroke-width="1.38"/><line x1="1266.1" y1="609.0" x2="1259.5" y2="610.5" stroke="#7c7c7c" stroke-width="4.60"/><line x1="1266.0" y1="608.8" x2="1259.4" y2="610.3" stroke="#bebebe" stroke-width="3.31"/><line x1="1266.0" y1="608.4" x2="1259.4" y2="609.9" stroke="#e2e2e2" stroke-width="1.38"/><line x1="1259.5" y1="610.5" x2="1230.4" y2="595.2" stroke="#7c7c7c" stroke-width="2.50"/><line x1="1259.6" y1="610.4" x2="1230.5" y2="595.1" stroke="#bebebe" stroke-width="1.80"/><line x1="1259.7" y1="610.2" x2="1230.6" y2="594.9" stroke="#e2e2e2" stroke-width="0.75"/><line x1="1314.2" y1="642.5" x2="1331.9" y2="652.7" stroke="#7c7c7c" stroke-width="3.80"/><line x1="1314.3" y1="642.3" x2="1332.0" y2="652.5" stroke="#bebebe" stroke-width="2.74"/><line x1="1314.5" y1="642.0" x2="1332.2" y2="652.2" stroke="#e2e2e2" stroke-width="1.14"/><line x1="1296.7" y1="624.3" x2="1301.8" y2="624.3" stroke="#7c7c7c" stroke-width="3.80"/><line x1="1296.7" y1="624.1" x2="1301.8" y2="624.1" stroke="#bebebe" stroke-width="2.74"/><line x1="1296.7" y1="623.8" x2="1301.8" y2="623.8" stroke="#e2e2e2" stroke-width="1.14"/><line x1="1283.6" y1="626.5" x2="1277.8" y2="627.3" stroke="#7c7c7c" stroke-width="3.80"/><line x1="1283.6" y1="626.3" x2="1277.8" y2="627.1" stroke="#bebebe" stroke-width="2.74"/><line x1="1283.5" y1="626.0" x2="1277.7" y2="626.8" stroke="#e2e2e2" stroke-width="1.14"/><line x1="1266.1" y1="609.0" x2="1250.1" y2="597.4" stroke="#7c7c7c" stroke-width="3.80"/><line x1="1266.2" y1="608.8" x2="1250.2" y2="597.2" stroke="#bebebe" stroke-width="2.74"/><line x1="1266.4" y1="608.6" x2="1250.4" y2="597.0" stroke="#e2e2e2" stroke-width="1.14"/><circle cx="1351.9" cy="705.2" r="8.0" fill="url(#gP)"/><circle cx="1425.2" cy="774.7" r="5.75" fill="url(#gC)"/><circle cx="1394.1" cy="759.4" r="5.75" fill="url(#gC)"/><circle cx="1418.4" cy="700.4" r="5.75" fill="url(#gC)"/><circle cx="1449.0" cy="716.1" r="5.75" fill="url(#gC)"/><circle cx="1451.9" cy="752.6" r="5.75" fill="url(#gC)"/><circle cx="1426.5" cy="799.3" r="4.8" fill="url(#gH)"/><circle cx="1375.9" cy="773.8" r="4.8" fill="url(#gH)"/><circle cx="1416.7" cy="676.1" r="4.8" fill="url(#gH)"/><circle cx="1467.7" cy="700.3" r="4.8" fill="url(#gH)"/><circle cx="1472.8" cy="761.6" r="4.8" fill="url(#gH)"/><circle cx="1349.1" cy="728.0" r="5.75" fill="url(#gC)"/><circle cx="1326.5" cy="756.1" r="5.75" fill="url(#gC)"/><circle cx="1325.8" cy="773.6" r="5.75" fill="url(#gC)"/><circle cx="1348.8" cy="761.2" r="5.75" fill="url(#gC)"/><circle cx="1371.3" cy="732.8" r="5.75" fill="url(#gC)"/><circle cx="1372.4" cy="715.3" r="5.75" fill="url(#gC)"/><circle cx="1311.3" cy="764.1" r="4.8" fill="url(#gH)"/><circle cx="1309.8" cy="791.5" r="4.8" fill="url(#gH)"/><circle cx="1348.0" cy="772.8" r="4.8" fill="url(#gH)"/><circle cx="1391.2" cy="722.0" r="5.75" fill="url(#gC)"/><circle cx="1387.0" cy="726.3" r="4.8" fill="url(#gH)"/><circle cx="1387.5" cy="696.5" r="4.8" fill="url(#gH)"/><circle cx="1312.7" cy="715.3" r="5.75" fill="url(#gC)"/><circle cx="1317.1" cy="722.6" r="5.75" fill="url(#gC)"/><circle cx="1286.5" cy="730.6" r="5.75" fill="url(#gC)"/><circle cx="1253.0" cy="732.8" r="5.75" fill="url(#gC)"/><circle cx="1248.6" cy="724.0" r="5.75" fill="url(#gC)"/><circle cx="1278.5" cy="715.3" r="5.75" fill="url(#gC)"/><circle cx="1338.9" cy="721.1" r="4.8" fill="url(#gH)"/><circle cx="1288.7" cy="736.4" r="4.8" fill="url(#gH)"/><circle cx="1232.6" cy="739.3" r="4.8" fill="url(#gH)"/><circle cx="1226.0" cy="724.0" r="4.8" fill="url(#gH)"/><circle cx="1275.6" cy="708.7" r="4.8" fill="url(#gH)"/><circle cx="1355.2" cy="657.8" r="5.75" fill="url(#gC)"/><circle cx="1376.1" cy="651.7" r="4.8" fill="url(#gH)"/><circle cx="1360.8" cy="645.5" r="4.8" fill="url(#gH)"/><circle cx="1322.2" cy="641.1" r="5.75" fill="url(#gC)"/><circle cx="1314.2" cy="642.5" r="5.75" fill="url(#gC)"/><circle cx="1296.7" cy="624.3" r="5.75" fill="url(#gC)"/><circle cx="1283.6" cy="626.5" r="5.75" fill="url(#gC)"/><circle cx="1266.1" cy="609.0" r="5.75" fill="url(#gC)"/><circle cx="1259.5" cy="610.5" r="5.75" fill="url(#gC)"/><circle cx="1230.4" cy="595.2" r="6.6" fill="url(#gF)"/><circle cx="1331.9" cy="652.7" r="4.8" fill="url(#gH)"/><circle cx="1301.8" cy="624.3" r="4.8" fill="url(#gH)"/><circle cx="1277.8" cy="627.3" r="4.8" fill="url(#gH)"/><circle cx="1250.1" cy="597.4" r="4.8" fill="url(#gH)"/><line x1="1493.0" y1="472.5" x2="1524.1" y2="487.8" stroke="#7c7c7c" stroke-width="4.60"/><line x1="1493.1" y1="472.3" x2="1524.2" y2="487.6" stroke="#bebebe" stroke-width="3.31"/><line x1="1493.3" y1="471.9" x2="1524.4" y2="487.2" stroke="#e2e2e2" stroke-width="1.38"/><line x1="1524.1" y1="487.8" x2="1527.0" y2="525.2" stroke="#7c7c7c" stroke-width="4.60"/><line x1="1523.9" y1="487.8" x2="1526.8" y2="525.2" stroke="#bebebe" stroke-width="3.31"/><line x1="1523.5" y1="487.8" x2="1526.4" y2="525.2" stroke="#e2e2e2" stroke-width="1.38"/><line x1="1527.0" y1="525.2" x2="1499.8" y2="546.8" stroke="#7c7c7c" stroke-width="4.60"/><line x1="1526.9" y1="525.0" x2="1499.7" y2="546.6" stroke="#bebebe" stroke-width="3.31"/><line x1="1526.6" y1="524.7" x2="1499.4" y2="546.3" stroke="#e2e2e2" stroke-width="1.38"/><line x1="1499.8" y1="546.8" x2="1469.2" y2="531.1" stroke="#7c7c7c" stroke-width="4.60"/><line x1="1499.9" y1="546.6" x2="1469.3" y2="530.9" stroke="#bebebe" stroke-width="3.31"/><line x1="1500.1" y1="546.2" x2="1469.5" y2="530.5" stroke="#e2e2e2" stroke-width="1.38"/><line x1="1469.2" y1="531.1" x2="1466.3" y2="494.6" stroke="#7c7c7c" stroke-width="4.60"/><line x1="1469.0" y1="531.1" x2="1466.1" y2="494.6" stroke="#bebebe" stroke-width="3.31"/><line x1="1468.6" y1="531.2" x2="1465.7" y2="494.7" stroke="#e2e2e2" stroke-width="1.38"/><line x1="1466.3" y1="494.6" x2="1493.0" y2="472.5" stroke="#7c7c7c" stroke-width="4.60"/><line x1="1466.2" y1="494.4" x2="1492.9" y2="472.3" stroke="#bebebe" stroke-width="3.31"/><line x1="1465.9" y1="494.1" x2="1492.6" y2="472.0" stroke="#e2e2e2" stroke-width="1.38"/><line x1="1493.0" y1="472.5" x2="1491.7" y2="447.9" stroke="#7c7c7c" stroke-width="3.80"/><line x1="1492.8" y1="472.5" x2="1491.5" y2="447.9" stroke="#bebebe" stroke-width="2.74"/><line x1="1492.5" y1="472.5" x2="1491.2" y2="447.9" stroke="#e2e2e2" stroke-width="1.14"/><line x1="1524.1" y1="487.8" x2="1542.3" y2="473.4" stroke="#7c7c7c" stroke-width="3.80"/><line x1="1524.0" y1="487.7" x2="1542.2" y2="473.3" stroke="#bebebe" stroke-width="2.74"/><line x1="1523.8" y1="487.4" x2="1542.0" y2="473.0" stroke="#e2e2e2" stroke-width="1.14"/><line x1="1499.8" y1="546.8" x2="1501.5" y2="571.1" stroke="#7c7c7c" stroke-width="3.80"/><line x1="1499.6" y1="546.8" x2="1501.3" y2="571.1" stroke="#bebebe" stroke-width="2.74"/><line x1="1499.3" y1="546.8" x2="1501.0" y2="571.1" stroke="#e2e2e2" stroke-width="1.14"/><line x1="1469.2" y1="531.1" x2="1450.5" y2="546.9" stroke="#7c7c7c" stroke-width="3.80"/><line x1="1469.1" y1="531.0" x2="1450.4" y2="546.8" stroke="#bebebe" stroke-width="2.74"/><line x1="1468.9" y1="530.7" x2="1450.2" y2="546.5" stroke="#e2e2e2" stroke-width="1.14"/><line x1="1466.3" y1="494.6" x2="1445.4" y2="485.6" stroke="#7c7c7c" stroke-width="3.80"/><line x1="1466.4" y1="494.4" x2="1445.5" y2="485.4" stroke="#bebebe" stroke-width="2.74"/><line x1="1466.5" y1="494.1" x2="1445.6" y2="485.1" stroke="#e2e2e2" stroke-width="1.14"/><line x1="1566.3" y1="542.0" x2="1569.1" y2="519.2" stroke="#7c7c7c" stroke-width="2.50"/><line x1="1566.2" y1="542.0" x2="1569.0" y2="519.2" stroke="#bebebe" stroke-width="1.80"/><line x1="1566.0" y1="542.0" x2="1568.8" y2="519.2" stroke="#e2e2e2" stroke-width="0.75"/><line x1="1569.1" y1="519.2" x2="1591.7" y2="491.1" stroke="#7c7c7c" stroke-width="4.60"/><line x1="1568.9" y1="519.1" x2="1591.5" y2="491.0" stroke="#bebebe" stroke-width="3.31"/><line x1="1568.6" y1="518.8" x2="1591.2" y2="490.7" stroke="#e2e2e2" stroke-width="1.38"/><line x1="1591.7" y1="491.1" x2="1592.4" y2="473.6" stroke="#7c7c7c" stroke-width="4.60"/><line x1="1591.5" y1="491.1" x2="1592.2" y2="473.6" stroke="#bebebe" stroke-width="3.31"/><line x1="1591.1" y1="491.1" x2="1591.8" y2="473.6" stroke="#e2e2e2" stroke-width="1.38"/><line x1="1592.4" y1="473.6" x2="1569.4" y2="486.0" stroke="#555555" stroke-width="4.60"/><line x1="1592.3" y1="473.4" x2="1569.3" y2="485.8" stroke="#727272" stroke-width="3.31"/><line x1="1592.1" y1="473.0" x2="1569.1" y2="485.4" stroke="#909090" stroke-width="1.38"/><line x1="1569.4" y1="486.0" x2="1546.9" y2="514.4" stroke="#7c7c7c" stroke-width="4.60"/><line x1="1569.2" y1="485.9" x2="1546.7" y2="514.3" stroke="#bebebe" stroke-width="3.31"/><line x1="1568.9" y1="485.6" x2="1546.4" y2="514.0" stroke="#e2e2e2" stroke-width="1.38"/><line x1="1546.9" y1="514.4" x2="1545.8" y2="531.9" stroke="#7c7c7c" stroke-width="4.60"/><line x1="1546.7" y1="514.4" x2="1545.6" y2="531.9" stroke="#bebebe" stroke-width="3.31"/><line x1="1546.3" y1="514.4" x2="1545.2" y2="531.9" stroke="#e2e2e2" stroke-width="1.38"/><line x1="1545.8" y1="531.9" x2="1569.1" y2="519.2" stroke="#555555" stroke-width="4.60"/><line x1="1545.7" y1="531.7" x2="1569.0" y2="519.0" stroke="#727272" stroke-width="3.31"/><line x1="1545.5" y1="531.3" x2="1568.8" y2="518.6" stroke="#909090" stroke-width="1.38"/><line x1="1591.7" y1="491.1" x2="1606.9" y2="483.1" stroke="#7c7c7c" stroke-width="3.80"/><line x1="1591.6" y1="490.9" x2="1606.8" y2="482.9" stroke="#bebebe" stroke-width="2.74"/><line x1="1591.5" y1="490.6" x2="1606.7" y2="482.6" stroke="#e2e2e2" stroke-width="1.14"/><line x1="1592.4" y1="473.6" x2="1608.4" y2="455.7" stroke="#7c7c7c" stroke-width="3.80"/><line x1="1592.3" y1="473.5" x2="1608.3" y2="455.6" stroke="#bebebe" stroke-width="2.74"/><line x1="1592.0" y1="473.2" x2="1608.0" y2="455.3" stroke="#e2e2e2" stroke-width="1.14"/><line x1="1569.4" y1="486.0" x2="1570.2" y2="474.4" stroke="#7c7c7c" stroke-width="3.80"/><line x1="1569.2" y1="486.0" x2="1570.0" y2="474.4" stroke="#bebebe" stroke-width="2.74"/><line x1="1568.9" y1="486.0" x2="1569.7" y2="474.4" stroke="#e2e2e2" stroke-width="1.14"/><line x1="1546.9" y1="514.4" x2="1531.2" y2="520.9" stroke="#555555" stroke-width="3.80"/><line x1="1546.8" y1="514.2" x2="1531.1" y2="520.7" stroke="#727272" stroke-width="2.74"/><line x1="1546.7" y1="513.9" x2="1531.0" y2="520.4" stroke="#909090" stroke-width="1.14"/><line x1="1545.8" y1="531.9" x2="1530.7" y2="550.7" stroke="#7c7c7c" stroke-width="3.80"/><line x1="1545.7" y1="531.8" x2="1530.6" y2="550.6" stroke="#bebebe" stroke-width="2.74"/><line x1="1545.4" y1="531.6" x2="1530.3" y2="550.4" stroke="#e2e2e2" stroke-width="1.14"/><line x1="1566.3" y1="542.0" x2="1605.5" y2="531.9" stroke="#555555" stroke-width="4.30"/><line x1="1566.2" y1="541.8" x2="1605.4" y2="531.7" stroke="#727272" stroke-width="3.10"/><line x1="1566.1" y1="541.4" x2="1605.3" y2="531.3" stroke="#909090" stroke-width="1.29"/><line x1="1605.5" y1="531.9" x2="1601.1" y2="524.6" stroke="#7c7c7c" stroke-width="4.60"/><line x1="1605.7" y1="531.8" x2="1601.3" y2="524.5" stroke="#bebebe" stroke-width="3.31"/><line x1="1606.1" y1="531.6" x2="1601.7" y2="524.3" stroke="#e2e2e2" stroke-width="1.38"/><line x1="1601.1" y1="524.6" x2="1631.7" y2="516.6" stroke="#555555" stroke-width="4.60"/><line x1="1601.0" y1="524.4" x2="1631.6" y2="516.4" stroke="#727272" stroke-width="3.31"/><line x1="1600.9" y1="524.0" x2="1631.5" y2="516.0" stroke="#909090" stroke-width="1.38"/><line x1="1631.7" y1="516.6" x2="1665.2" y2="514.4" stroke="#7c7c7c" stroke-width="4.60"/><line x1="1631.7" y1="516.4" x2="1665.2" y2="514.2" stroke="#bebebe" stroke-width="3.31"/><line x1="1631.7" y1="516.0" x2="1665.2" y2="513.8" stroke="#e2e2e2" stroke-width="1.38"/><line x1="1665.2" y1="514.4" x2="1669.6" y2="523.2" stroke="#7c7c7c" stroke-width="4.60"/><line x1="1665.4" y1="514.3" x2="1669.8" y2="523.1" stroke="#bebebe" stroke-width="3.31"/><line x1="1665.8" y1="514.1" x2="1670.2" y2="522.9" stroke="#e2e2e2" stroke-width="1.38"/><line x1="1669.6" y1="523.2" x2="1639.7" y2="531.9" stroke="#555555" stroke-width="4.60"/><line x1="1669.5" y1="523.0" x2="1639.6" y2="531.7" stroke="#727272" stroke-width="3.31"/><line x1="1669.4" y1="522.6" x2="1639.5" y2="531.3" stroke="#909090" stroke-width="1.38"/><line x1="1639.7" y1="531.9" x2="1605.5" y2="531.9" stroke="#7c7c7c" stroke-width="4.60"/><line x1="1639.7" y1="531.7" x2="1605.5" y2="531.7" stroke="#bebebe" stroke-width="3.31"/><line x1="1639.7" y1="531.3" x2="1605.5" y2="531.3" stroke="#e2e2e2" stroke-width="1.38"/><line x1="1601.1" y1="524.6" x2="1579.3" y2="526.1" stroke="#7c7c7c" stroke-width="3.80"/><line x1="1601.1" y1="524.4" x2="1579.3" y2="525.9" stroke="#bebebe" stroke-width="2.74"/><line x1="1601.1" y1="524.1" x2="1579.3" y2="525.6" stroke="#e2e2e2" stroke-width="1.14"/><line x1="1631.7" y1="516.6" x2="1629.5" y2="510.8" stroke="#7c7c7c" stroke-width="3.80"/><line x1="1631.9" y1="516.5" x2="1629.7" y2="510.7" stroke="#bebebe" stroke-width="2.74"/><line x1="1632.2" y1="516.4" x2="1630.0" y2="510.6" stroke="#e2e2e2" stroke-width="1.14"/><line x1="1665.2" y1="514.4" x2="1685.6" y2="507.9" stroke="#7c7c7c" stroke-width="3.80"/><line x1="1665.1" y1="514.2" x2="1685.5" y2="507.7" stroke="#bebebe" stroke-width="2.74"/><line x1="1665.0" y1="513.9" x2="1685.4" y2="507.4" stroke="#e2e2e2" stroke-width="1.14"/><line x1="1669.6" y1="523.2" x2="1692.2" y2="523.2" stroke="#7c7c7c" stroke-width="3.80"/><line x1="1669.6" y1="523.0" x2="1692.2" y2="523.0" stroke="#bebebe" stroke-width="2.74"/><line x1="1669.6" y1="522.7" x2="1692.2" y2="522.7" stroke="#e2e2e2" stroke-width="1.14"/><line x1="1639.7" y1="531.9" x2="1642.6" y2="538.5" stroke="#7c7c7c" stroke-width="3.80"/><line x1="1639.9" y1="531.8" x2="1642.8" y2="538.4" stroke="#bebebe" stroke-width="2.74"/><line x1="1640.2" y1="531.7" x2="1643.1" y2="538.3" stroke="#e2e2e2" stroke-width="1.14"/><line x1="1566.3" y1="542.0" x2="1563.0" y2="589.4" stroke="#7c7c7c" stroke-width="2.50"/><line x1="1566.2" y1="542.0" x2="1562.9" y2="589.4" stroke="#bebebe" stroke-width="1.80"/><line x1="1566.0" y1="542.0" x2="1562.7" y2="589.4" stroke="#e2e2e2" stroke-width="0.75"/><line x1="1563.0" y1="589.4" x2="1542.1" y2="595.5" stroke="#7c7c7c" stroke-width="3.80"/><line x1="1562.9" y1="589.2" x2="1542.0" y2="595.3" stroke="#bebebe" stroke-width="2.74"/><line x1="1562.9" y1="588.9" x2="1542.0" y2="595.0" stroke="#e2e2e2" stroke-width="1.14"/><line x1="1563.0" y1="589.4" x2="1557.4" y2="601.7" stroke="#7c7c7c" stroke-width="3.80"/><line x1="1562.8" y1="589.3" x2="1557.2" y2="601.6" stroke="#bebebe" stroke-width="2.74"/><line x1="1562.5" y1="589.2" x2="1556.9" y2="601.5" stroke="#e2e2e2" stroke-width="1.14"/><line x1="1563.0" y1="589.4" x2="1596.0" y2="606.1" stroke="#7c7c7c" stroke-width="2.50"/><line x1="1563.1" y1="589.3" x2="1596.1" y2="606.0" stroke="#bebebe" stroke-width="1.80"/><line x1="1563.2" y1="589.1" x2="1596.2" y2="605.8" stroke="#e2e2e2" stroke-width="0.75"/><line x1="1596.0" y1="606.1" x2="1604.0" y2="604.7" stroke="#7c7c7c" stroke-width="4.60"/><line x1="1596.0" y1="605.9" x2="1604.0" y2="604.5" stroke="#bebebe" stroke-width="3.31"/><line x1="1595.9" y1="605.5" x2="1603.9" y2="604.1" stroke="#e2e2e2" stroke-width="1.38"/><line x1="1596.0" y1="606.1" x2="1621.5" y2="622.9" stroke="#7c7c7c" stroke-width="4.60"/><line x1="1596.1" y1="605.9" x2="1621.6" y2="622.7" stroke="#bebebe" stroke-width="3.31"/><line x1="1596.4" y1="605.6" x2="1621.9" y2="622.4" stroke="#e2e2e2" stroke-width="1.38"/><line x1="1604.0" y1="604.7" x2="1634.6" y2="620.7" stroke="#7c7c7c" stroke-width="4.60"/><line x1="1604.1" y1="604.5" x2="1634.7" y2="620.5" stroke="#bebebe" stroke-width="3.31"/><line x1="1604.3" y1="604.1" x2="1634.9" y2="620.1" stroke="#e2e2e2" stroke-width="1.38"/><line x1="1621.5" y1="622.9" x2="1652.1" y2="638.2" stroke="#7c7c7c" stroke-width="4.60"/><line x1="1621.6" y1="622.7" x2="1652.2" y2="638.0" stroke="#bebebe" stroke-width="3.31"/><line x1="1621.8" y1="622.3" x2="1652.4" y2="637.6" stroke="#e2e2e2" stroke-width="1.38"/><line x1="1634.6" y1="620.7" x2="1658.7" y2="636.7" stroke="#7c7c7c" stroke-width="4.60"/><line x1="1634.7" y1="620.5" x2="1658.8" y2="636.5" stroke="#bebebe" stroke-width="3.31"/><line x1="1635.0" y1="620.2" x2="1659.1" y2="636.2" stroke="#e2e2e2" stroke-width="1.38"/><line x1="1652.1" y1="638.2" x2="1658.7" y2="636.7" stroke="#7c7c7c" stroke-width="4.60"/><line x1="1652.0" y1="638.0" x2="1658.6" y2="636.5" stroke="#bebebe" stroke-width="3.31"/><line x1="1652.0" y1="637.6" x2="1658.6" y2="636.1" stroke="#e2e2e2" stroke-width="1.38"/><line x1="1658.7" y1="636.7" x2="1687.8" y2="652.0" stroke="#7c7c7c" stroke-width="2.50"/><line x1="1658.8" y1="636.6" x2="1687.9" y2="651.9" stroke="#bebebe" stroke-width="1.80"/><line x1="1658.9" y1="636.4" x2="1688.0" y2="651.7" stroke="#e2e2e2" stroke-width="0.75"/><line x1="1604.0" y1="604.7" x2="1586.3" y2="594.5" stroke="#7c7c7c" stroke-width="3.80"/><line x1="1604.1" y1="604.5" x2="1586.4" y2="594.3" stroke="#bebebe" stroke-width="2.74"/><line x1="1604.3" y1="604.2" x2="1586.6" y2="594.0" stroke="#e2e2e2" stroke-width="1.14"/><line x1="1621.5" y1="622.9" x2="1616.4" y2="622.9" stroke="#7c7c7c" stroke-width="3.80"/><line x1="1621.5" y1="622.7" x2="1616.4" y2="622.7" stroke="#bebebe" stroke-width="2.74"/><line x1="1621.5" y1="622.4" x2="1616.4" y2="622.4" stroke="#e2e2e2" stroke-width="1.14"/><line x1="1634.6" y1="620.7" x2="1640.4" y2="619.9" stroke="#7c7c7c" stroke-width="3.80"/><line x1="1634.6" y1="620.5" x2="1640.4" y2="619.7" stroke="#bebebe" stroke-width="2.74"/><line x1="1634.5" y1="620.2" x2="1640.3" y2="619.4" stroke="#e2e2e2" stroke-width="1.14"/><line x1="1652.1" y1="638.2" x2="1668.1" y2="649.8" stroke="#7c7c7c" stroke-width="3.80"/><line x1="1652.2" y1="638.0" x2="1668.2" y2="649.6" stroke="#bebebe" stroke-width="2.74"/><line x1="1652.4" y1="637.8" x2="1668.4" y2="649.4" stroke="#e2e2e2" stroke-width="1.14"/><circle cx="1566.3" cy="542.0" r="8.0" fill="url(#gP)"/><circle cx="1493.0" cy="472.5" r="5.75" fill="url(#gC)"/><circle cx="1524.1" cy="487.8" r="5.75" fill="url(#gC)"/><circle cx="1531.2" cy="520.9" r="4.8" fill="url(#gH)"/><circle cx="1527.0" cy="525.2" r="5.75" fill="url(#gC)"/><circle cx="1499.8" cy="546.8" r="5.75" fill="url(#gC)"/><circle cx="1469.2" cy="531.1" r="5.75" fill="url(#gC)"/><circle cx="1466.3" cy="494.6" r="5.75" fill="url(#gC)"/><circle cx="1491.7" cy="447.9" r="4.8" fill="url(#gH)"/><circle cx="1542.3" cy="473.4" r="4.8" fill="url(#gH)"/><circle cx="1501.5" cy="571.1" r="4.8" fill="url(#gH)"/><circle cx="1450.5" cy="546.9" r="4.8" fill="url(#gH)"/><circle cx="1445.4" cy="485.6" r="4.8" fill="url(#gH)"/><circle cx="1569.1" cy="519.2" r="5.75" fill="url(#gC)"/><circle cx="1591.7" cy="491.1" r="5.75" fill="url(#gC)"/><circle cx="1592.4" cy="473.6" r="5.75" fill="url(#gC)"/><circle cx="1569.4" cy="486.0" r="5.75" fill="url(#gC)"/><circle cx="1546.9" cy="514.4" r="5.75" fill="url(#gC)"/><circle cx="1545.8" cy="531.9" r="5.75" fill="url(#gC)"/><circle cx="1606.9" cy="483.1" r="4.8" fill="url(#gH)"/><circle cx="1608.4" cy="455.7" r="4.8" fill="url(#gH)"/><circle cx="1570.2" cy="474.4" r="4.8" fill="url(#gH)"/><circle cx="1530.7" cy="550.7" r="4.8" fill="url(#gH)"/><circle cx="1605.5" cy="531.9" r="5.75" fill="url(#gC)"/><circle cx="1601.1" cy="524.6" r="5.75" fill="url(#gC)"/><circle cx="1631.7" cy="516.6" r="5.75" fill="url(#gC)"/><circle cx="1665.2" cy="514.4" r="5.75" fill="url(#gC)"/><circle cx="1669.6" cy="523.2" r="5.75" fill="url(#gC)"/><circle cx="1639.7" cy="531.9" r="5.75" fill="url(#gC)"/><circle cx="1579.3" cy="526.1" r="4.8" fill="url(#gH)"/><circle cx="1629.5" cy="510.8" r="4.8" fill="url(#gH)"/><circle cx="1685.6" cy="507.9" r="4.8" fill="url(#gH)"/><circle cx="1692.2" cy="523.2" r="4.8" fill="url(#gH)"/><circle cx="1642.6" cy="538.5" r="4.8" fill="url(#gH)"/><circle cx="1563.0" cy="589.4" r="5.75" fill="url(#gC)"/><circle cx="1542.1" cy="595.5" r="4.8" fill="url(#gH)"/><circle cx="1557.4" cy="601.7" r="4.8" fill="url(#gH)"/><circle cx="1596.0" cy="606.1" r="5.75" fill="url(#gC)"/><circle cx="1604.0" cy="604.7" r="5.75" fill="url(#gC)"/><circle cx="1621.5" cy="622.9" r="5.75" fill="url(#gC)"/><circle cx="1634.6" cy="620.7" r="5.75" fill="url(#gC)"/><circle cx="1652.1" cy="638.2" r="5.75" fill="url(#gC)"/><circle cx="1658.7" cy="636.7" r="5.75" fill="url(#gC)"/><circle cx="1687.8" cy="652.0" r="6.6" fill="url(#gF)"/><circle cx="1586.3" cy="594.5" r="4.8" fill="url(#gH)"/><circle cx="1616.4" cy="622.9" r="4.8" fill="url(#gH)"/><circle cx="1640.4" cy="619.9" r="4.8" fill="url(#gH)"/><circle cx="1668.1" cy="649.8" r="4.8" fill="url(#gH)"/><line x1="1559.7" y1="539.2" x2="1531.8" y2="527.2" stroke="#7c7c7c" stroke-width="4.30"/><line x1="1559.8" y1="539.0" x2="1531.8" y2="527.0" stroke="#bebebe" stroke-width="3.10"/><line x1="1559.9" y1="538.6" x2="1532.0" y2="526.7" stroke="#e2e2e2" stroke-width="1.29"/><line x1="1807.6" y1="706.0" x2="1846.9" y2="722.8" stroke="#7c7c7c" stroke-width="4.30"/><line x1="1807.7" y1="705.8" x2="1847.0" y2="722.6" stroke="#bebebe" stroke-width="3.10"/><line x1="1807.8" y1="705.4" x2="1847.1" y2="722.2" stroke="#e2e2e2" stroke-width="1.29"/><line x1="1880.9" y1="775.5" x2="1849.8" y2="760.2" stroke="#7c7c7c" stroke-width="4.60"/><line x1="1881.0" y1="775.3" x2="1849.9" y2="760.0" stroke="#bebebe" stroke-width="3.31"/><line x1="1881.2" y1="774.9" x2="1850.1" y2="759.6" stroke="#e2e2e2" stroke-width="1.38"/><line x1="1849.8" y1="760.2" x2="1846.9" y2="722.8" stroke="#7c7c7c" stroke-width="4.60"/><line x1="1849.6" y1="760.2" x2="1846.7" y2="722.8" stroke="#bebebe" stroke-width="3.31"/><line x1="1849.2" y1="760.2" x2="1846.3" y2="722.8" stroke="#e2e2e2" stroke-width="1.38"/><line x1="1846.9" y1="722.8" x2="1874.1" y2="701.2" stroke="#7c7c7c" stroke-width="4.60"/><line x1="1846.8" y1="722.6" x2="1874.0" y2="701.0" stroke="#bebebe" stroke-width="3.31"/><line x1="1846.5" y1="722.3" x2="1873.7" y2="700.7" stroke="#e2e2e2" stroke-width="1.38"/><line x1="1874.1" y1="701.2" x2="1904.7" y2="716.9" stroke="#7c7c7c" stroke-width="4.60"/><line x1="1874.2" y1="701.0" x2="1904.8" y2="716.7" stroke="#bebebe" stroke-width="3.31"/><line x1="1874.4" y1="700.6" x2="1905.0" y2="716.3" stroke="#e2e2e2" stroke-width="1.38"/><line x1="1904.7" y1="716.9" x2="1907.6" y2="753.4" stroke="#7c7c7c" stroke-width="4.60"/><line x1="1904.5" y1="716.9" x2="1907.4" y2="753.4" stroke="#bebebe" stroke-width="3.31"/><line x1="1904.1" y1="717.0" x2="1907.0" y2="753.5" stroke="#e2e2e2" stroke-width="1.38"/><line x1="1907.6" y1="753.4" x2="1880.9" y2="775.5" stroke="#7c7c7c" stroke-width="4.60"/><line x1="1907.5" y1="753.2" x2="1880.8" y2="775.3" stroke="#bebebe" stroke-width="3.31"/><line x1="1907.2" y1="752.9" x2="1880.5" y2="775.0" stroke="#e2e2e2" stroke-width="1.38"/><line x1="1880.9" y1="775.5" x2="1882.2" y2="800.1" stroke="#7c7c7c" stroke-width="3.80"/><line x1="1880.7" y1="775.5" x2="1882.0" y2="800.1" stroke="#bebebe" stroke-width="2.74"/><line x1="1880.4" y1="775.5" x2="1881.7" y2="800.1" stroke="#e2e2e2" stroke-width="1.14"/><line x1="1849.8" y1="760.2" x2="1831.6" y2="774.6" stroke="#7c7c7c" stroke-width="3.80"/><line x1="1849.7" y1="760.1" x2="1831.5" y2="774.5" stroke="#bebebe" stroke-width="2.74"/><line x1="1849.5" y1="759.8" x2="1831.3" y2="774.2" stroke="#e2e2e2" stroke-width="1.14"/><line x1="1874.1" y1="701.2" x2="1872.4" y2="676.9" stroke="#7c7c7c" stroke-width="3.80"/><line x1="1873.9" y1="701.2" x2="1872.2" y2="676.9" stroke="#bebebe" stroke-width="2.74"/><line x1="1873.6" y1="701.2" x2="1871.9" y2="676.9" stroke="#e2e2e2" stroke-width="1.14"/><line x1="1904.7" y1="716.9" x2="1923.4" y2="701.1" stroke="#7c7c7c" stroke-width="3.80"/><line x1="1904.6" y1="716.8" x2="1923.3" y2="701.0" stroke="#bebebe" stroke-width="2.74"/><line x1="1904.4" y1="716.5" x2="1923.1" y2="700.7" stroke="#e2e2e2" stroke-width="1.14"/><line x1="1907.6" y1="753.4" x2="1928.5" y2="762.4" stroke="#7c7c7c" stroke-width="3.80"/><line x1="1907.7" y1="753.2" x2="1928.6" y2="762.2" stroke="#bebebe" stroke-width="2.74"/><line x1="1907.8" y1="752.9" x2="1928.7" y2="761.9" stroke="#e2e2e2" stroke-width="1.14"/><line x1="1807.6" y1="706.0" x2="1804.8" y2="728.8" stroke="#7c7c7c" stroke-width="2.50"/><line x1="1807.5" y1="706.0" x2="1804.7" y2="728.8" stroke="#bebebe" stroke-width="1.80"/><line x1="1807.3" y1="706.0" x2="1804.5" y2="728.8" stroke="#e2e2e2" stroke-width="0.75"/><line x1="1804.8" y1="728.8" x2="1782.2" y2="756.9" stroke="#7c7c7c" stroke-width="4.60"/><line x1="1804.6" y1="728.7" x2="1782.0" y2="756.8" stroke="#bebebe" stroke-width="3.31"/><line x1="1804.3" y1="728.4" x2="1781.7" y2="756.5" stroke="#e2e2e2" stroke-width="1.38"/><line x1="1782.2" y1="756.9" x2="1781.5" y2="774.4" stroke="#7c7c7c" stroke-width="4.60"/><line x1="1782.0" y1="756.9" x2="1781.3" y2="774.4" stroke="#bebebe" stroke-width="3.31"/><line x1="1781.6" y1="756.9" x2="1780.9" y2="774.4" stroke="#e2e2e2" stroke-width="1.38"/><line x1="1781.5" y1="774.4" x2="1804.5" y2="762.0" stroke="#555555" stroke-width="4.60"/><line x1="1781.4" y1="774.2" x2="1804.4" y2="761.8" stroke="#727272" stroke-width="3.31"/><line x1="1781.2" y1="773.8" x2="1804.2" y2="761.4" stroke="#909090" stroke-width="1.38"/><line x1="1804.5" y1="762.0" x2="1827.0" y2="733.6" stroke="#7c7c7c" stroke-width="4.60"/><line x1="1804.3" y1="761.9" x2="1826.8" y2="733.5" stroke="#bebebe" stroke-width="3.31"/><line x1="1804.0" y1="761.6" x2="1826.5" y2="733.2" stroke="#e2e2e2" stroke-width="1.38"/><line x1="1827.0" y1="733.6" x2="1828.1" y2="716.1" stroke="#7c7c7c" stroke-width="4.60"/><line x1="1826.8" y1="733.6" x2="1827.9" y2="716.1" stroke="#bebebe" stroke-width="3.31"/><line x1="1826.4" y1="733.6" x2="1827.5" y2="716.1" stroke="#e2e2e2" stroke-width="1.38"/><line x1="1828.1" y1="716.1" x2="1804.8" y2="728.8" stroke="#555555" stroke-width="4.60"/><line x1="1828.0" y1="715.9" x2="1804.7" y2="728.6" stroke="#727272" stroke-width="3.31"/><line x1="1827.8" y1="715.5" x2="1804.5" y2="728.2" stroke="#909090" stroke-width="1.38"/><line x1="1782.2" y1="756.9" x2="1767.0" y2="764.9" stroke="#7c7c7c" stroke-width="3.80"/><line x1="1782.1" y1="756.7" x2="1766.9" y2="764.7" stroke="#bebebe" stroke-width="2.74"/><line x1="1782.0" y1="756.4" x2="1766.8" y2="764.4" stroke="#e2e2e2" stroke-width="1.14"/><line x1="1781.5" y1="774.4" x2="1765.5" y2="792.3" stroke="#7c7c7c" stroke-width="3.80"/><line x1="1781.4" y1="774.3" x2="1765.4" y2="792.2" stroke="#bebebe" stroke-width="2.74"/><line x1="1781.1" y1="774.0" x2="1765.1" y2="791.9" stroke="#e2e2e2" stroke-width="1.14"/><line x1="1804.5" y1="762.0" x2="1803.7" y2="773.6" stroke="#7c7c7c" stroke-width="3.80"/><line x1="1804.3" y1="762.0" x2="1803.5" y2="773.6" stroke="#bebebe" stroke-width="2.74"/><line x1="1804.0" y1="762.0" x2="1803.2" y2="773.6" stroke="#e2e2e2" stroke-width="1.14"/><line x1="1827.0" y1="733.6" x2="1842.7" y2="727.1" stroke="#555555" stroke-width="3.80"/><line x1="1826.9" y1="733.4" x2="1842.6" y2="726.9" stroke="#727272" stroke-width="2.74"/><line x1="1826.8" y1="733.1" x2="1842.5" y2="726.6" stroke="#909090" stroke-width="1.14"/><line x1="1828.1" y1="716.1" x2="1843.2" y2="697.3" stroke="#7c7c7c" stroke-width="3.80"/><line x1="1828.0" y1="716.0" x2="1843.1" y2="697.2" stroke="#bebebe" stroke-width="2.74"/><line x1="1827.7" y1="715.8" x2="1842.8" y2="697.0" stroke="#e2e2e2" stroke-width="1.14"/><line x1="1807.6" y1="706.0" x2="1768.4" y2="716.1" stroke="#555555" stroke-width="4.30"/><line x1="1807.5" y1="705.8" x2="1768.3" y2="715.9" stroke="#727272" stroke-width="3.10"/><line x1="1807.4" y1="705.4" x2="1768.2" y2="715.5" stroke="#909090" stroke-width="1.29"/><line x1="1768.4" y1="716.1" x2="1772.8" y2="723.4" stroke="#7c7c7c" stroke-width="4.60"/><line x1="1768.6" y1="716.0" x2="1773.0" y2="723.3" stroke="#bebebe" stroke-width="3.31"/><line x1="1769.0" y1="715.8" x2="1773.4" y2="723.1" stroke="#e2e2e2" stroke-width="1.38"/><line x1="1772.8" y1="723.4" x2="1742.2" y2="731.4" stroke="#555555" stroke-width="4.60"/><line x1="1772.7" y1="723.2" x2="1742.1" y2="731.2" stroke="#727272" stroke-width="3.31"/><line x1="1772.6" y1="722.8" x2="1742.0" y2="730.8" stroke="#909090" stroke-width="1.38"/><line x1="1742.2" y1="731.4" x2="1708.7" y2="733.6" stroke="#7c7c7c" stroke-width="4.60"/><line x1="1742.2" y1="731.2" x2="1708.7" y2="733.4" stroke="#bebebe" stroke-width="3.31"/><line x1="1742.2" y1="730.8" x2="1708.7" y2="733.0" stroke="#e2e2e2" stroke-width="1.38"/><line x1="1708.7" y1="733.6" x2="1704.3" y2="724.8" stroke="#7c7c7c" stroke-width="4.60"/><line x1="1708.9" y1="733.5" x2="1704.5" y2="724.7" stroke="#bebebe" stroke-width="3.31"/><line x1="1709.3" y1="733.3" x2="1704.9" y2="724.5" stroke="#e2e2e2" stroke-width="1.38"/><line x1="1704.3" y1="724.8" x2="1734.2" y2="716.1" stroke="#7c7c7c" stroke-width="4.60"/><line x1="1704.2" y1="724.6" x2="1734.1" y2="715.9" stroke="#bebebe" stroke-width="3.31"/><line x1="1704.1" y1="724.2" x2="1734.0" y2="715.5" stroke="#e2e2e2" stroke-width="1.38"/><line x1="1734.2" y1="716.1" x2="1768.4" y2="716.1" stroke="#7c7c7c" stroke-width="4.60"/><line x1="1734.2" y1="715.9" x2="1768.4" y2="715.9" stroke="#bebebe" stroke-width="3.31"/><line x1="1734.2" y1="715.5" x2="1768.4" y2="715.5" stroke="#e2e2e2" stroke-width="1.38"/><line x1="1772.8" y1="723.4" x2="1794.6" y2="721.9" stroke="#7c7c7c" stroke-width="3.80"/><line x1="1772.8" y1="723.2" x2="1794.6" y2="721.7" stroke="#bebebe" stroke-width="2.74"/><line x1="1772.8" y1="722.9" x2="1794.6" y2="721.4" stroke="#e2e2e2" stroke-width="1.14"/><line x1="1742.2" y1="731.4" x2="1744.4" y2="737.2" stroke="#7c7c7c" stroke-width="3.80"/><line x1="1742.4" y1="731.3" x2="1744.6" y2="737.1" stroke="#bebebe" stroke-width="2.74"/><line x1="1742.7" y1="731.2" x2="1744.9" y2="737.0" stroke="#e2e2e2" stroke-width="1.14"/><line x1="1708.7" y1="733.6" x2="1688.3" y2="740.1" stroke="#7c7c7c" stroke-width="3.80"/><line x1="1708.6" y1="733.4" x2="1688.2" y2="739.9" stroke="#bebebe" stroke-width="2.74"/><line x1="1708.5" y1="733.1" x2="1688.1" y2="739.6" stroke="#e2e2e2" stroke-width="1.14"/><line x1="1704.3" y1="724.8" x2="1681.7" y2="724.8" stroke="#7c7c7c" stroke-width="3.80"/><line x1="1704.3" y1="724.6" x2="1681.7" y2="724.6" stroke="#bebebe" stroke-width="2.74"/><line x1="1704.3" y1="724.3" x2="1681.7" y2="724.3" stroke="#e2e2e2" stroke-width="1.14"/><line x1="1734.2" y1="716.1" x2="1731.3" y2="709.5" stroke="#7c7c7c" stroke-width="3.80"/><line x1="1734.4" y1="716.0" x2="1731.5" y2="709.4" stroke="#bebebe" stroke-width="2.74"/><line x1="1734.7" y1="715.9" x2="1731.8" y2="709.3" stroke="#e2e2e2" stroke-width="1.14"/><line x1="1807.6" y1="706.0" x2="1810.9" y2="658.6" stroke="#7c7c7c" stroke-width="2.50"/><line x1="1807.5" y1="706.0" x2="1810.8" y2="658.6" stroke="#bebebe" stroke-width="1.80"/><line x1="1807.3" y1="706.0" x2="1810.6" y2="658.6" stroke="#e2e2e2" stroke-width="0.75"/><line x1="1810.9" y1="658.6" x2="1831.8" y2="652.5" stroke="#7c7c7c" stroke-width="3.80"/><line x1="1810.8" y1="658.4" x2="1831.7" y2="652.3" stroke="#bebebe" stroke-width="2.74"/><line x1="1810.8" y1="658.1" x2="1831.7" y2="652.0" stroke="#e2e2e2" stroke-width="1.14"/><line x1="1810.9" y1="658.6" x2="1816.5" y2="646.3" stroke="#7c7c7c" stroke-width="3.80"/><line x1="1810.7" y1="658.5" x2="1816.3" y2="646.2" stroke="#bebebe" stroke-width="2.74"/><line x1="1810.4" y1="658.4" x2="1816.0" y2="646.1" stroke="#e2e2e2" stroke-width="1.14"/><line x1="1810.9" y1="658.6" x2="1777.9" y2="641.9" stroke="#7c7c7c" stroke-width="2.50"/><line x1="1811.0" y1="658.5" x2="1778.0" y2="641.8" stroke="#bebebe" stroke-width="1.80"/><line x1="1811.1" y1="658.3" x2="1778.1" y2="641.6" stroke="#e2e2e2" stroke-width="0.75"/><line x1="1777.9" y1="641.9" x2="1769.9" y2="643.3" stroke="#7c7c7c" stroke-width="4.60"/><line x1="1777.9" y1="641.7" x2="1769.9" y2="643.1" stroke="#bebebe" stroke-width="3.31"/><line x1="1777.8" y1="641.3" x2="1769.8" y2="642.7" stroke="#e2e2e2" stroke-width="1.38"/><line x1="1777.9" y1="641.9" x2="1752.4" y2="625.1" stroke="#7c7c7c" stroke-width="4.60"/><line x1="1778.0" y1="641.7" x2="1752.5" y2="624.9" stroke="#bebebe" stroke-width="3.31"/><line x1="1778.3" y1="641.4" x2="1752.8" y2="624.6" stroke="#e2e2e2" stroke-width="1.38"/><line x1="1769.9" y1="643.3" x2="1739.3" y2="627.3" stroke="#7c7c7c" stroke-width="4.60"/><line x1="1770.0" y1="643.1" x2="1739.4" y2="627.1" stroke="#bebebe" stroke-width="3.31"/><line x1="1770.2" y1="642.7" x2="1739.6" y2="626.7" stroke="#e2e2e2" stroke-width="1.38"/><line x1="1752.4" y1="625.1" x2="1721.8" y2="609.8" stroke="#7c7c7c" stroke-width="4.60"/><line x1="1752.5" y1="624.9" x2="1721.9" y2="609.6" stroke="#bebebe" stroke-width="3.31"/><line x1="1752.7" y1="624.5" x2="1722.1" y2="609.2" stroke="#e2e2e2" stroke-width="1.38"/><line x1="1739.3" y1="627.3" x2="1715.2" y2="611.3" stroke="#7c7c7c" stroke-width="4.60"/><line x1="1739.4" y1="627.1" x2="1715.3" y2="611.1" stroke="#bebebe" stroke-width="3.31"/><line x1="1739.7" y1="626.8" x2="1715.6" y2="610.8" stroke="#e2e2e2" stroke-width="1.38"/><line x1="1721.8" y1="609.8" x2="1715.2" y2="611.3" stroke="#7c7c7c" stroke-width="4.60"/><line x1="1721.7" y1="609.6" x2="1715.1" y2="611.1" stroke="#bebebe" stroke-width="3.31"/><line x1="1721.7" y1="609.2" x2="1715.1" y2="610.7" stroke="#e2e2e2" stroke-width="1.38"/><line x1="1715.2" y1="611.3" x2="1686.1" y2="596.0" stroke="#7c7c7c" stroke-width="2.50"/><line x1="1715.3" y1="611.2" x2="1686.2" y2="595.9" stroke="#bebebe" stroke-width="1.80"/><line x1="1715.4" y1="611.0" x2="1686.3" y2="595.7" stroke="#e2e2e2" stroke-width="0.75"/><line x1="1769.9" y1="643.3" x2="1787.6" y2="653.5" stroke="#7c7c7c" stroke-width="3.80"/><line x1="1770.0" y1="643.1" x2="1787.7" y2="653.3" stroke="#bebebe" stroke-width="2.74"/><line x1="1770.2" y1="642.8" x2="1787.9" y2="653.0" stroke="#e2e2e2" stroke-width="1.14"/><line x1="1752.4" y1="625.1" x2="1757.5" y2="625.1" stroke="#7c7c7c" stroke-width="3.80"/><line x1="1752.4" y1="624.9" x2="1757.5" y2="624.9" stroke="#bebebe" stroke-width="2.74"/><line x1="1752.4" y1="624.6" x2="1757.5" y2="624.6" stroke="#e2e2e2" stroke-width="1.14"/><line x1="1739.3" y1="627.3" x2="1733.5" y2="628.1" stroke="#7c7c7c" stroke-width="3.80"/><line x1="1739.3" y1="627.1" x2="1733.5" y2="627.9" stroke="#bebebe" stroke-width="2.74"/><line x1="1739.2" y1="626.8" x2="1733.4" y2="627.6" stroke="#e2e2e2" stroke-width="1.14"/><line x1="1721.8" y1="609.8" x2="1705.8" y2="598.2" stroke="#7c7c7c" stroke-width="3.80"/><line x1="1721.9" y1="609.6" x2="1705.9" y2="598.0" stroke="#bebebe" stroke-width="2.74"/><line x1="1722.1" y1="609.4" x2="1706.1" y2="597.8" stroke="#e2e2e2" stroke-width="1.14"/><circle cx="1807.6" cy="706.0" r="8.0" fill="url(#gP)"/><circle cx="1880.9" cy="775.5" r="5.75" fill="url(#gC)"/><circle cx="1849.8" cy="760.2" r="5.75" fill="url(#gC)"/><circle cx="1874.1" cy="701.2" r="5.75" fill="url(#gC)"/><circle cx="1904.7" cy="716.9" r="5.75" fill="url(#gC)"/><circle cx="1907.6" cy="753.4" r="5.75" fill="url(#gC)"/><circle cx="1882.2" cy="800.1" r="4.8" fill="url(#gH)"/><circle cx="1831.6" cy="774.6" r="4.8" fill="url(#gH)"/><circle cx="1872.4" cy="676.9" r="4.8" fill="url(#gH)"/><circle cx="1923.4" cy="701.1" r="4.8" fill="url(#gH)"/><circle cx="1928.5" cy="762.4" r="4.8" fill="url(#gH)"/><circle cx="1804.8" cy="728.8" r="5.75" fill="url(#gC)"/><circle cx="1782.2" cy="756.9" r="5.75" fill="url(#gC)"/><circle cx="1781.5" cy="774.4" r="5.75" fill="url(#gC)"/><circle cx="1804.5" cy="762.0" r="5.75" fill="url(#gC)"/><circle cx="1827.0" cy="733.6" r="5.75" fill="url(#gC)"/><circle cx="1828.1" cy="716.1" r="5.75" fill="url(#gC)"/><circle cx="1767.0" cy="764.9" r="4.8" fill="url(#gH)"/><circle cx="1765.5" cy="792.3" r="4.8" fill="url(#gH)"/><circle cx="1803.7" cy="773.6" r="4.8" fill="url(#gH)"/><circle cx="1846.9" cy="722.8" r="5.75" fill="url(#gC)"/><circle cx="1842.7" cy="727.1" r="4.8" fill="url(#gH)"/><circle cx="1843.2" cy="697.3" r="4.8" fill="url(#gH)"/><circle cx="1768.4" cy="716.1" r="5.75" fill="url(#gC)"/><circle cx="1772.8" cy="723.4" r="5.75" fill="url(#gC)"/><circle cx="1742.2" cy="731.4" r="5.75" fill="url(#gC)"/><circle cx="1708.7" cy="733.6" r="5.75" fill="url(#gC)"/><circle cx="1704.3" cy="724.8" r="5.75" fill="url(#gC)"/><circle cx="1734.2" cy="716.1" r="5.75" fill="url(#gC)"/><circle cx="1794.6" cy="721.9" r="4.8" fill="url(#gH)"/><circle cx="1744.4" cy="737.2" r="4.8" fill="url(#gH)"/><circle cx="1688.3" cy="740.1" r="4.8" fill="url(#gH)"/><circle cx="1681.7" cy="724.8" r="4.8" fill="url(#gH)"/><circle cx="1731.3" cy="709.5" r="4.8" fill="url(#gH)"/><circle cx="1810.9" cy="658.6" r="5.75" fill="url(#gC)"/><circle cx="1831.8" cy="652.5" r="4.8" fill="url(#gH)"/><circle cx="1816.5" cy="646.3" r="4.8" fill="url(#gH)"/><circle cx="1777.9" cy="641.9" r="5.75" fill="url(#gC)"/><circle cx="1769.9" cy="643.3" r="5.75" fill="url(#gC)"/><circle cx="1752.4" cy="625.1" r="5.75" fill="url(#gC)"/><circle cx="1739.3" cy="627.3" r="5.75" fill="url(#gC)"/><circle cx="1721.8" cy="609.8" r="5.75" fill="url(#gC)"/><circle cx="1715.2" cy="611.3" r="5.75" fill="url(#gC)"/><circle cx="1686.1" cy="596.0" r="6.6" fill="url(#gF)"/><circle cx="1787.6" cy="653.5" r="4.8" fill="url(#gH)"/><circle cx="1757.5" cy="625.1" r="4.8" fill="url(#gH)"/><circle cx="1733.5" cy="628.1" r="4.8" fill="url(#gH)"/><circle cx="1705.8" cy="598.2" r="4.8" fill="url(#gH)"/><line x1="1127.5" y1="330.1" x2="1165.7" y2="312.8" stroke="#555555" stroke-width="4.30"/><line x1="1127.4" y1="329.9" x2="1165.6" y2="312.6" stroke="#727272" stroke-width="3.10"/><line x1="1127.3" y1="329.6" x2="1165.5" y2="312.3" stroke="#909090" stroke-width="1.29"/><line x1="1167.5" y1="275.4" x2="1196.9" y2="260.7" stroke="#7c7c7c" stroke-width="4.60"/><line x1="1167.4" y1="275.2" x2="1196.8" y2="260.5" stroke="#bebebe" stroke-width="3.31"/><line x1="1167.2" y1="274.8" x2="1196.6" y2="260.1" stroke="#e2e2e2" stroke-width="1.38"/><line x1="1196.9" y1="260.7" x2="1222.8" y2="283.4" stroke="#7c7c7c" stroke-width="4.60"/><line x1="1197.1" y1="260.5" x2="1223.0" y2="283.2" stroke="#bebebe" stroke-width="3.31"/><line x1="1197.3" y1="260.2" x2="1223.2" y2="282.9" stroke="#e2e2e2" stroke-width="1.38"/><line x1="1222.8" y1="283.4" x2="1220.1" y2="319.4" stroke="#7c7c7c" stroke-width="4.60"/><line x1="1222.6" y1="283.4" x2="1219.9" y2="319.4" stroke="#bebebe" stroke-width="3.31"/><line x1="1222.2" y1="283.4" x2="1219.5" y2="319.4" stroke="#e2e2e2" stroke-width="1.38"/><line x1="1220.1" y1="319.4" x2="1191.5" y2="335.4" stroke="#7c7c7c" stroke-width="4.60"/><line x1="1220.0" y1="319.2" x2="1191.4" y2="335.2" stroke="#bebebe" stroke-width="3.31"/><line x1="1219.8" y1="318.8" x2="1191.2" y2="334.8" stroke="#e2e2e2" stroke-width="1.38"/><line x1="1191.5" y1="335.4" x2="1165.7" y2="312.8" stroke="#7c7c7c" stroke-width="4.60"/><line x1="1191.7" y1="335.2" x2="1165.9" y2="312.6" stroke="#bebebe" stroke-width="3.31"/><line x1="1191.9" y1="334.9" x2="1166.1" y2="312.3" stroke="#e2e2e2" stroke-width="1.38"/><line x1="1165.7" y1="312.8" x2="1167.5" y2="275.4" stroke="#7c7c7c" stroke-width="4.60"/><line x1="1165.5" y1="312.8" x2="1167.3" y2="275.4" stroke="#bebebe" stroke-width="3.31"/><line x1="1165.1" y1="312.8" x2="1166.9" y2="275.4" stroke="#e2e2e2" stroke-width="1.38"/><line x1="1167.5" y1="275.4" x2="1150.2" y2="260.7" stroke="#7c7c7c" stroke-width="3.80"/><line x1="1167.6" y1="275.3" x2="1150.3" y2="260.6" stroke="#bebebe" stroke-width="2.74"/><line x1="1167.8" y1="275.0" x2="1150.5" y2="260.3" stroke="#e2e2e2" stroke-width="1.14"/><line x1="1196.9" y1="260.7" x2="1199.6" y2="235.9" stroke="#7c7c7c" stroke-width="3.80"/><line x1="1196.7" y1="260.7" x2="1199.4" y2="235.9" stroke="#bebebe" stroke-width="2.74"/><line x1="1196.4" y1="260.6" x2="1199.1" y2="235.8" stroke="#e2e2e2" stroke-width="1.14"/><line x1="1222.8" y1="283.4" x2="1243.1" y2="273.2" stroke="#7c7c7c" stroke-width="3.80"/><line x1="1222.7" y1="283.2" x2="1243.0" y2="273.0" stroke="#bebebe" stroke-width="2.74"/><line x1="1222.6" y1="282.9" x2="1242.9" y2="272.7" stroke="#e2e2e2" stroke-width="1.14"/><line x1="1220.1" y1="319.4" x2="1238.3" y2="334.9" stroke="#7c7c7c" stroke-width="3.80"/><line x1="1220.2" y1="319.3" x2="1238.4" y2="334.8" stroke="#bebebe" stroke-width="2.74"/><line x1="1220.4" y1="319.0" x2="1238.6" y2="334.5" stroke="#e2e2e2" stroke-width="1.14"/><line x1="1191.5" y1="335.4" x2="1189.7" y2="360.3" stroke="#7c7c7c" stroke-width="3.80"/><line x1="1191.3" y1="335.4" x2="1189.5" y2="360.3" stroke="#bebebe" stroke-width="2.74"/><line x1="1191.0" y1="335.4" x2="1189.2" y2="360.3" stroke="#e2e2e2" stroke-width="1.14"/><line x1="1127.5" y1="330.1" x2="1128.8" y2="307.4" stroke="#7c7c7c" stroke-width="2.50"/><line x1="1127.4" y1="330.1" x2="1128.7" y2="307.4" stroke="#bebebe" stroke-width="1.80"/><line x1="1127.2" y1="330.1" x2="1128.5" y2="307.4" stroke="#e2e2e2" stroke-width="0.75"/><line x1="1128.8" y1="307.4" x2="1106.7" y2="279.4" stroke="#7c7c7c" stroke-width="4.60"/><line x1="1129.0" y1="307.3" x2="1106.9" y2="279.3" stroke="#bebebe" stroke-width="3.31"/><line x1="1129.3" y1="307.0" x2="1107.2" y2="279.0" stroke="#e2e2e2" stroke-width="1.38"/><line x1="1106.7" y1="279.4" x2="1107.5" y2="262.0" stroke="#7c7c7c" stroke-width="4.60"/><line x1="1106.5" y1="279.4" x2="1107.3" y2="262.0" stroke="#bebebe" stroke-width="3.31"/><line x1="1106.1" y1="279.4" x2="1106.9" y2="262.0" stroke="#e2e2e2" stroke-width="1.38"/><line x1="1107.5" y1="262.0" x2="1134.2" y2="274.0" stroke="#7c7c7c" stroke-width="4.60"/><line x1="1107.6" y1="261.8" x2="1134.3" y2="273.8" stroke="#bebebe" stroke-width="3.31"/><line x1="1107.8" y1="261.4" x2="1134.5" y2="273.4" stroke="#e2e2e2" stroke-width="1.38"/><line x1="1134.2" y1="274.0" x2="1155.5" y2="302.1" stroke="#7c7c7c" stroke-width="4.60"/><line x1="1134.4" y1="273.9" x2="1155.7" y2="302.0" stroke="#bebebe" stroke-width="3.31"/><line x1="1134.7" y1="273.6" x2="1156.0" y2="301.7" stroke="#e2e2e2" stroke-width="1.38"/><line x1="1155.5" y1="302.1" x2="1154.2" y2="319.4" stroke="#7c7c7c" stroke-width="4.60"/><line x1="1155.3" y1="302.1" x2="1154.0" y2="319.4" stroke="#bebebe" stroke-width="3.31"/><line x1="1154.9" y1="302.1" x2="1153.6" y2="319.4" stroke="#e2e2e2" stroke-width="1.38"/><line x1="1154.2" y1="319.4" x2="1128.8" y2="307.4" stroke="#7c7c7c" stroke-width="4.60"/><line x1="1154.3" y1="319.2" x2="1128.9" y2="307.2" stroke="#bebebe" stroke-width="3.31"/><line x1="1154.5" y1="318.8" x2="1129.1" y2="306.8" stroke="#e2e2e2" stroke-width="1.38"/><line x1="1106.7" y1="279.4" x2="1090.1" y2="270.6" stroke="#7c7c7c" stroke-width="3.80"/><line x1="1106.8" y1="279.2" x2="1090.2" y2="270.4" stroke="#bebebe" stroke-width="2.74"/><line x1="1106.9" y1="278.9" x2="1090.3" y2="270.1" stroke="#e2e2e2" stroke-width="1.14"/><line x1="1107.5" y1="262.0" x2="1092.8" y2="242.8" stroke="#7c7c7c" stroke-width="3.80"/><line x1="1107.7" y1="261.9" x2="1093.0" y2="242.7" stroke="#bebebe" stroke-width="2.74"/><line x1="1107.9" y1="261.7" x2="1093.2" y2="242.5" stroke="#e2e2e2" stroke-width="1.14"/><line x1="1134.2" y1="274.0" x2="1135.0" y2="262.0" stroke="#7c7c7c" stroke-width="3.80"/><line x1="1134.0" y1="274.0" x2="1134.8" y2="262.0" stroke="#bebebe" stroke-width="2.74"/><line x1="1133.7" y1="274.0" x2="1134.5" y2="262.0" stroke="#e2e2e2" stroke-width="1.14"/><line x1="1155.5" y1="302.1" x2="1172.9" y2="309.6" stroke="#7c7c7c" stroke-width="3.80"/><line x1="1155.6" y1="301.9" x2="1173.0" y2="309.4" stroke="#bebebe" stroke-width="2.74"/><line x1="1155.7" y1="301.6" x2="1173.1" y2="309.1" stroke="#e2e2e2" stroke-width="1.14"/><line x1="1154.2" y1="319.4" x2="1168.9" y2="338.1" stroke="#7c7c7c" stroke-width="3.80"/><line x1="1154.3" y1="319.3" x2="1169.0" y2="338.0" stroke="#bebebe" stroke-width="2.74"/><line x1="1154.6" y1="319.1" x2="1169.3" y2="337.8" stroke="#e2e2e2" stroke-width="1.14"/><line x1="1127.5" y1="330.1" x2="1086.6" y2="320.2" stroke="#7c7c7c" stroke-width="4.30"/><line x1="1127.6" y1="329.9" x2="1086.7" y2="320.0" stroke="#bebebe" stroke-width="3.10"/><line x1="1127.6" y1="329.5" x2="1086.7" y2="319.6" stroke="#e2e2e2" stroke-width="1.29"/><line x1="1086.6" y1="320.2" x2="1087.4" y2="311.4" stroke="#7c7c7c" stroke-width="4.60"/><line x1="1086.4" y1="320.2" x2="1087.2" y2="311.4" stroke="#bebebe" stroke-width="3.31"/><line x1="1086.0" y1="320.1" x2="1086.8" y2="311.3" stroke="#e2e2e2" stroke-width="1.38"/><line x1="1087.4" y1="311.4" x2="1055.4" y2="303.4" stroke="#7c7c7c" stroke-width="4.60"/><line x1="1087.5" y1="311.2" x2="1055.5" y2="303.2" stroke="#bebebe" stroke-width="3.31"/><line x1="1087.6" y1="310.8" x2="1055.6" y2="302.8" stroke="#e2e2e2" stroke-width="1.38"/><line x1="1055.4" y1="303.4" x2="1023.4" y2="301.5" stroke="#7c7c7c" stroke-width="4.60"/><line x1="1055.4" y1="303.2" x2="1023.4" y2="301.3" stroke="#bebebe" stroke-width="3.31"/><line x1="1055.4" y1="302.8" x2="1023.4" y2="300.9" stroke="#e2e2e2" stroke-width="1.38"/><line x1="1023.4" y1="301.5" x2="1022.0" y2="311.4" stroke="#7c7c7c" stroke-width="4.60"/><line x1="1023.2" y1="301.5" x2="1021.8" y2="311.4" stroke="#bebebe" stroke-width="3.31"/><line x1="1022.8" y1="301.4" x2="1021.4" y2="311.3" stroke="#e2e2e2" stroke-width="1.38"/><line x1="1022.0" y1="311.4" x2="1054.1" y2="319.4" stroke="#7c7c7c" stroke-width="4.60"/><line x1="1022.1" y1="311.2" x2="1054.2" y2="319.2" stroke="#bebebe" stroke-width="3.31"/><line x1="1022.2" y1="310.8" x2="1054.3" y2="318.8" stroke="#e2e2e2" stroke-width="1.38"/><line x1="1054.1" y1="319.4" x2="1086.6" y2="320.2" stroke="#7c7c7c" stroke-width="4.60"/><line x1="1054.1" y1="319.2" x2="1086.6" y2="320.0" stroke="#bebebe" stroke-width="3.31"/><line x1="1054.1" y1="318.8" x2="1086.6" y2="319.6" stroke="#e2e2e2" stroke-width="1.38"/><line x1="1087.4" y1="311.4" x2="1110.1" y2="313.3" stroke="#7c7c7c" stroke-width="3.80"/><line x1="1087.4" y1="311.2" x2="1110.1" y2="313.1" stroke="#bebebe" stroke-width="2.74"/><line x1="1087.4" y1="310.9" x2="1110.1" y2="312.8" stroke="#e2e2e2" stroke-width="1.14"/><line x1="1055.4" y1="303.4" x2="1056.2" y2="296.7" stroke="#7c7c7c" stroke-width="3.80"/><line x1="1055.2" y1="303.4" x2="1056.0" y2="296.7" stroke="#bebebe" stroke-width="2.74"/><line x1="1054.9" y1="303.3" x2="1055.7" y2="296.6" stroke="#e2e2e2" stroke-width="1.14"/><line x1="1023.4" y1="301.5" x2="1002.8" y2="294.6" stroke="#7c7c7c" stroke-width="3.80"/><line x1="1023.5" y1="301.3" x2="1002.9" y2="294.4" stroke="#bebebe" stroke-width="2.74"/><line x1="1023.6" y1="301.0" x2="1003.0" y2="294.1" stroke="#e2e2e2" stroke-width="1.14"/><line x1="1022.0" y1="311.4" x2="1000.1" y2="309.6" stroke="#7c7c7c" stroke-width="3.80"/><line x1="1022.0" y1="311.2" x2="1000.1" y2="309.4" stroke="#bebebe" stroke-width="2.74"/><line x1="1022.0" y1="310.9" x2="1000.1" y2="309.1" stroke="#e2e2e2" stroke-width="1.14"/><line x1="1054.1" y1="319.4" x2="1052.7" y2="326.1" stroke="#7c7c7c" stroke-width="3.80"/><line x1="1053.9" y1="319.4" x2="1052.5" y2="326.1" stroke="#bebebe" stroke-width="2.74"/><line x1="1053.6" y1="319.3" x2="1052.2" y2="326.0" stroke="#e2e2e2" stroke-width="1.14"/><line x1="1127.5" y1="330.1" x2="1132.7" y2="377.5" stroke="#7c7c7c" stroke-width="2.50"/><line x1="1127.4" y1="330.1" x2="1132.6" y2="377.5" stroke="#bebebe" stroke-width="1.80"/><line x1="1127.2" y1="330.1" x2="1132.4" y2="377.5" stroke="#e2e2e2" stroke-width="0.75"/><line x1="1132.7" y1="377.5" x2="1153.8" y2="383.2" stroke="#7c7c7c" stroke-width="3.80"/><line x1="1132.7" y1="377.3" x2="1153.8" y2="383.0" stroke="#bebebe" stroke-width="2.74"/><line x1="1132.8" y1="377.0" x2="1153.9" y2="382.7" stroke="#e2e2e2" stroke-width="1.14"/><line x1="1132.7" y1="377.5" x2="1135.2" y2="389.3" stroke="#7c7c7c" stroke-width="3.80"/><line x1="1132.5" y1="377.5" x2="1135.0" y2="389.3" stroke="#bebebe" stroke-width="2.74"/><line x1="1132.2" y1="377.6" x2="1134.7" y2="389.4" stroke="#e2e2e2" stroke-width="1.14"/><line x1="1132.7" y1="377.5" x2="1098.8" y2="393.9" stroke="#7c7c7c" stroke-width="2.50"/><line x1="1132.6" y1="377.4" x2="1098.7" y2="393.8" stroke="#bebebe" stroke-width="1.80"/><line x1="1132.5" y1="377.2" x2="1098.6" y2="393.6" stroke="#e2e2e2" stroke-width="0.75"/><line x1="1095.0" y1="391.7" x2="1098.8" y2="393.9" stroke="#7c7c7c" stroke-width="4.60"/><line x1="1095.1" y1="391.5" x2="1098.9" y2="393.7" stroke="#bebebe" stroke-width="3.31"/><line x1="1095.3" y1="391.1" x2="1099.1" y2="393.3" stroke="#e2e2e2" stroke-width="1.38"/><line x1="1095.0" y1="391.7" x2="1064.4" y2="407.0" stroke="#7c7c7c" stroke-width="4.60"/><line x1="1094.9" y1="391.5" x2="1064.3" y2="406.8" stroke="#bebebe" stroke-width="3.31"/><line x1="1094.7" y1="391.1" x2="1064.1" y2="406.4" stroke="#e2e2e2" stroke-width="1.38"/><line x1="1098.8" y1="393.9" x2="1072.6" y2="410.5" stroke="#7c7c7c" stroke-width="4.60"/><line x1="1098.7" y1="393.7" x2="1072.5" y2="410.3" stroke="#bebebe" stroke-width="3.31"/><line x1="1098.5" y1="393.4" x2="1072.3" y2="410.0" stroke="#e2e2e2" stroke-width="1.38"/><line x1="1064.4" y1="407.0" x2="1040.4" y2="423.3" stroke="#7c7c7c" stroke-width="4.60"/><line x1="1064.3" y1="406.8" x2="1040.3" y2="423.1" stroke="#bebebe" stroke-width="3.31"/><line x1="1064.0" y1="406.5" x2="1040.0" y2="422.8" stroke="#e2e2e2" stroke-width="1.38"/><line x1="1072.6" y1="410.5" x2="1043.1" y2="425.5" stroke="#7c7c7c" stroke-width="4.60"/><line x1="1072.5" y1="410.3" x2="1043.0" y2="425.3" stroke="#bebebe" stroke-width="3.31"/><line x1="1072.3" y1="409.9" x2="1042.8" y2="424.9" stroke="#e2e2e2" stroke-width="1.38"/><line x1="1040.4" y1="423.3" x2="1043.1" y2="425.5" stroke="#7c7c7c" stroke-width="4.60"/><line x1="1040.5" y1="423.1" x2="1043.2" y2="425.3" stroke="#bebebe" stroke-width="3.31"/><line x1="1040.8" y1="422.8" x2="1043.5" y2="425.0" stroke="#e2e2e2" stroke-width="1.38"/><line x1="1040.4" y1="423.3" x2="1010.7" y2="439.5" stroke="#7c7c7c" stroke-width="2.50"/><line x1="1040.3" y1="423.2" x2="1010.6" y2="439.4" stroke="#bebebe" stroke-width="1.80"/><line x1="1040.2" y1="423.0" x2="1010.5" y2="439.2" stroke="#e2e2e2" stroke-width="0.75"/><line x1="1095.0" y1="391.7" x2="1113.6" y2="381.3" stroke="#7c7c7c" stroke-width="3.80"/><line x1="1094.9" y1="391.5" x2="1113.5" y2="381.1" stroke="#bebebe" stroke-width="2.74"/><line x1="1094.7" y1="391.2" x2="1113.3" y2="380.8" stroke="#e2e2e2" stroke-width="1.14"/><line x1="1064.4" y1="407.0" x2="1061.2" y2="407.0" stroke="#7c7c7c" stroke-width="3.80"/><line x1="1064.4" y1="406.8" x2="1061.2" y2="406.8" stroke="#bebebe" stroke-width="2.74"/><line x1="1064.4" y1="406.5" x2="1061.2" y2="406.5" stroke="#e2e2e2" stroke-width="1.14"/><line x1="1072.6" y1="410.5" x2="1075.4" y2="411.1" stroke="#7c7c7c" stroke-width="3.80"/><line x1="1072.6" y1="410.3" x2="1075.4" y2="410.9" stroke="#bebebe" stroke-width="2.74"/><line x1="1072.7" y1="410.0" x2="1075.5" y2="410.6" stroke="#e2e2e2" stroke-width="1.14"/><line x1="1040.4" y1="423.3" x2="1025.1" y2="437.5" stroke="#7c7c7c" stroke-width="3.80"/><line x1="1040.3" y1="423.2" x2="1025.0" y2="437.4" stroke="#bebebe" stroke-width="2.74"/><line x1="1040.0" y1="422.9" x2="1024.7" y2="437.1" stroke="#e2e2e2" stroke-width="1.14"/><circle cx="1127.5" cy="330.1" r="8.0" fill="url(#gP)"/><circle cx="1167.5" cy="275.4" r="5.75" fill="url(#gC)"/><circle cx="1196.9" cy="260.7" r="5.75" fill="url(#gC)"/><circle cx="1172.9" cy="309.6" r="4.8" fill="url(#gH)"/><circle cx="1222.8" cy="283.4" r="5.75" fill="url(#gC)"/><circle cx="1220.1" cy="319.4" r="5.75" fill="url(#gC)"/><circle cx="1191.5" cy="335.4" r="5.75" fill="url(#gC)"/><circle cx="1165.7" cy="312.8" r="5.75" fill="url(#gC)"/><circle cx="1150.2" cy="260.7" r="4.8" fill="url(#gH)"/><circle cx="1199.6" cy="235.9" r="4.8" fill="url(#gH)"/><circle cx="1243.1" cy="273.2" r="4.8" fill="url(#gH)"/><circle cx="1238.3" cy="334.9" r="4.8" fill="url(#gH)"/><circle cx="1189.7" cy="360.3" r="4.8" fill="url(#gH)"/><circle cx="1128.8" cy="307.4" r="5.75" fill="url(#gC)"/><circle cx="1106.7" cy="279.4" r="5.75" fill="url(#gC)"/><circle cx="1107.5" cy="262.0" r="5.75" fill="url(#gC)"/><circle cx="1134.2" cy="274.0" r="5.75" fill="url(#gC)"/><circle cx="1155.5" cy="302.1" r="5.75" fill="url(#gC)"/><circle cx="1154.2" cy="319.4" r="5.75" fill="url(#gC)"/><circle cx="1090.1" cy="270.6" r="4.8" fill="url(#gH)"/><circle cx="1092.8" cy="242.8" r="4.8" fill="url(#gH)"/><circle cx="1135.0" cy="262.0" r="4.8" fill="url(#gH)"/><circle cx="1168.9" cy="338.1" r="4.8" fill="url(#gH)"/><circle cx="1086.6" cy="320.2" r="5.75" fill="url(#gC)"/><circle cx="1087.4" cy="311.4" r="5.75" fill="url(#gC)"/><circle cx="1055.4" cy="303.4" r="5.75" fill="url(#gC)"/><circle cx="1023.4" cy="301.5" r="5.75" fill="url(#gC)"/><circle cx="1022.0" cy="311.4" r="5.75" fill="url(#gC)"/><circle cx="1054.1" cy="319.4" r="5.75" fill="url(#gC)"/><circle cx="1110.1" cy="313.3" r="4.8" fill="url(#gH)"/><circle cx="1056.2" cy="296.7" r="4.8" fill="url(#gH)"/><circle cx="1002.8" cy="294.6" r="4.8" fill="url(#gH)"/><circle cx="1000.1" cy="309.6" r="4.8" fill="url(#gH)"/><circle cx="1052.7" cy="326.1" r="4.8" fill="url(#gH)"/><circle cx="1132.7" cy="377.5" r="5.75" fill="url(#gC)"/><circle cx="1153.8" cy="383.2" r="4.8" fill="url(#gH)"/><circle cx="1135.2" cy="389.3" r="4.8" fill="url(#gH)"/><circle cx="1095.0" cy="391.7" r="5.75" fill="url(#gC)"/><circle cx="1098.8" cy="393.9" r="5.75" fill="url(#gC)"/><circle cx="1064.4" cy="407.0" r="5.75" fill="url(#gC)"/><circle cx="1072.6" cy="410.5" r="5.75" fill="url(#gC)"/><circle cx="1040.4" cy="423.3" r="5.75" fill="url(#gC)"/><circle cx="1043.1" cy="425.5" r="5.75" fill="url(#gC)"/><circle cx="1010.7" cy="439.5" r="6.6" fill="url(#gF)"/><circle cx="1113.6" cy="381.3" r="4.8" fill="url(#gH)"/><circle cx="1061.2" cy="407.0" r="4.8" fill="url(#gH)"/><circle cx="1075.4" cy="411.1" r="4.8" fill="url(#gH)"/><circle cx="1025.1" cy="437.5" r="4.8" fill="url(#gH)"/><circle cx="1036.0" cy="446.8" r="4.8" fill="url(#gH)"/><line x1="1339.5" y1="492.7" x2="1301.3" y2="510.0" stroke="#555555" stroke-width="4.30"/><line x1="1339.4" y1="492.5" x2="1301.2" y2="509.8" stroke="#727272" stroke-width="3.10"/><line x1="1339.3" y1="492.2" x2="1301.1" y2="509.5" stroke="#909090" stroke-width="1.29"/><line x1="1299.5" y1="547.4" x2="1270.1" y2="562.1" stroke="#7c7c7c" stroke-width="4.60"/><line x1="1299.4" y1="547.2" x2="1270.0" y2="561.9" stroke="#bebebe" stroke-width="3.31"/><line x1="1299.2" y1="546.8" x2="1269.8" y2="561.5" stroke="#e2e2e2" stroke-width="1.38"/><line x1="1270.1" y1="562.1" x2="1244.2" y2="539.4" stroke="#7c7c7c" stroke-width="4.60"/><line x1="1270.3" y1="561.9" x2="1244.4" y2="539.2" stroke="#bebebe" stroke-width="3.31"/><line x1="1270.5" y1="561.6" x2="1244.6" y2="538.9" stroke="#e2e2e2" stroke-width="1.38"/><line x1="1244.2" y1="539.4" x2="1246.9" y2="503.4" stroke="#7c7c7c" stroke-width="4.60"/><line x1="1244.0" y1="539.4" x2="1246.7" y2="503.4" stroke="#bebebe" stroke-width="3.31"/><line x1="1243.6" y1="539.4" x2="1246.3" y2="503.4" stroke="#e2e2e2" stroke-width="1.38"/><line x1="1246.9" y1="503.4" x2="1275.5" y2="487.4" stroke="#7c7c7c" stroke-width="4.60"/><line x1="1246.8" y1="503.2" x2="1275.4" y2="487.2" stroke="#bebebe" stroke-width="3.31"/><line x1="1246.6" y1="502.8" x2="1275.2" y2="486.8" stroke="#e2e2e2" stroke-width="1.38"/><line x1="1275.5" y1="487.4" x2="1301.3" y2="510.0" stroke="#7c7c7c" stroke-width="4.60"/><line x1="1275.7" y1="487.2" x2="1301.5" y2="509.8" stroke="#bebebe" stroke-width="3.31"/><line x1="1275.9" y1="486.9" x2="1301.7" y2="509.5" stroke="#e2e2e2" stroke-width="1.38"/><line x1="1301.3" y1="510.0" x2="1299.5" y2="547.4" stroke="#7c7c7c" stroke-width="4.60"/><line x1="1301.1" y1="510.0" x2="1299.3" y2="547.4" stroke="#bebebe" stroke-width="3.31"/><line x1="1300.7" y1="510.0" x2="1298.9" y2="547.4" stroke="#e2e2e2" stroke-width="1.38"/><line x1="1299.5" y1="547.4" x2="1316.8" y2="562.1" stroke="#7c7c7c" stroke-width="3.80"/><line x1="1299.6" y1="547.3" x2="1316.9" y2="562.0" stroke="#bebebe" stroke-width="2.74"/><line x1="1299.8" y1="547.0" x2="1317.1" y2="561.7" stroke="#e2e2e2" stroke-width="1.14"/><line x1="1270.1" y1="562.1" x2="1267.4" y2="586.9" stroke="#7c7c7c" stroke-width="3.80"/><line x1="1269.9" y1="562.1" x2="1267.2" y2="586.9" stroke="#bebebe" stroke-width="2.74"/><line x1="1269.6" y1="562.0" x2="1266.9" y2="586.8" stroke="#e2e2e2" stroke-width="1.14"/><line x1="1244.2" y1="539.4" x2="1223.9" y2="549.6" stroke="#7c7c7c" stroke-width="3.80"/><line x1="1244.1" y1="539.2" x2="1223.8" y2="549.4" stroke="#bebebe" stroke-width="2.74"/><line x1="1244.0" y1="538.9" x2="1223.7" y2="549.1" stroke="#e2e2e2" stroke-width="1.14"/><line x1="1246.9" y1="503.4" x2="1228.7" y2="487.9" stroke="#7c7c7c" stroke-width="3.80"/><line x1="1247.0" y1="503.3" x2="1228.8" y2="487.8" stroke="#bebebe" stroke-width="2.74"/><line x1="1247.2" y1="503.0" x2="1229.0" y2="487.5" stroke="#e2e2e2" stroke-width="1.14"/><line x1="1275.5" y1="487.4" x2="1277.3" y2="462.5" stroke="#7c7c7c" stroke-width="3.80"/><line x1="1275.3" y1="487.4" x2="1277.1" y2="462.5" stroke="#bebebe" stroke-width="2.74"/><line x1="1275.0" y1="487.4" x2="1276.8" y2="462.5" stroke="#e2e2e2" stroke-width="1.14"/><line x1="1339.5" y1="492.7" x2="1338.2" y2="515.4" stroke="#7c7c7c" stroke-width="2.50"/><line x1="1339.4" y1="492.7" x2="1338.1" y2="515.4" stroke="#bebebe" stroke-width="1.80"/><line x1="1339.2" y1="492.7" x2="1337.9" y2="515.4" stroke="#e2e2e2" stroke-width="0.75"/><line x1="1338.2" y1="515.4" x2="1360.3" y2="543.4" stroke="#7c7c7c" stroke-width="4.60"/><line x1="1338.4" y1="515.3" x2="1360.5" y2="543.3" stroke="#bebebe" stroke-width="3.31"/><line x1="1338.7" y1="515.0" x2="1360.8" y2="543.0" stroke="#e2e2e2" stroke-width="1.38"/><line x1="1360.3" y1="543.4" x2="1359.5" y2="560.8" stroke="#7c7c7c" stroke-width="4.60"/><line x1="1360.1" y1="543.4" x2="1359.3" y2="560.8" stroke="#bebebe" stroke-width="3.31"/><line x1="1359.7" y1="543.4" x2="1358.9" y2="560.8" stroke="#e2e2e2" stroke-width="1.38"/><line x1="1359.5" y1="560.8" x2="1332.8" y2="548.8" stroke="#7c7c7c" stroke-width="4.60"/><line x1="1359.6" y1="560.6" x2="1332.9" y2="548.6" stroke="#bebebe" stroke-width="3.31"/><line x1="1359.8" y1="560.2" x2="1333.1" y2="548.2" stroke="#e2e2e2" stroke-width="1.38"/><line x1="1332.8" y1="548.8" x2="1311.5" y2="520.7" stroke="#7c7c7c" stroke-width="4.60"/><line x1="1333.0" y1="548.7" x2="1311.7" y2="520.6" stroke="#bebebe" stroke-width="3.31"/><line x1="1333.3" y1="548.4" x2="1312.0" y2="520.3" stroke="#e2e2e2" stroke-width="1.38"/><line x1="1311.5" y1="520.7" x2="1312.8" y2="503.4" stroke="#7c7c7c" stroke-width="4.60"/><line x1="1311.3" y1="520.7" x2="1312.6" y2="503.4" stroke="#bebebe" stroke-width="3.31"/><line x1="1310.9" y1="520.7" x2="1312.2" y2="503.4" stroke="#e2e2e2" stroke-width="1.38"/><line x1="1312.8" y1="503.4" x2="1338.2" y2="515.4" stroke="#7c7c7c" stroke-width="4.60"/><line x1="1312.9" y1="503.2" x2="1338.3" y2="515.2" stroke="#bebebe" stroke-width="3.31"/><line x1="1313.1" y1="502.8" x2="1338.5" y2="514.8" stroke="#e2e2e2" stroke-width="1.38"/><line x1="1360.3" y1="543.4" x2="1376.9" y2="552.2" stroke="#7c7c7c" stroke-width="3.80"/><line x1="1360.4" y1="543.2" x2="1377.0" y2="552.0" stroke="#bebebe" stroke-width="2.74"/><line x1="1360.5" y1="542.9" x2="1377.1" y2="551.7" stroke="#e2e2e2" stroke-width="1.14"/><line x1="1359.5" y1="560.8" x2="1374.2" y2="580.0" stroke="#7c7c7c" stroke-width="3.80"/><line x1="1359.7" y1="560.7" x2="1374.4" y2="579.9" stroke="#bebebe" stroke-width="2.74"/><line x1="1359.9" y1="560.5" x2="1374.6" y2="579.7" stroke="#e2e2e2" stroke-width="1.14"/><line x1="1332.8" y1="548.8" x2="1332.0" y2="560.8" stroke="#7c7c7c" stroke-width="3.80"/><line x1="1332.6" y1="548.8" x2="1331.8" y2="560.8" stroke="#bebebe" stroke-width="2.74"/><line x1="1332.3" y1="548.8" x2="1331.5" y2="560.8" stroke="#e2e2e2" stroke-width="1.14"/><line x1="1311.5" y1="520.7" x2="1294.1" y2="513.2" stroke="#7c7c7c" stroke-width="3.80"/><line x1="1311.6" y1="520.5" x2="1294.2" y2="513.0" stroke="#bebebe" stroke-width="2.74"/><line x1="1311.7" y1="520.2" x2="1294.3" y2="512.7" stroke="#e2e2e2" stroke-width="1.14"/><line x1="1312.8" y1="503.4" x2="1298.1" y2="484.7" stroke="#7c7c7c" stroke-width="3.80"/><line x1="1312.9" y1="503.3" x2="1298.2" y2="484.6" stroke="#bebebe" stroke-width="2.74"/><line x1="1313.2" y1="503.1" x2="1298.5" y2="484.4" stroke="#e2e2e2" stroke-width="1.14"/><line x1="1339.5" y1="492.7" x2="1380.4" y2="502.6" stroke="#7c7c7c" stroke-width="4.30"/><line x1="1339.6" y1="492.5" x2="1380.5" y2="502.4" stroke="#bebebe" stroke-width="3.10"/><line x1="1339.6" y1="492.1" x2="1380.5" y2="502.0" stroke="#e2e2e2" stroke-width="1.29"/><line x1="1380.4" y1="502.6" x2="1379.6" y2="511.4" stroke="#7c7c7c" stroke-width="4.60"/><line x1="1380.2" y1="502.6" x2="1379.4" y2="511.4" stroke="#bebebe" stroke-width="3.31"/><line x1="1379.8" y1="502.5" x2="1379.0" y2="511.3" stroke="#e2e2e2" stroke-width="1.38"/><line x1="1379.6" y1="511.4" x2="1411.6" y2="519.4" stroke="#7c7c7c" stroke-width="4.60"/><line x1="1379.7" y1="511.2" x2="1411.7" y2="519.2" stroke="#bebebe" stroke-width="3.31"/><line x1="1379.8" y1="510.8" x2="1411.8" y2="518.8" stroke="#e2e2e2" stroke-width="1.38"/><line x1="1411.6" y1="519.4" x2="1443.6" y2="521.3" stroke="#7c7c7c" stroke-width="4.60"/><line x1="1411.6" y1="519.2" x2="1443.6" y2="521.1" stroke="#bebebe" stroke-width="3.31"/><line x1="1411.6" y1="518.8" x2="1443.6" y2="520.7" stroke="#e2e2e2" stroke-width="1.38"/><line x1="1443.6" y1="521.3" x2="1445.0" y2="511.4" stroke="#7c7c7c" stroke-width="4.60"/><line x1="1443.4" y1="521.3" x2="1444.8" y2="511.4" stroke="#bebebe" stroke-width="3.31"/><line x1="1443.0" y1="521.2" x2="1444.4" y2="511.3" stroke="#e2e2e2" stroke-width="1.38"/><line x1="1445.0" y1="511.4" x2="1412.9" y2="503.4" stroke="#7c7c7c" stroke-width="4.60"/><line x1="1445.1" y1="511.2" x2="1413.0" y2="503.2" stroke="#bebebe" stroke-width="3.31"/><line x1="1445.2" y1="510.8" x2="1413.1" y2="502.8" stroke="#e2e2e2" stroke-width="1.38"/><line x1="1412.9" y1="503.4" x2="1380.4" y2="502.6" stroke="#7c7c7c" stroke-width="4.60"/><line x1="1412.9" y1="503.2" x2="1380.4" y2="502.4" stroke="#bebebe" stroke-width="3.31"/><line x1="1412.9" y1="502.8" x2="1380.4" y2="502.0" stroke="#e2e2e2" stroke-width="1.38"/><line x1="1379.6" y1="511.4" x2="1356.9" y2="509.5" stroke="#7c7c7c" stroke-width="3.80"/><line x1="1379.6" y1="511.2" x2="1356.9" y2="509.3" stroke="#bebebe" stroke-width="2.74"/><line x1="1379.6" y1="510.9" x2="1356.9" y2="509.0" stroke="#e2e2e2" stroke-width="1.14"/><line x1="1411.6" y1="519.4" x2="1410.8" y2="526.1" stroke="#7c7c7c" stroke-width="3.80"/><line x1="1411.4" y1="519.4" x2="1410.6" y2="526.1" stroke="#bebebe" stroke-width="2.74"/><line x1="1411.1" y1="519.3" x2="1410.3" y2="526.0" stroke="#e2e2e2" stroke-width="1.14"/><line x1="1443.6" y1="521.3" x2="1464.2" y2="528.2" stroke="#7c7c7c" stroke-width="3.80"/><line x1="1443.7" y1="521.1" x2="1464.3" y2="528.0" stroke="#bebebe" stroke-width="2.74"/><line x1="1443.8" y1="520.8" x2="1464.4" y2="527.7" stroke="#e2e2e2" stroke-width="1.14"/><line x1="1445.0" y1="511.4" x2="1466.9" y2="513.2" stroke="#7c7c7c" stroke-width="3.80"/><line x1="1445.0" y1="511.2" x2="1466.9" y2="513.0" stroke="#bebebe" stroke-width="2.74"/><line x1="1445.0" y1="510.9" x2="1466.9" y2="512.7" stroke="#e2e2e2" stroke-width="1.14"/><line x1="1412.9" y1="503.4" x2="1414.3" y2="496.7" stroke="#7c7c7c" stroke-width="3.80"/><line x1="1412.7" y1="503.4" x2="1414.1" y2="496.7" stroke="#bebebe" stroke-width="2.74"/><line x1="1412.4" y1="503.3" x2="1413.8" y2="496.6" stroke="#e2e2e2" stroke-width="1.14"/><line x1="1339.5" y1="492.7" x2="1334.3" y2="445.3" stroke="#7c7c7c" stroke-width="2.50"/><line x1="1339.4" y1="492.7" x2="1334.2" y2="445.3" stroke="#bebebe" stroke-width="1.80"/><line x1="1339.2" y1="492.7" x2="1334.0" y2="445.3" stroke="#e2e2e2" stroke-width="0.75"/><line x1="1334.3" y1="445.3" x2="1313.2" y2="439.6" stroke="#7c7c7c" stroke-width="3.80"/><line x1="1334.3" y1="445.1" x2="1313.2" y2="439.4" stroke="#bebebe" stroke-width="2.74"/><line x1="1334.4" y1="444.8" x2="1313.3" y2="439.1" stroke="#e2e2e2" stroke-width="1.14"/><line x1="1334.3" y1="445.3" x2="1331.8" y2="433.5" stroke="#7c7c7c" stroke-width="3.80"/><line x1="1334.1" y1="445.3" x2="1331.6" y2="433.5" stroke="#bebebe" stroke-width="2.74"/><line x1="1333.8" y1="445.4" x2="1331.3" y2="433.6" stroke="#e2e2e2" stroke-width="1.14"/><line x1="1334.3" y1="445.3" x2="1368.2" y2="428.9" stroke="#7c7c7c" stroke-width="2.50"/><line x1="1334.2" y1="445.2" x2="1368.1" y2="428.8" stroke="#bebebe" stroke-width="1.80"/><line x1="1334.1" y1="445.0" x2="1368.0" y2="428.6" stroke="#e2e2e2" stroke-width="0.75"/><line x1="1372.0" y1="431.1" x2="1368.2" y2="428.9" stroke="#7c7c7c" stroke-width="4.60"/><line x1="1372.1" y1="430.9" x2="1368.3" y2="428.7" stroke="#bebebe" stroke-width="3.31"/><line x1="1372.3" y1="430.5" x2="1368.5" y2="428.3" stroke="#e2e2e2" stroke-width="1.38"/><line x1="1372.0" y1="431.1" x2="1402.6" y2="415.8" stroke="#7c7c7c" stroke-width="4.60"/><line x1="1371.9" y1="430.9" x2="1402.5" y2="415.6" stroke="#bebebe" stroke-width="3.31"/><line x1="1371.7" y1="430.5" x2="1402.3" y2="415.2" stroke="#e2e2e2" stroke-width="1.38"/><line x1="1368.2" y1="428.9" x2="1394.4" y2="412.3" stroke="#7c7c7c" stroke-width="4.60"/><line x1="1368.1" y1="428.7" x2="1394.3" y2="412.1" stroke="#bebebe" stroke-width="3.31"/><line x1="1367.9" y1="428.4" x2="1394.1" y2="411.8" stroke="#e2e2e2" stroke-width="1.38"/><line x1="1402.6" y1="415.8" x2="1426.6" y2="399.5" stroke="#7c7c7c" stroke-width="4.60"/><line x1="1402.5" y1="415.6" x2="1426.5" y2="399.3" stroke="#bebebe" stroke-width="3.31"/><line x1="1402.2" y1="415.3" x2="1426.2" y2="399.0" stroke="#e2e2e2" stroke-width="1.38"/><line x1="1394.4" y1="412.3" x2="1423.9" y2="397.3" stroke="#7c7c7c" stroke-width="4.60"/><line x1="1394.3" y1="412.1" x2="1423.8" y2="397.1" stroke="#bebebe" stroke-width="3.31"/><line x1="1394.1" y1="411.7" x2="1423.6" y2="396.7" stroke="#e2e2e2" stroke-width="1.38"/><line x1="1426.6" y1="399.5" x2="1423.9" y2="397.3" stroke="#7c7c7c" stroke-width="4.60"/><line x1="1426.7" y1="399.3" x2="1424.0" y2="397.1" stroke="#bebebe" stroke-width="3.31"/><line x1="1427.0" y1="399.0" x2="1424.3" y2="396.8" stroke="#e2e2e2" stroke-width="1.38"/><line x1="1426.6" y1="399.5" x2="1456.3" y2="383.3" stroke="#7c7c7c" stroke-width="2.50"/><line x1="1426.5" y1="399.4" x2="1456.2" y2="383.2" stroke="#bebebe" stroke-width="1.80"/><line x1="1426.4" y1="399.2" x2="1456.1" y2="383.0" stroke="#e2e2e2" stroke-width="0.75"/><line x1="1372.0" y1="431.1" x2="1353.4" y2="441.5" stroke="#7c7c7c" stroke-width="3.80"/><line x1="1371.9" y1="430.9" x2="1353.3" y2="441.3" stroke="#bebebe" stroke-width="2.74"/><line x1="1371.7" y1="430.6" x2="1353.1" y2="441.0" stroke="#e2e2e2" stroke-width="1.14"/><line x1="1402.6" y1="415.8" x2="1405.8" y2="415.8" stroke="#7c7c7c" stroke-width="3.80"/><line x1="1402.6" y1="415.6" x2="1405.8" y2="415.6" stroke="#bebebe" stroke-width="2.74"/><line x1="1402.6" y1="415.3" x2="1405.8" y2="415.3" stroke="#e2e2e2" stroke-width="1.14"/><line x1="1394.4" y1="412.3" x2="1391.6" y2="411.7" stroke="#7c7c7c" stroke-width="3.80"/><line x1="1394.4" y1="412.1" x2="1391.6" y2="411.5" stroke="#bebebe" stroke-width="2.74"/><line x1="1394.5" y1="411.8" x2="1391.7" y2="411.2" stroke="#e2e2e2" stroke-width="1.14"/><line x1="1426.6" y1="399.5" x2="1441.9" y2="385.3" stroke="#7c7c7c" stroke-width="3.80"/><line x1="1426.5" y1="399.4" x2="1441.8" y2="385.2" stroke="#bebebe" stroke-width="2.74"/><line x1="1426.2" y1="399.1" x2="1441.5" y2="384.9" stroke="#e2e2e2" stroke-width="1.14"/><circle cx="1339.5" cy="492.7" r="8.0" fill="url(#gP)"/><circle cx="1299.5" cy="547.4" r="5.75" fill="url(#gC)"/><circle cx="1270.1" cy="562.1" r="5.75" fill="url(#gC)"/><circle cx="1246.9" cy="503.4" r="5.75" fill="url(#gC)"/><circle cx="1275.5" cy="487.4" r="5.75" fill="url(#gC)"/><circle cx="1301.3" cy="510.0" r="5.75" fill="url(#gC)"/><circle cx="1316.8" cy="562.1" r="4.8" fill="url(#gH)"/><circle cx="1267.4" cy="586.9" r="4.8" fill="url(#gH)"/><circle cx="1223.9" cy="549.6" r="4.8" fill="url(#gH)"/><circle cx="1228.7" cy="487.9" r="4.8" fill="url(#gH)"/><circle cx="1277.3" cy="462.5" r="4.8" fill="url(#gH)"/><circle cx="1338.2" cy="515.4" r="5.75" fill="url(#gC)"/><circle cx="1360.3" cy="543.4" r="5.75" fill="url(#gC)"/><circle cx="1359.5" cy="560.8" r="5.75" fill="url(#gC)"/><circle cx="1332.8" cy="548.8" r="5.75" fill="url(#gC)"/><circle cx="1311.5" cy="520.7" r="5.75" fill="url(#gC)"/><circle cx="1312.8" cy="503.4" r="5.75" fill="url(#gC)"/><circle cx="1376.9" cy="552.2" r="4.8" fill="url(#gH)"/><circle cx="1374.2" cy="580.0" r="4.8" fill="url(#gH)"/><circle cx="1332.0" cy="560.8" r="4.8" fill="url(#gH)"/><circle cx="1244.2" cy="539.4" r="5.75" fill="url(#gC)"/><circle cx="1294.1" cy="513.2" r="4.8" fill="url(#gH)"/><circle cx="1298.1" cy="484.7" r="4.8" fill="url(#gH)"/><circle cx="1380.4" cy="502.6" r="5.75" fill="url(#gC)"/><circle cx="1379.6" cy="511.4" r="5.75" fill="url(#gC)"/><circle cx="1411.6" cy="519.4" r="5.75" fill="url(#gC)"/><circle cx="1443.6" cy="521.3" r="5.75" fill="url(#gC)"/><circle cx="1445.0" cy="511.4" r="5.75" fill="url(#gC)"/><circle cx="1412.9" cy="503.4" r="5.75" fill="url(#gC)"/><circle cx="1356.9" cy="509.5" r="4.8" fill="url(#gH)"/><circle cx="1410.8" cy="526.1" r="4.8" fill="url(#gH)"/><circle cx="1464.2" cy="528.2" r="4.8" fill="url(#gH)"/><circle cx="1466.9" cy="513.2" r="4.8" fill="url(#gH)"/><circle cx="1414.3" cy="496.7" r="4.8" fill="url(#gH)"/><circle cx="1334.3" cy="445.3" r="5.75" fill="url(#gC)"/><circle cx="1313.2" cy="439.6" r="4.8" fill="url(#gH)"/><circle cx="1331.8" cy="433.5" r="4.8" fill="url(#gH)"/><circle cx="1372.0" cy="431.1" r="5.75" fill="url(#gC)"/><circle cx="1368.2" cy="428.9" r="5.75" fill="url(#gC)"/><circle cx="1402.6" cy="415.8" r="5.75" fill="url(#gC)"/><circle cx="1394.4" cy="412.3" r="5.75" fill="url(#gC)"/><circle cx="1426.6" cy="399.5" r="5.75" fill="url(#gC)"/><circle cx="1423.9" cy="397.3" r="5.75" fill="url(#gC)"/><circle cx="1456.3" cy="383.3" r="6.6" fill="url(#gF)"/><circle cx="1353.4" cy="441.5" r="4.8" fill="url(#gH)"/><circle cx="1405.8" cy="415.8" r="4.8" fill="url(#gH)"/><circle cx="1391.6" cy="411.7" r="4.8" fill="url(#gH)"/><circle cx="1441.9" cy="385.3" r="4.8" fill="url(#gH)"/><circle cx="1431.0" cy="376.0" r="4.8" fill="url(#gH)"/><line x1="1583.2" y1="330.9" x2="1621.4" y2="313.6" stroke="#555555" stroke-width="4.30"/><line x1="1583.1" y1="330.7" x2="1621.3" y2="313.4" stroke="#727272" stroke-width="3.10"/><line x1="1583.0" y1="330.4" x2="1621.2" y2="313.1" stroke="#909090" stroke-width="1.29"/><line x1="1623.2" y1="276.2" x2="1652.6" y2="261.5" stroke="#7c7c7c" stroke-width="4.60"/><line x1="1623.1" y1="276.0" x2="1652.5" y2="261.3" stroke="#bebebe" stroke-width="3.31"/><line x1="1622.9" y1="275.6" x2="1652.3" y2="260.9" stroke="#e2e2e2" stroke-width="1.38"/><line x1="1652.6" y1="261.5" x2="1678.5" y2="284.2" stroke="#7c7c7c" stroke-width="4.60"/><line x1="1652.8" y1="261.3" x2="1678.7" y2="284.0" stroke="#bebebe" stroke-width="3.31"/><line x1="1653.0" y1="261.0" x2="1678.9" y2="283.7" stroke="#e2e2e2" stroke-width="1.38"/><line x1="1678.5" y1="284.2" x2="1675.8" y2="320.2" stroke="#7c7c7c" stroke-width="4.60"/><line x1="1678.3" y1="284.2" x2="1675.6" y2="320.2" stroke="#bebebe" stroke-width="3.31"/><line x1="1677.9" y1="284.2" x2="1675.2" y2="320.2" stroke="#e2e2e2" stroke-width="1.38"/><line x1="1675.8" y1="320.2" x2="1647.2" y2="336.2" stroke="#7c7c7c" stroke-width="4.60"/><line x1="1675.7" y1="320.0" x2="1647.1" y2="336.0" stroke="#bebebe" stroke-width="3.31"/><line x1="1675.5" y1="319.6" x2="1646.9" y2="335.6" stroke="#e2e2e2" stroke-width="1.38"/><line x1="1647.2" y1="336.2" x2="1621.4" y2="313.6" stroke="#7c7c7c" stroke-width="4.60"/><line x1="1647.4" y1="336.0" x2="1621.6" y2="313.4" stroke="#bebebe" stroke-width="3.31"/><line x1="1647.6" y1="335.7" x2="1621.8" y2="313.1" stroke="#e2e2e2" stroke-width="1.38"/><line x1="1621.4" y1="313.6" x2="1623.2" y2="276.2" stroke="#7c7c7c" stroke-width="4.60"/><line x1="1621.2" y1="313.6" x2="1623.0" y2="276.2" stroke="#bebebe" stroke-width="3.31"/><line x1="1620.8" y1="313.6" x2="1622.6" y2="276.2" stroke="#e2e2e2" stroke-width="1.38"/><line x1="1623.2" y1="276.2" x2="1605.9" y2="261.5" stroke="#7c7c7c" stroke-width="3.80"/><line x1="1623.3" y1="276.1" x2="1606.0" y2="261.4" stroke="#bebebe" stroke-width="2.74"/><line x1="1623.5" y1="275.8" x2="1606.2" y2="261.1" stroke="#e2e2e2" stroke-width="1.14"/><line x1="1652.6" y1="261.5" x2="1655.3" y2="236.7" stroke="#7c7c7c" stroke-width="3.80"/><line x1="1652.4" y1="261.5" x2="1655.1" y2="236.7" stroke="#bebebe" stroke-width="2.74"/><line x1="1652.1" y1="261.4" x2="1654.8" y2="236.6" stroke="#e2e2e2" stroke-width="1.14"/><line x1="1678.5" y1="284.2" x2="1698.8" y2="274.0" stroke="#7c7c7c" stroke-width="3.80"/><line x1="1678.4" y1="284.0" x2="1698.7" y2="273.8" stroke="#bebebe" stroke-width="2.74"/><line x1="1678.3" y1="283.7" x2="1698.6" y2="273.5" stroke="#e2e2e2" stroke-width="1.14"/><line x1="1675.8" y1="320.2" x2="1694.0" y2="335.7" stroke="#7c7c7c" stroke-width="3.80"/><line x1="1675.9" y1="320.1" x2="1694.1" y2="335.6" stroke="#bebebe" stroke-width="2.74"/><line x1="1676.1" y1="319.8" x2="1694.3" y2="335.3" stroke="#e2e2e2" stroke-width="1.14"/><line x1="1647.2" y1="336.2" x2="1645.4" y2="361.1" stroke="#7c7c7c" stroke-width="3.80"/><line x1="1647.0" y1="336.2" x2="1645.2" y2="361.1" stroke="#bebebe" stroke-width="2.74"/><line x1="1646.7" y1="336.2" x2="1644.9" y2="361.1" stroke="#e2e2e2" stroke-width="1.14"/><line x1="1583.2" y1="330.9" x2="1584.5" y2="308.2" stroke="#7c7c7c" stroke-width="2.50"/><line x1="1583.1" y1="330.9" x2="1584.4" y2="308.2" stroke="#bebebe" stroke-width="1.80"/><line x1="1582.9" y1="330.9" x2="1584.2" y2="308.2" stroke="#e2e2e2" stroke-width="0.75"/><line x1="1584.5" y1="308.2" x2="1562.4" y2="280.2" stroke="#7c7c7c" stroke-width="4.60"/><line x1="1584.7" y1="308.1" x2="1562.6" y2="280.1" stroke="#bebebe" stroke-width="3.31"/><line x1="1585.0" y1="307.8" x2="1562.9" y2="279.8" stroke="#e2e2e2" stroke-width="1.38"/><line x1="1562.4" y1="280.2" x2="1563.2" y2="262.8" stroke="#7c7c7c" stroke-width="4.60"/><line x1="1562.2" y1="280.2" x2="1563.0" y2="262.8" stroke="#bebebe" stroke-width="3.31"/><line x1="1561.8" y1="280.2" x2="1562.6" y2="262.8" stroke="#e2e2e2" stroke-width="1.38"/><line x1="1563.2" y1="262.8" x2="1589.9" y2="274.8" stroke="#7c7c7c" stroke-width="4.60"/><line x1="1563.3" y1="262.6" x2="1590.0" y2="274.6" stroke="#bebebe" stroke-width="3.31"/><line x1="1563.5" y1="262.2" x2="1590.2" y2="274.2" stroke="#e2e2e2" stroke-width="1.38"/><line x1="1589.9" y1="274.8" x2="1611.2" y2="302.9" stroke="#7c7c7c" stroke-width="4.60"/><line x1="1590.1" y1="274.7" x2="1611.4" y2="302.8" stroke="#bebebe" stroke-width="3.31"/><line x1="1590.4" y1="274.4" x2="1611.7" y2="302.5" stroke="#e2e2e2" stroke-width="1.38"/><line x1="1611.2" y1="302.9" x2="1609.9" y2="320.2" stroke="#7c7c7c" stroke-width="4.60"/><line x1="1611.0" y1="302.9" x2="1609.7" y2="320.2" stroke="#bebebe" stroke-width="3.31"/><line x1="1610.6" y1="302.9" x2="1609.3" y2="320.2" stroke="#e2e2e2" stroke-width="1.38"/><line x1="1609.9" y1="320.2" x2="1584.5" y2="308.2" stroke="#7c7c7c" stroke-width="4.60"/><line x1="1610.0" y1="320.0" x2="1584.6" y2="308.0" stroke="#bebebe" stroke-width="3.31"/><line x1="1610.2" y1="319.6" x2="1584.8" y2="307.6" stroke="#e2e2e2" stroke-width="1.38"/><line x1="1562.4" y1="280.2" x2="1545.8" y2="271.4" stroke="#7c7c7c" stroke-width="3.80"/><line x1="1562.5" y1="280.0" x2="1545.9" y2="271.2" stroke="#bebebe" stroke-width="2.74"/><line x1="1562.6" y1="279.7" x2="1546.0" y2="270.9" stroke="#e2e2e2" stroke-width="1.14"/><line x1="1563.2" y1="262.8" x2="1548.5" y2="243.6" stroke="#7c7c7c" stroke-width="3.80"/><line x1="1563.4" y1="262.7" x2="1548.7" y2="243.5" stroke="#bebebe" stroke-width="2.74"/><line x1="1563.6" y1="262.5" x2="1548.9" y2="243.3" stroke="#e2e2e2" stroke-width="1.14"/><line x1="1589.9" y1="274.8" x2="1590.7" y2="262.8" stroke="#7c7c7c" stroke-width="3.80"/><line x1="1589.7" y1="274.8" x2="1590.5" y2="262.8" stroke="#bebebe" stroke-width="2.74"/><line x1="1589.4" y1="274.8" x2="1590.2" y2="262.8" stroke="#e2e2e2" stroke-width="1.14"/><line x1="1611.2" y1="302.9" x2="1628.6" y2="310.4" stroke="#7c7c7c" stroke-width="3.80"/><line x1="1611.3" y1="302.7" x2="1628.7" y2="310.2" stroke="#bebebe" stroke-width="2.74"/><line x1="1611.4" y1="302.4" x2="1628.8" y2="309.9" stroke="#e2e2e2" stroke-width="1.14"/><line x1="1609.9" y1="320.2" x2="1624.6" y2="338.9" stroke="#7c7c7c" stroke-width="3.80"/><line x1="1610.0" y1="320.1" x2="1624.7" y2="338.8" stroke="#bebebe" stroke-width="2.74"/><line x1="1610.3" y1="319.9" x2="1625.0" y2="338.6" stroke="#e2e2e2" stroke-width="1.14"/><line x1="1583.2" y1="330.9" x2="1542.3" y2="321.0" stroke="#7c7c7c" stroke-width="4.30"/><line x1="1583.3" y1="330.7" x2="1542.4" y2="320.8" stroke="#bebebe" stroke-width="3.10"/><line x1="1583.3" y1="330.3" x2="1542.4" y2="320.4" stroke="#e2e2e2" stroke-width="1.29"/><line x1="1542.3" y1="321.0" x2="1543.1" y2="312.2" stroke="#7c7c7c" stroke-width="4.60"/><line x1="1542.1" y1="321.0" x2="1542.9" y2="312.2" stroke="#bebebe" stroke-width="3.31"/><line x1="1541.7" y1="320.9" x2="1542.5" y2="312.1" stroke="#e2e2e2" stroke-width="1.38"/><line x1="1543.1" y1="312.2" x2="1511.1" y2="304.2" stroke="#7c7c7c" stroke-width="4.60"/><line x1="1543.2" y1="312.0" x2="1511.2" y2="304.0" stroke="#bebebe" stroke-width="3.31"/><line x1="1543.3" y1="311.6" x2="1511.3" y2="303.6" stroke="#e2e2e2" stroke-width="1.38"/><line x1="1511.1" y1="304.2" x2="1479.1" y2="302.3" stroke="#7c7c7c" stroke-width="4.60"/><line x1="1511.1" y1="304.0" x2="1479.1" y2="302.1" stroke="#bebebe" stroke-width="3.31"/><line x1="1511.1" y1="303.6" x2="1479.1" y2="301.7" stroke="#e2e2e2" stroke-width="1.38"/><line x1="1479.1" y1="302.3" x2="1477.7" y2="312.2" stroke="#7c7c7c" stroke-width="4.60"/><line x1="1478.9" y1="302.3" x2="1477.5" y2="312.2" stroke="#bebebe" stroke-width="3.31"/><line x1="1478.5" y1="302.2" x2="1477.1" y2="312.1" stroke="#e2e2e2" stroke-width="1.38"/><line x1="1477.7" y1="312.2" x2="1509.8" y2="320.2" stroke="#7c7c7c" stroke-width="4.60"/><line x1="1477.8" y1="312.0" x2="1509.9" y2="320.0" stroke="#bebebe" stroke-width="3.31"/><line x1="1477.9" y1="311.6" x2="1510.0" y2="319.6" stroke="#e2e2e2" stroke-width="1.38"/><line x1="1509.8" y1="320.2" x2="1542.3" y2="321.0" stroke="#7c7c7c" stroke-width="4.60"/><line x1="1509.8" y1="320.0" x2="1542.3" y2="320.8" stroke="#bebebe" stroke-width="3.31"/><line x1="1509.8" y1="319.6" x2="1542.3" y2="320.4" stroke="#e2e2e2" stroke-width="1.38"/><line x1="1543.1" y1="312.2" x2="1565.8" y2="314.1" stroke="#7c7c7c" stroke-width="3.80"/><line x1="1543.1" y1="312.0" x2="1565.8" y2="313.9" stroke="#bebebe" stroke-width="2.74"/><line x1="1543.1" y1="311.7" x2="1565.8" y2="313.6" stroke="#e2e2e2" stroke-width="1.14"/><line x1="1511.1" y1="304.2" x2="1511.9" y2="297.5" stroke="#7c7c7c" stroke-width="3.80"/><line x1="1510.9" y1="304.2" x2="1511.7" y2="297.5" stroke="#bebebe" stroke-width="2.74"/><line x1="1510.6" y1="304.1" x2="1511.4" y2="297.4" stroke="#e2e2e2" stroke-width="1.14"/><line x1="1479.1" y1="302.3" x2="1458.5" y2="295.4" stroke="#7c7c7c" stroke-width="3.80"/><line x1="1479.2" y1="302.1" x2="1458.6" y2="295.2" stroke="#bebebe" stroke-width="2.74"/><line x1="1479.3" y1="301.8" x2="1458.7" y2="294.9" stroke="#e2e2e2" stroke-width="1.14"/><line x1="1477.7" y1="312.2" x2="1455.8" y2="310.4" stroke="#7c7c7c" stroke-width="3.80"/><line x1="1477.7" y1="312.0" x2="1455.8" y2="310.2" stroke="#bebebe" stroke-width="2.74"/><line x1="1477.7" y1="311.7" x2="1455.8" y2="309.9" stroke="#e2e2e2" stroke-width="1.14"/><line x1="1509.8" y1="320.2" x2="1508.4" y2="326.9" stroke="#7c7c7c" stroke-width="3.80"/><line x1="1509.6" y1="320.2" x2="1508.2" y2="326.9" stroke="#bebebe" stroke-width="2.74"/><line x1="1509.3" y1="320.1" x2="1507.9" y2="326.8" stroke="#e2e2e2" stroke-width="1.14"/><line x1="1583.2" y1="330.9" x2="1588.4" y2="378.3" stroke="#7c7c7c" stroke-width="2.50"/><line x1="1583.1" y1="330.9" x2="1588.3" y2="378.3" stroke="#bebebe" stroke-width="1.80"/><line x1="1582.9" y1="330.9" x2="1588.1" y2="378.3" stroke="#e2e2e2" stroke-width="0.75"/><line x1="1588.4" y1="378.3" x2="1609.5" y2="384.0" stroke="#7c7c7c" stroke-width="3.80"/><line x1="1588.4" y1="378.1" x2="1609.5" y2="383.8" stroke="#bebebe" stroke-width="2.74"/><line x1="1588.5" y1="377.8" x2="1609.6" y2="383.5" stroke="#e2e2e2" stroke-width="1.14"/><line x1="1588.4" y1="378.3" x2="1590.9" y2="390.1" stroke="#7c7c7c" stroke-width="3.80"/><line x1="1588.2" y1="378.3" x2="1590.7" y2="390.1" stroke="#bebebe" stroke-width="2.74"/><line x1="1587.9" y1="378.4" x2="1590.4" y2="390.2" stroke="#e2e2e2" stroke-width="1.14"/><line x1="1588.4" y1="378.3" x2="1554.5" y2="394.7" stroke="#7c7c7c" stroke-width="2.50"/><line x1="1588.3" y1="378.2" x2="1554.4" y2="394.6" stroke="#bebebe" stroke-width="1.80"/><line x1="1588.2" y1="378.0" x2="1554.3" y2="394.4" stroke="#e2e2e2" stroke-width="0.75"/><line x1="1550.7" y1="392.5" x2="1554.5" y2="394.7" stroke="#7c7c7c" stroke-width="4.60"/><line x1="1550.8" y1="392.3" x2="1554.6" y2="394.5" stroke="#bebebe" stroke-width="3.31"/><line x1="1551.0" y1="391.9" x2="1554.8" y2="394.1" stroke="#e2e2e2" stroke-width="1.38"/><line x1="1550.7" y1="392.5" x2="1520.1" y2="407.8" stroke="#7c7c7c" stroke-width="4.60"/><line x1="1550.6" y1="392.3" x2="1520.0" y2="407.6" stroke="#bebebe" stroke-width="3.31"/><line x1="1550.4" y1="391.9" x2="1519.8" y2="407.2" stroke="#e2e2e2" stroke-width="1.38"/><line x1="1554.5" y1="394.7" x2="1528.3" y2="411.3" stroke="#7c7c7c" stroke-width="4.60"/><line x1="1554.4" y1="394.5" x2="1528.2" y2="411.1" stroke="#bebebe" stroke-width="3.31"/><line x1="1554.2" y1="394.2" x2="1528.0" y2="410.8" stroke="#e2e2e2" stroke-width="1.38"/><line x1="1520.1" y1="407.8" x2="1496.1" y2="424.1" stroke="#7c7c7c" stroke-width="4.60"/><line x1="1520.0" y1="407.6" x2="1496.0" y2="423.9" stroke="#bebebe" stroke-width="3.31"/><line x1="1519.7" y1="407.3" x2="1495.7" y2="423.6" stroke="#e2e2e2" stroke-width="1.38"/><line x1="1528.3" y1="411.3" x2="1498.8" y2="426.3" stroke="#7c7c7c" stroke-width="4.60"/><line x1="1528.2" y1="411.1" x2="1498.7" y2="426.1" stroke="#bebebe" stroke-width="3.31"/><line x1="1528.0" y1="410.7" x2="1498.5" y2="425.7" stroke="#e2e2e2" stroke-width="1.38"/><line x1="1496.1" y1="424.1" x2="1498.8" y2="426.3" stroke="#7c7c7c" stroke-width="4.60"/><line x1="1496.2" y1="423.9" x2="1498.9" y2="426.1" stroke="#bebebe" stroke-width="3.31"/><line x1="1496.5" y1="423.6" x2="1499.2" y2="425.8" stroke="#e2e2e2" stroke-width="1.38"/><line x1="1496.1" y1="424.1" x2="1466.4" y2="440.3" stroke="#7c7c7c" stroke-width="2.50"/><line x1="1496.0" y1="424.0" x2="1466.3" y2="440.2" stroke="#bebebe" stroke-width="1.80"/><line x1="1495.9" y1="423.8" x2="1466.2" y2="440.0" stroke="#e2e2e2" stroke-width="0.75"/><line x1="1550.7" y1="392.5" x2="1569.3" y2="382.1" stroke="#7c7c7c" stroke-width="3.80"/><line x1="1550.6" y1="392.3" x2="1569.2" y2="381.9" stroke="#bebebe" stroke-width="2.74"/><line x1="1550.4" y1="392.0" x2="1569.0" y2="381.6" stroke="#e2e2e2" stroke-width="1.14"/><line x1="1520.1" y1="407.8" x2="1516.9" y2="407.8" stroke="#7c7c7c" stroke-width="3.80"/><line x1="1520.1" y1="407.6" x2="1516.9" y2="407.6" stroke="#bebebe" stroke-width="2.74"/><line x1="1520.1" y1="407.3" x2="1516.9" y2="407.3" stroke="#e2e2e2" stroke-width="1.14"/><line x1="1528.3" y1="411.3" x2="1531.1" y2="411.9" stroke="#7c7c7c" stroke-width="3.80"/><line x1="1528.3" y1="411.1" x2="1531.1" y2="411.7" stroke="#bebebe" stroke-width="2.74"/><line x1="1528.4" y1="410.8" x2="1531.2" y2="411.4" stroke="#e2e2e2" stroke-width="1.14"/><line x1="1496.1" y1="424.1" x2="1480.8" y2="438.3" stroke="#7c7c7c" stroke-width="3.80"/><line x1="1496.0" y1="424.0" x2="1480.7" y2="438.2" stroke="#bebebe" stroke-width="2.74"/><line x1="1495.7" y1="423.7" x2="1480.4" y2="437.9" stroke="#e2e2e2" stroke-width="1.14"/><circle cx="1583.2" cy="330.9" r="8.0" fill="url(#gP)"/><circle cx="1623.2" cy="276.2" r="5.75" fill="url(#gC)"/><circle cx="1652.6" cy="261.5" r="5.75" fill="url(#gC)"/><circle cx="1628.6" cy="310.4" r="4.8" fill="url(#gH)"/><circle cx="1678.5" cy="284.2" r="5.75" fill="url(#gC)"/><circle cx="1675.8" cy="320.2" r="5.75" fill="url(#gC)"/><circle cx="1647.2" cy="336.2" r="5.75" fill="url(#gC)"/><circle cx="1621.4" cy="313.6" r="5.75" fill="url(#gC)"/><circle cx="1605.9" cy="261.5" r="4.8" fill="url(#gH)"/><circle cx="1655.3" cy="236.7" r="4.8" fill="url(#gH)"/><circle cx="1698.8" cy="274.0" r="4.8" fill="url(#gH)"/><circle cx="1694.0" cy="335.7" r="4.8" fill="url(#gH)"/><circle cx="1645.4" cy="361.1" r="4.8" fill="url(#gH)"/><circle cx="1584.5" cy="308.2" r="5.75" fill="url(#gC)"/><circle cx="1562.4" cy="280.2" r="5.75" fill="url(#gC)"/><circle cx="1563.2" cy="262.8" r="5.75" fill="url(#gC)"/><circle cx="1589.9" cy="274.8" r="5.75" fill="url(#gC)"/><circle cx="1611.2" cy="302.9" r="5.75" fill="url(#gC)"/><circle cx="1609.9" cy="320.2" r="5.75" fill="url(#gC)"/><circle cx="1545.8" cy="271.4" r="4.8" fill="url(#gH)"/><circle cx="1548.5" cy="243.6" r="4.8" fill="url(#gH)"/><circle cx="1590.7" cy="262.8" r="4.8" fill="url(#gH)"/><circle cx="1624.6" cy="338.9" r="4.8" fill="url(#gH)"/><circle cx="1542.3" cy="321.0" r="5.75" fill="url(#gC)"/><circle cx="1543.1" cy="312.2" r="5.75" fill="url(#gC)"/><circle cx="1511.1" cy="304.2" r="5.75" fill="url(#gC)"/><circle cx="1479.1" cy="302.3" r="5.75" fill="url(#gC)"/><circle cx="1477.7" cy="312.2" r="5.75" fill="url(#gC)"/><circle cx="1509.8" cy="320.2" r="5.75" fill="url(#gC)"/><circle cx="1565.8" cy="314.1" r="4.8" fill="url(#gH)"/><circle cx="1511.9" cy="297.5" r="4.8" fill="url(#gH)"/><circle cx="1458.5" cy="295.4" r="4.8" fill="url(#gH)"/><circle cx="1455.8" cy="310.4" r="4.8" fill="url(#gH)"/><circle cx="1508.4" cy="326.9" r="4.8" fill="url(#gH)"/><circle cx="1588.4" cy="378.3" r="5.75" fill="url(#gC)"/><circle cx="1609.5" cy="384.0" r="4.8" fill="url(#gH)"/><circle cx="1590.9" cy="390.1" r="4.8" fill="url(#gH)"/><circle cx="1550.7" cy="392.5" r="5.75" fill="url(#gC)"/><circle cx="1554.5" cy="394.7" r="5.75" fill="url(#gC)"/><circle cx="1520.1" cy="407.8" r="5.75" fill="url(#gC)"/><circle cx="1528.3" cy="411.3" r="5.75" fill="url(#gC)"/><circle cx="1496.1" cy="424.1" r="5.75" fill="url(#gC)"/><circle cx="1498.8" cy="426.3" r="5.75" fill="url(#gC)"/><circle cx="1466.4" cy="440.3" r="6.6" fill="url(#gF)"/><circle cx="1569.3" cy="382.1" r="4.8" fill="url(#gH)"/><circle cx="1516.9" cy="407.8" r="4.8" fill="url(#gH)"/><circle cx="1531.1" cy="411.9" r="4.8" fill="url(#gH)"/><circle cx="1480.8" cy="438.3" r="4.8" fill="url(#gH)"/><circle cx="1491.7" cy="447.6" r="4.8" fill="url(#gH)"/><line x1="1795.2" y1="493.5" x2="1757.0" y2="510.8" stroke="#555555" stroke-width="4.30"/><line x1="1795.1" y1="493.3" x2="1756.9" y2="510.6" stroke="#727272" stroke-width="3.10"/><line x1="1795.0" y1="493.0" x2="1756.8" y2="510.3" stroke="#909090" stroke-width="1.29"/><line x1="1755.2" y1="548.2" x2="1725.8" y2="562.9" stroke="#7c7c7c" stroke-width="4.60"/><line x1="1755.1" y1="548.0" x2="1725.7" y2="562.7" stroke="#bebebe" stroke-width="3.31"/><line x1="1754.9" y1="547.6" x2="1725.5" y2="562.3" stroke="#e2e2e2" stroke-width="1.38"/><line x1="1725.8" y1="562.9" x2="1699.9" y2="540.2" stroke="#7c7c7c" stroke-width="4.60"/><line x1="1726.0" y1="562.7" x2="1700.1" y2="540.0" stroke="#bebebe" stroke-width="3.31"/><line x1="1726.2" y1="562.4" x2="1700.3" y2="539.7" stroke="#e2e2e2" stroke-width="1.38"/><line x1="1699.9" y1="540.2" x2="1702.6" y2="504.2" stroke="#7c7c7c" stroke-width="4.60"/><line x1="1699.7" y1="540.2" x2="1702.4" y2="504.2" stroke="#bebebe" stroke-width="3.31"/><line x1="1699.3" y1="540.2" x2="1702.0" y2="504.2" stroke="#e2e2e2" stroke-width="1.38"/><line x1="1702.6" y1="504.2" x2="1731.2" y2="488.2" stroke="#7c7c7c" stroke-width="4.60"/><line x1="1702.5" y1="504.0" x2="1731.1" y2="488.0" stroke="#bebebe" stroke-width="3.31"/><line x1="1702.3" y1="503.6" x2="1730.9" y2="487.6" stroke="#e2e2e2" stroke-width="1.38"/><line x1="1731.2" y1="488.2" x2="1757.0" y2="510.8" stroke="#7c7c7c" stroke-width="4.60"/><line x1="1731.4" y1="488.0" x2="1757.2" y2="510.6" stroke="#bebebe" stroke-width="3.31"/><line x1="1731.6" y1="487.7" x2="1757.4" y2="510.3" stroke="#e2e2e2" stroke-width="1.38"/><line x1="1757.0" y1="510.8" x2="1755.2" y2="548.2" stroke="#7c7c7c" stroke-width="4.60"/><line x1="1756.8" y1="510.8" x2="1755.0" y2="548.2" stroke="#bebebe" stroke-width="3.31"/><line x1="1756.4" y1="510.8" x2="1754.6" y2="548.2" stroke="#e2e2e2" stroke-width="1.38"/><line x1="1755.2" y1="548.2" x2="1772.5" y2="562.9" stroke="#7c7c7c" stroke-width="3.80"/><line x1="1755.3" y1="548.1" x2="1772.6" y2="562.8" stroke="#bebebe" stroke-width="2.74"/><line x1="1755.5" y1="547.8" x2="1772.8" y2="562.5" stroke="#e2e2e2" stroke-width="1.14"/><line x1="1725.8" y1="562.9" x2="1723.1" y2="587.7" stroke="#7c7c7c" stroke-width="3.80"/><line x1="1725.6" y1="562.9" x2="1722.9" y2="587.7" stroke="#bebebe" stroke-width="2.74"/><line x1="1725.3" y1="562.8" x2="1722.6" y2="587.6" stroke="#e2e2e2" stroke-width="1.14"/><line x1="1699.9" y1="540.2" x2="1679.6" y2="550.4" stroke="#7c7c7c" stroke-width="3.80"/><line x1="1699.8" y1="540.0" x2="1679.5" y2="550.2" stroke="#bebebe" stroke-width="2.74"/><line x1="1699.7" y1="539.7" x2="1679.4" y2="549.9" stroke="#e2e2e2" stroke-width="1.14"/><line x1="1702.6" y1="504.2" x2="1684.4" y2="488.7" stroke="#7c7c7c" stroke-width="3.80"/><line x1="1702.7" y1="504.1" x2="1684.5" y2="488.6" stroke="#bebebe" stroke-width="2.74"/><line x1="1702.9" y1="503.8" x2="1684.7" y2="488.3" stroke="#e2e2e2" stroke-width="1.14"/><line x1="1731.2" y1="488.2" x2="1733.0" y2="463.3" stroke="#7c7c7c" stroke-width="3.80"/><line x1="1731.0" y1="488.2" x2="1732.8" y2="463.3" stroke="#bebebe" stroke-width="2.74"/><line x1="1730.7" y1="488.2" x2="1732.5" y2="463.3" stroke="#e2e2e2" stroke-width="1.14"/><line x1="1795.2" y1="493.5" x2="1793.9" y2="516.2" stroke="#7c7c7c" stroke-width="2.50"/><line x1="1795.1" y1="493.5" x2="1793.8" y2="516.2" stroke="#bebebe" stroke-width="1.80"/><line x1="1794.9" y1="493.5" x2="1793.6" y2="516.2" stroke="#e2e2e2" stroke-width="0.75"/><line x1="1793.9" y1="516.2" x2="1816.0" y2="544.2" stroke="#7c7c7c" stroke-width="4.60"/><line x1="1794.1" y1="516.1" x2="1816.2" y2="544.1" stroke="#bebebe" stroke-width="3.31"/><line x1="1794.4" y1="515.8" x2="1816.5" y2="543.8" stroke="#e2e2e2" stroke-width="1.38"/><line x1="1816.0" y1="544.2" x2="1815.2" y2="561.6" stroke="#7c7c7c" stroke-width="4.60"/><line x1="1815.8" y1="544.2" x2="1815.0" y2="561.6" stroke="#bebebe" stroke-width="3.31"/><line x1="1815.4" y1="544.2" x2="1814.6" y2="561.6" stroke="#e2e2e2" stroke-width="1.38"/><line x1="1815.2" y1="561.6" x2="1788.5" y2="549.6" stroke="#7c7c7c" stroke-width="4.60"/><line x1="1815.3" y1="561.4" x2="1788.6" y2="549.4" stroke="#bebebe" stroke-width="3.31"/><line x1="1815.5" y1="561.0" x2="1788.8" y2="549.0" stroke="#e2e2e2" stroke-width="1.38"/><line x1="1788.5" y1="549.6" x2="1767.2" y2="521.5" stroke="#7c7c7c" stroke-width="4.60"/><line x1="1788.7" y1="549.5" x2="1767.4" y2="521.4" stroke="#bebebe" stroke-width="3.31"/><line x1="1789.0" y1="549.2" x2="1767.7" y2="521.1" stroke="#e2e2e2" stroke-width="1.38"/><line x1="1767.2" y1="521.5" x2="1768.5" y2="504.2" stroke="#7c7c7c" stroke-width="4.60"/><line x1="1767.0" y1="521.5" x2="1768.3" y2="504.2" stroke="#bebebe" stroke-width="3.31"/><line x1="1766.6" y1="521.5" x2="1767.9" y2="504.2" stroke="#e2e2e2" stroke-width="1.38"/><line x1="1768.5" y1="504.2" x2="1793.9" y2="516.2" stroke="#7c7c7c" stroke-width="4.60"/><line x1="1768.6" y1="504.0" x2="1794.0" y2="516.0" stroke="#bebebe" stroke-width="3.31"/><line x1="1768.8" y1="503.6" x2="1794.2" y2="515.6" stroke="#e2e2e2" stroke-width="1.38"/><line x1="1816.0" y1="544.2" x2="1832.6" y2="553.0" stroke="#7c7c7c" stroke-width="3.80"/><line x1="1816.1" y1="544.0" x2="1832.7" y2="552.8" stroke="#bebebe" stroke-width="2.74"/><line x1="1816.2" y1="543.7" x2="1832.8" y2="552.5" stroke="#e2e2e2" stroke-width="1.14"/><line x1="1815.2" y1="561.6" x2="1829.9" y2="580.8" stroke="#7c7c7c" stroke-width="3.80"/><line x1="1815.4" y1="561.5" x2="1830.1" y2="580.7" stroke="#bebebe" stroke-width="2.74"/><line x1="1815.6" y1="561.3" x2="1830.3" y2="580.5" stroke="#e2e2e2" stroke-width="1.14"/><line x1="1788.5" y1="549.6" x2="1787.7" y2="561.6" stroke="#7c7c7c" stroke-width="3.80"/><line x1="1788.3" y1="549.6" x2="1787.5" y2="561.6" stroke="#bebebe" stroke-width="2.74"/><line x1="1788.0" y1="549.6" x2="1787.2" y2="561.6" stroke="#e2e2e2" stroke-width="1.14"/><line x1="1767.2" y1="521.5" x2="1749.8" y2="514.0" stroke="#7c7c7c" stroke-width="3.80"/><line x1="1767.3" y1="521.3" x2="1749.9" y2="513.8" stroke="#bebebe" stroke-width="2.74"/><line x1="1767.4" y1="521.0" x2="1750.0" y2="513.5" stroke="#e2e2e2" stroke-width="1.14"/><line x1="1768.5" y1="504.2" x2="1753.8" y2="485.5" stroke="#7c7c7c" stroke-width="3.80"/><line x1="1768.6" y1="504.1" x2="1753.9" y2="485.4" stroke="#bebebe" stroke-width="2.74"/><line x1="1768.9" y1="503.9" x2="1754.2" y2="485.2" stroke="#e2e2e2" stroke-width="1.14"/><line x1="1795.2" y1="493.5" x2="1836.1" y2="503.4" stroke="#7c7c7c" stroke-width="4.30"/><line x1="1795.3" y1="493.3" x2="1836.2" y2="503.2" stroke="#bebebe" stroke-width="3.10"/><line x1="1795.3" y1="492.9" x2="1836.2" y2="502.8" stroke="#e2e2e2" stroke-width="1.29"/><line x1="1836.1" y1="503.4" x2="1835.3" y2="512.2" stroke="#7c7c7c" stroke-width="4.60"/><line x1="1835.9" y1="503.4" x2="1835.1" y2="512.2" stroke="#bebebe" stroke-width="3.31"/><line x1="1835.5" y1="503.3" x2="1834.7" y2="512.1" stroke="#e2e2e2" stroke-width="1.38"/><line x1="1835.3" y1="512.2" x2="1867.3" y2="520.2" stroke="#7c7c7c" stroke-width="4.60"/><line x1="1835.4" y1="512.0" x2="1867.4" y2="520.0" stroke="#bebebe" stroke-width="3.31"/><line x1="1835.5" y1="511.6" x2="1867.5" y2="519.6" stroke="#e2e2e2" stroke-width="1.38"/><line x1="1867.3" y1="520.2" x2="1899.3" y2="522.1" stroke="#7c7c7c" stroke-width="4.60"/><line x1="1867.3" y1="520.0" x2="1899.3" y2="521.9" stroke="#bebebe" stroke-width="3.31"/><line x1="1867.3" y1="519.6" x2="1899.3" y2="521.5" stroke="#e2e2e2" stroke-width="1.38"/><line x1="1899.3" y1="522.1" x2="1900.7" y2="512.2" stroke="#7c7c7c" stroke-width="4.60"/><line x1="1899.1" y1="522.1" x2="1900.5" y2="512.2" stroke="#bebebe" stroke-width="3.31"/><line x1="1898.7" y1="522.0" x2="1900.1" y2="512.1" stroke="#e2e2e2" stroke-width="1.38"/><line x1="1900.7" y1="512.2" x2="1868.6" y2="504.2" stroke="#7c7c7c" stroke-width="4.60"/><line x1="1900.8" y1="512.0" x2="1868.7" y2="504.0" stroke="#bebebe" stroke-width="3.31"/><line x1="1900.9" y1="511.6" x2="1868.8" y2="503.6" stroke="#e2e2e2" stroke-width="1.38"/><line x1="1868.6" y1="504.2" x2="1836.1" y2="503.4" stroke="#7c7c7c" stroke-width="4.60"/><line x1="1868.6" y1="504.0" x2="1836.1" y2="503.2" stroke="#bebebe" stroke-width="3.31"/><line x1="1868.6" y1="503.6" x2="1836.1" y2="502.8" stroke="#e2e2e2" stroke-width="1.38"/><line x1="1835.3" y1="512.2" x2="1812.6" y2="510.3" stroke="#7c7c7c" stroke-width="3.80"/><line x1="1835.3" y1="512.0" x2="1812.6" y2="510.1" stroke="#bebebe" stroke-width="2.74"/><line x1="1835.3" y1="511.7" x2="1812.6" y2="509.8" stroke="#e2e2e2" stroke-width="1.14"/><line x1="1867.3" y1="520.2" x2="1866.5" y2="526.9" stroke="#7c7c7c" stroke-width="3.80"/><line x1="1867.1" y1="520.2" x2="1866.3" y2="526.9" stroke="#bebebe" stroke-width="2.74"/><line x1="1866.8" y1="520.1" x2="1866.0" y2="526.8" stroke="#e2e2e2" stroke-width="1.14"/><line x1="1899.3" y1="522.1" x2="1919.9" y2="529.0" stroke="#7c7c7c" stroke-width="3.80"/><line x1="1899.4" y1="521.9" x2="1920.0" y2="528.8" stroke="#bebebe" stroke-width="2.74"/><line x1="1899.5" y1="521.6" x2="1920.1" y2="528.5" stroke="#e2e2e2" stroke-width="1.14"/><line x1="1900.7" y1="512.2" x2="1922.6" y2="514.0" stroke="#7c7c7c" stroke-width="3.80"/><line x1="1900.7" y1="512.0" x2="1922.6" y2="513.8" stroke="#bebebe" stroke-width="2.74"/><line x1="1900.7" y1="511.7" x2="1922.6" y2="513.5" stroke="#e2e2e2" stroke-width="1.14"/><line x1="1868.6" y1="504.2" x2="1870.0" y2="497.5" stroke="#7c7c7c" stroke-width="3.80"/><line x1="1868.4" y1="504.2" x2="1869.8" y2="497.5" stroke="#bebebe" stroke-width="2.74"/><line x1="1868.1" y1="504.1" x2="1869.5" y2="497.4" stroke="#e2e2e2" stroke-width="1.14"/><line x1="1795.2" y1="493.5" x2="1790.0" y2="446.1" stroke="#7c7c7c" stroke-width="2.50"/><line x1="1795.1" y1="493.5" x2="1789.9" y2="446.1" stroke="#bebebe" stroke-width="1.80"/><line x1="1794.9" y1="493.5" x2="1789.7" y2="446.1" stroke="#e2e2e2" stroke-width="0.75"/><line x1="1790.0" y1="446.1" x2="1768.9" y2="440.4" stroke="#7c7c7c" stroke-width="3.80"/><line x1="1790.0" y1="445.9" x2="1768.9" y2="440.2" stroke="#bebebe" stroke-width="2.74"/><line x1="1790.1" y1="445.6" x2="1769.0" y2="439.9" stroke="#e2e2e2" stroke-width="1.14"/><line x1="1790.0" y1="446.1" x2="1787.5" y2="434.3" stroke="#7c7c7c" stroke-width="3.80"/><line x1="1789.8" y1="446.1" x2="1787.3" y2="434.3" stroke="#bebebe" stroke-width="2.74"/><line x1="1789.5" y1="446.2" x2="1787.0" y2="434.4" stroke="#e2e2e2" stroke-width="1.14"/><line x1="1790.0" y1="446.1" x2="1823.9" y2="429.7" stroke="#7c7c7c" stroke-width="2.50"/><line x1="1789.9" y1="446.0" x2="1823.8" y2="429.6" stroke="#bebebe" stroke-width="1.80"/><line x1="1789.8" y1="445.8" x2="1823.7" y2="429.4" stroke="#e2e2e2" stroke-width="0.75"/><line x1="1827.7" y1="431.9" x2="1823.9" y2="429.7" stroke="#7c7c7c" stroke-width="4.60"/><line x1="1827.8" y1="431.7" x2="1824.0" y2="429.5" stroke="#bebebe" stroke-width="3.31"/><line x1="1828.0" y1="431.3" x2="1824.2" y2="429.1" stroke="#e2e2e2" stroke-width="1.38"/><line x1="1827.7" y1="431.9" x2="1858.3" y2="416.6" stroke="#7c7c7c" stroke-width="4.60"/><line x1="1827.6" y1="431.7" x2="1858.2" y2="416.4" stroke="#bebebe" stroke-width="3.31"/><line x1="1827.4" y1="431.3" x2="1858.0" y2="416.0" stroke="#e2e2e2" stroke-width="1.38"/><line x1="1823.9" y1="429.7" x2="1850.1" y2="413.1" stroke="#7c7c7c" stroke-width="4.60"/><line x1="1823.8" y1="429.5" x2="1850.0" y2="412.9" stroke="#bebebe" stroke-width="3.31"/><line x1="1823.6" y1="429.2" x2="1849.8" y2="412.6" stroke="#e2e2e2" stroke-width="1.38"/><line x1="1858.3" y1="416.6" x2="1882.3" y2="400.3" stroke="#7c7c7c" stroke-width="4.60"/><line x1="1858.2" y1="416.4" x2="1882.2" y2="400.1" stroke="#bebebe" stroke-width="3.31"/><line x1="1857.9" y1="416.1" x2="1881.9" y2="399.8" stroke="#e2e2e2" stroke-width="1.38"/><line x1="1850.1" y1="413.1" x2="1879.6" y2="398.1" stroke="#7c7c7c" stroke-width="4.60"/><line x1="1850.0" y1="412.9" x2="1879.5" y2="397.9" stroke="#bebebe" stroke-width="3.31"/><line x1="1849.8" y1="412.5" x2="1879.3" y2="397.5" stroke="#e2e2e2" stroke-width="1.38"/><line x1="1882.3" y1="400.3" x2="1879.6" y2="398.1" stroke="#7c7c7c" stroke-width="4.60"/><line x1="1882.4" y1="400.1" x2="1879.7" y2="397.9" stroke="#bebebe" stroke-width="3.31"/><line x1="1882.7" y1="399.8" x2="1880.0" y2="397.6" stroke="#e2e2e2" stroke-width="1.38"/><line x1="1882.3" y1="400.3" x2="1912.0" y2="384.1" stroke="#7c7c7c" stroke-width="2.50"/><line x1="1882.2" y1="400.2" x2="1911.9" y2="384.0" stroke="#bebebe" stroke-width="1.80"/><line x1="1882.1" y1="400.0" x2="1911.8" y2="383.8" stroke="#e2e2e2" stroke-width="0.75"/><line x1="1827.7" y1="431.9" x2="1809.1" y2="442.3" stroke="#7c7c7c" stroke-width="3.80"/><line x1="1827.6" y1="431.7" x2="1809.0" y2="442.1" stroke="#bebebe" stroke-width="2.74"/><line x1="1827.4" y1="431.4" x2="1808.8" y2="441.8" stroke="#e2e2e2" stroke-width="1.14"/><line x1="1858.3" y1="416.6" x2="1861.5" y2="416.6" stroke="#7c7c7c" stroke-width="3.80"/><line x1="1858.3" y1="416.4" x2="1861.5" y2="416.4" stroke="#bebebe" stroke-width="2.74"/><line x1="1858.3" y1="416.1" x2="1861.5" y2="416.1" stroke="#e2e2e2" stroke-width="1.14"/><line x1="1850.1" y1="413.1" x2="1847.3" y2="412.5" stroke="#7c7c7c" stroke-width="3.80"/><line x1="1850.1" y1="412.9" x2="1847.3" y2="412.3" stroke="#bebebe" stroke-width="2.74"/><line x1="1850.2" y1="412.6" x2="1847.4" y2="412.0" stroke="#e2e2e2" stroke-width="1.14"/><line x1="1882.3" y1="400.3" x2="1897.6" y2="386.1" stroke="#7c7c7c" stroke-width="3.80"/><line x1="1882.2" y1="400.2" x2="1897.5" y2="386.0" stroke="#bebebe" stroke-width="2.74"/><line x1="1881.9" y1="399.9" x2="1897.2" y2="385.7" stroke="#e2e2e2" stroke-width="1.14"/><circle cx="1795.2" cy="493.5" r="8.0" fill="url(#gP)"/><circle cx="1755.2" cy="548.2" r="5.75" fill="url(#gC)"/><circle cx="1725.8" cy="562.9" r="5.75" fill="url(#gC)"/><circle cx="1702.6" cy="504.2" r="5.75" fill="url(#gC)"/><circle cx="1731.2" cy="488.2" r="5.75" fill="url(#gC)"/><circle cx="1757.0" cy="510.8" r="5.75" fill="url(#gC)"/><circle cx="1772.5" cy="562.9" r="4.8" fill="url(#gH)"/><circle cx="1723.1" cy="587.7" r="4.8" fill="url(#gH)"/><circle cx="1679.6" cy="550.4" r="4.8" fill="url(#gH)"/><circle cx="1684.4" cy="488.7" r="4.8" fill="url(#gH)"/><circle cx="1733.0" cy="463.3" r="4.8" fill="url(#gH)"/><circle cx="1793.9" cy="516.2" r="5.75" fill="url(#gC)"/><circle cx="1816.0" cy="544.2" r="5.75" fill="url(#gC)"/><circle cx="1815.2" cy="561.6" r="5.75" fill="url(#gC)"/><circle cx="1788.5" cy="549.6" r="5.75" fill="url(#gC)"/><circle cx="1767.2" cy="521.5" r="5.75" fill="url(#gC)"/><circle cx="1768.5" cy="504.2" r="5.75" fill="url(#gC)"/><circle cx="1832.6" cy="553.0" r="4.8" fill="url(#gH)"/><circle cx="1829.9" cy="580.8" r="4.8" fill="url(#gH)"/><circle cx="1787.7" cy="561.6" r="4.8" fill="url(#gH)"/><circle cx="1699.9" cy="540.2" r="5.75" fill="url(#gC)"/><circle cx="1749.8" cy="514.0" r="4.8" fill="url(#gH)"/><circle cx="1753.8" cy="485.5" r="4.8" fill="url(#gH)"/><circle cx="1836.1" cy="503.4" r="5.75" fill="url(#gC)"/><circle cx="1835.3" cy="512.2" r="5.75" fill="url(#gC)"/><circle cx="1867.3" cy="520.2" r="5.75" fill="url(#gC)"/><circle cx="1899.3" cy="522.1" r="5.75" fill="url(#gC)"/><circle cx="1900.7" cy="512.2" r="5.75" fill="url(#gC)"/><circle cx="1868.6" cy="504.2" r="5.75" fill="url(#gC)"/><circle cx="1812.6" cy="510.3" r="4.8" fill="url(#gH)"/><circle cx="1866.5" cy="526.9" r="4.8" fill="url(#gH)"/><circle cx="1919.9" cy="529.0" r="4.8" fill="url(#gH)"/><circle cx="1922.6" cy="514.0" r="4.8" fill="url(#gH)"/><circle cx="1870.0" cy="497.5" r="4.8" fill="url(#gH)"/><circle cx="1790.0" cy="446.1" r="5.75" fill="url(#gC)"/><circle cx="1768.9" cy="440.4" r="4.8" fill="url(#gH)"/><circle cx="1787.5" cy="434.3" r="4.8" fill="url(#gH)"/><circle cx="1827.7" cy="431.9" r="5.75" fill="url(#gC)"/><circle cx="1823.9" cy="429.7" r="5.75" fill="url(#gC)"/><circle cx="1858.3" cy="416.6" r="5.75" fill="url(#gC)"/><circle cx="1850.1" cy="413.1" r="5.75" fill="url(#gC)"/><circle cx="1882.3" cy="400.3" r="5.75" fill="url(#gC)"/><circle cx="1879.6" cy="398.1" r="5.75" fill="url(#gC)"/><circle cx="1912.0" cy="384.1" r="6.6" fill="url(#gF)"/><circle cx="1809.1" cy="442.3" r="4.8" fill="url(#gH)"/><circle cx="1861.5" cy="416.6" r="4.8" fill="url(#gH)"/><circle cx="1847.3" cy="412.5" r="4.8" fill="url(#gH)"/><circle cx="1897.6" cy="386.1" r="4.8" fill="url(#gH)"/><circle cx="1886.7" cy="376.8" r="4.8" fill="url(#gH)"/><line x1="1371.1" y1="201.3" x2="1399.8" y2="202.7" stroke="#6a2046" stroke-width="3.80"/><line x1="1371.1" y1="201.1" x2="1399.8" y2="202.5" stroke="#a03a72" stroke-width="2.74"/><line x1="1371.1" y1="200.8" x2="1399.8" y2="202.1" stroke="#c8649a" stroke-width="1.14"/><line x1="1399.8" y1="202.7" x2="1428.5" y2="204.0" stroke="#0000a8" stroke-width="3.80"/><line x1="1399.8" y1="202.5" x2="1428.5" y2="203.8" stroke="#0000ee" stroke-width="2.74"/><line x1="1399.8" y1="202.1" x2="1428.5" y2="203.5" stroke="#2424ff" stroke-width="1.14"/><line x1="1428.5" y1="204.0" x2="1457.2" y2="198.6" stroke="#0000a8" stroke-width="3.80"/><line x1="1428.5" y1="203.8" x2="1457.2" y2="198.4" stroke="#0000ee" stroke-width="2.74"/><line x1="1428.4" y1="203.5" x2="1457.2" y2="198.1" stroke="#2424ff" stroke-width="1.14"/><line x1="1457.2" y1="198.6" x2="1486.0" y2="193.2" stroke="#6a2046" stroke-width="3.80"/><line x1="1457.2" y1="198.4" x2="1486.0" y2="193.0" stroke="#a03a72" stroke-width="2.74"/><line x1="1457.2" y1="198.1" x2="1485.9" y2="192.7" stroke="#c8649a" stroke-width="1.14"/><line x1="1428.5" y1="204.0" x2="1439.2" y2="212.1" stroke="#0000a8" stroke-width="3.80"/><line x1="1428.6" y1="203.8" x2="1439.4" y2="211.9" stroke="#0000ee" stroke-width="2.74"/><line x1="1428.8" y1="203.6" x2="1439.6" y2="211.7" stroke="#2424ff" stroke-width="1.14"/><line x1="1439.2" y1="212.1" x2="1450.0" y2="220.2" stroke="#6a2046" stroke-width="3.80"/><line x1="1439.4" y1="211.9" x2="1450.1" y2="220.0" stroke="#a03a72" stroke-width="2.74"/><line x1="1439.6" y1="211.7" x2="1450.3" y2="219.8" stroke="#c8649a" stroke-width="1.14"/><line x1="1486.0" y1="193.2" x2="1496.8" y2="201.0" stroke="#6a2046" stroke-width="3.80"/><line x1="1486.1" y1="193.0" x2="1496.9" y2="200.8" stroke="#a03a72" stroke-width="2.74"/><line x1="1486.3" y1="192.8" x2="1497.1" y2="200.6" stroke="#c8649a" stroke-width="1.14"/><line x1="1496.8" y1="201.0" x2="1507.6" y2="208.8" stroke="#0000a8" stroke-width="3.80"/><line x1="1496.9" y1="200.8" x2="1507.7" y2="208.6" stroke="#0000ee" stroke-width="2.74"/><line x1="1497.1" y1="200.6" x2="1507.9" y2="208.4" stroke="#2424ff" stroke-width="1.14"/><line x1="1450.0" y1="220.2" x2="1478.8" y2="214.5" stroke="#6a2046" stroke-width="3.80"/><line x1="1450.0" y1="220.0" x2="1478.8" y2="214.3" stroke="#a03a72" stroke-width="2.74"/><line x1="1449.9" y1="219.7" x2="1478.7" y2="214.0" stroke="#c8649a" stroke-width="1.14"/><line x1="1478.8" y1="214.5" x2="1507.6" y2="208.8" stroke="#0000a8" stroke-width="3.80"/><line x1="1478.8" y1="214.3" x2="1507.6" y2="208.6" stroke="#0000ee" stroke-width="2.74"/><line x1="1478.7" y1="214.0" x2="1507.5" y2="208.3" stroke="#2424ff" stroke-width="1.14"/><line x1="1507.6" y1="208.8" x2="1536.1" y2="210.3" stroke="#0000a8" stroke-width="3.80"/><line x1="1507.6" y1="208.6" x2="1536.1" y2="210.1" stroke="#0000ee" stroke-width="2.74"/><line x1="1507.6" y1="208.3" x2="1536.1" y2="209.8" stroke="#2424ff" stroke-width="1.14"/><line x1="1536.1" y1="210.3" x2="1564.6" y2="211.8" stroke="#6a2046" stroke-width="3.80"/><line x1="1536.1" y1="210.1" x2="1564.6" y2="211.6" stroke="#a03a72" stroke-width="2.74"/><line x1="1536.1" y1="209.8" x2="1564.6" y2="211.3" stroke="#c8649a" stroke-width="1.14"/><circle cx="1371.1" cy="201.3" r="7.7" fill="url(#gBr)"/><circle cx="1428.5" cy="204.0" r="7.2" fill="url(#gCu)"/><circle cx="1486.0" cy="193.2" r="7.7" fill="url(#gBr)"/><circle cx="1450.0" cy="220.2" r="7.7" fill="url(#gBr)"/><circle cx="1507.6" cy="208.8" r="7.2" fill="url(#gCu)"/><circle cx="1564.6" cy="211.8" r="7.7" fill="url(#gBr)"/><line x1="1361.8" y1="187.3" x2="1390.5" y2="188.7" stroke="#6a2046" stroke-width="3.80"/><line x1="1361.8" y1="187.1" x2="1390.5" y2="188.5" stroke="#a03a72" stroke-width="2.74"/><line x1="1361.8" y1="186.8" x2="1390.5" y2="188.1" stroke="#c8649a" stroke-width="1.14"/><line x1="1390.5" y1="188.7" x2="1419.2" y2="190.0" stroke="#0000a8" stroke-width="3.80"/><line x1="1390.5" y1="188.5" x2="1419.2" y2="189.8" stroke="#0000ee" stroke-width="2.74"/><line x1="1390.5" y1="188.1" x2="1419.2" y2="189.5" stroke="#2424ff" stroke-width="1.14"/><line x1="1419.2" y1="190.0" x2="1448.0" y2="184.6" stroke="#0000a8" stroke-width="3.80"/><line x1="1419.2" y1="189.8" x2="1447.9" y2="184.4" stroke="#0000ee" stroke-width="2.74"/><line x1="1419.1" y1="189.5" x2="1447.9" y2="184.1" stroke="#2424ff" stroke-width="1.14"/><line x1="1448.0" y1="184.6" x2="1476.7" y2="179.2" stroke="#6a2046" stroke-width="3.80"/><line x1="1447.9" y1="184.4" x2="1476.7" y2="179.0" stroke="#a03a72" stroke-width="2.74"/><line x1="1447.9" y1="184.1" x2="1476.6" y2="178.7" stroke="#c8649a" stroke-width="1.14"/><line x1="1419.2" y1="190.0" x2="1430.0" y2="198.1" stroke="#0000a8" stroke-width="3.80"/><line x1="1419.3" y1="189.8" x2="1430.1" y2="197.9" stroke="#0000ee" stroke-width="2.74"/><line x1="1419.5" y1="189.6" x2="1430.3" y2="197.7" stroke="#2424ff" stroke-width="1.14"/><line x1="1430.0" y1="198.1" x2="1440.7" y2="206.2" stroke="#6a2046" stroke-width="3.80"/><line x1="1430.1" y1="197.9" x2="1440.8" y2="206.0" stroke="#a03a72" stroke-width="2.74"/><line x1="1430.3" y1="197.7" x2="1441.0" y2="205.8" stroke="#c8649a" stroke-width="1.14"/><line x1="1476.7" y1="179.2" x2="1487.5" y2="187.0" stroke="#6a2046" stroke-width="3.80"/><line x1="1476.8" y1="179.0" x2="1487.6" y2="186.8" stroke="#a03a72" stroke-width="2.74"/><line x1="1477.0" y1="178.8" x2="1487.8" y2="186.6" stroke="#c8649a" stroke-width="1.14"/><line x1="1487.5" y1="187.0" x2="1498.3" y2="194.8" stroke="#0000a8" stroke-width="3.80"/><line x1="1487.6" y1="186.8" x2="1498.4" y2="194.6" stroke="#0000ee" stroke-width="2.74"/><line x1="1487.8" y1="186.6" x2="1498.6" y2="194.4" stroke="#2424ff" stroke-width="1.14"/><line x1="1440.7" y1="206.2" x2="1469.5" y2="200.5" stroke="#6a2046" stroke-width="3.80"/><line x1="1440.7" y1="206.0" x2="1469.5" y2="200.3" stroke="#a03a72" stroke-width="2.74"/><line x1="1440.6" y1="205.7" x2="1469.4" y2="200.0" stroke="#c8649a" stroke-width="1.14"/><line x1="1469.5" y1="200.5" x2="1498.3" y2="194.8" stroke="#0000a8" stroke-width="3.80"/><line x1="1469.5" y1="200.3" x2="1498.3" y2="194.6" stroke="#0000ee" stroke-width="2.74"/><line x1="1469.4" y1="200.0" x2="1498.2" y2="194.3" stroke="#2424ff" stroke-width="1.14"/><line x1="1498.3" y1="194.8" x2="1526.8" y2="196.3" stroke="#0000a8" stroke-width="3.80"/><line x1="1498.3" y1="194.6" x2="1526.8" y2="196.1" stroke="#0000ee" stroke-width="2.74"/><line x1="1498.3" y1="194.3" x2="1526.8" y2="195.8" stroke="#2424ff" stroke-width="1.14"/><line x1="1526.8" y1="196.3" x2="1555.3" y2="197.8" stroke="#6a2046" stroke-width="3.80"/><line x1="1526.8" y1="196.1" x2="1555.3" y2="197.6" stroke="#a03a72" stroke-width="2.74"/><line x1="1526.8" y1="195.8" x2="1555.3" y2="197.3" stroke="#c8649a" stroke-width="1.14"/><circle cx="1361.8" cy="187.3" r="7.7" fill="url(#gBr)"/><circle cx="1419.2" cy="190.0" r="7.2" fill="url(#gCu)"/><circle cx="1476.7" cy="179.2" r="7.7" fill="url(#gBr)"/><circle cx="1440.7" cy="206.2" r="7.7" fill="url(#gBr)"/><circle cx="1498.3" cy="194.8" r="7.2" fill="url(#gCu)"/><circle cx="1555.3" cy="197.8" r="7.7" fill="url(#gBr)"/><line x1="1366.6" y1="624.9" x2="1395.3" y2="626.2" stroke="#6a2046" stroke-width="3.80"/><line x1="1366.6" y1="624.7" x2="1395.3" y2="626.1" stroke="#a03a72" stroke-width="2.74"/><line x1="1366.6" y1="624.4" x2="1395.3" y2="625.7" stroke="#c8649a" stroke-width="1.14"/><line x1="1395.3" y1="626.2" x2="1424.0" y2="627.6" stroke="#0000a8" stroke-width="3.80"/><line x1="1395.3" y1="626.1" x2="1424.0" y2="627.4" stroke="#0000ee" stroke-width="2.74"/><line x1="1395.3" y1="625.7" x2="1424.0" y2="627.1" stroke="#2424ff" stroke-width="1.14"/><line x1="1424.0" y1="627.6" x2="1452.8" y2="622.2" stroke="#0000a8" stroke-width="3.80"/><line x1="1424.0" y1="627.4" x2="1452.7" y2="622.0" stroke="#0000ee" stroke-width="2.74"/><line x1="1423.9" y1="627.1" x2="1452.7" y2="621.7" stroke="#2424ff" stroke-width="1.14"/><line x1="1452.8" y1="622.2" x2="1481.5" y2="616.8" stroke="#6a2046" stroke-width="3.80"/><line x1="1452.7" y1="622.0" x2="1481.5" y2="616.6" stroke="#a03a72" stroke-width="2.74"/><line x1="1452.7" y1="621.7" x2="1481.4" y2="616.3" stroke="#c8649a" stroke-width="1.14"/><line x1="1424.0" y1="627.6" x2="1434.8" y2="635.7" stroke="#0000a8" stroke-width="3.80"/><line x1="1424.1" y1="627.4" x2="1434.9" y2="635.5" stroke="#0000ee" stroke-width="2.74"/><line x1="1424.3" y1="627.2" x2="1435.1" y2="635.3" stroke="#2424ff" stroke-width="1.14"/><line x1="1434.8" y1="635.7" x2="1445.5" y2="643.8" stroke="#6a2046" stroke-width="3.80"/><line x1="1434.9" y1="635.5" x2="1445.6" y2="643.6" stroke="#a03a72" stroke-width="2.74"/><line x1="1435.1" y1="635.3" x2="1445.8" y2="643.4" stroke="#c8649a" stroke-width="1.14"/><line x1="1481.5" y1="616.8" x2="1492.3" y2="624.6" stroke="#6a2046" stroke-width="3.80"/><line x1="1481.6" y1="616.6" x2="1492.4" y2="624.4" stroke="#a03a72" stroke-width="2.74"/><line x1="1481.8" y1="616.4" x2="1492.6" y2="624.2" stroke="#c8649a" stroke-width="1.14"/><line x1="1492.3" y1="624.6" x2="1503.1" y2="632.4" stroke="#0000a8" stroke-width="3.80"/><line x1="1492.4" y1="624.4" x2="1503.2" y2="632.2" stroke="#0000ee" stroke-width="2.74"/><line x1="1492.6" y1="624.2" x2="1503.4" y2="632.0" stroke="#2424ff" stroke-width="1.14"/><line x1="1445.5" y1="643.8" x2="1474.3" y2="638.1" stroke="#6a2046" stroke-width="3.80"/><line x1="1445.5" y1="643.6" x2="1474.3" y2="637.9" stroke="#a03a72" stroke-width="2.74"/><line x1="1445.4" y1="643.3" x2="1474.2" y2="637.6" stroke="#c8649a" stroke-width="1.14"/><line x1="1474.3" y1="638.1" x2="1503.1" y2="632.4" stroke="#0000a8" stroke-width="3.80"/><line x1="1474.3" y1="637.9" x2="1503.1" y2="632.2" stroke="#0000ee" stroke-width="2.74"/><line x1="1474.2" y1="637.6" x2="1503.0" y2="631.9" stroke="#2424ff" stroke-width="1.14"/><line x1="1503.1" y1="632.4" x2="1531.6" y2="633.9" stroke="#0000a8" stroke-width="3.80"/><line x1="1503.1" y1="632.2" x2="1531.6" y2="633.7" stroke="#0000ee" stroke-width="2.74"/><line x1="1503.1" y1="631.9" x2="1531.6" y2="633.4" stroke="#2424ff" stroke-width="1.14"/><line x1="1531.6" y1="633.9" x2="1560.1" y2="635.4" stroke="#6a2046" stroke-width="3.80"/><line x1="1531.6" y1="633.7" x2="1560.1" y2="635.2" stroke="#a03a72" stroke-width="2.74"/><line x1="1531.6" y1="633.4" x2="1560.1" y2="634.9" stroke="#c8649a" stroke-width="1.14"/><circle cx="1366.6" cy="624.9" r="7.7" fill="url(#gBr)"/><circle cx="1424.0" cy="627.6" r="7.2" fill="url(#gCu)"/><circle cx="1481.5" cy="616.8" r="7.7" fill="url(#gBr)"/><circle cx="1445.5" cy="643.8" r="7.7" fill="url(#gBr)"/><circle cx="1503.1" cy="632.4" r="7.2" fill="url(#gCu)"/><circle cx="1560.1" cy="635.4" r="7.7" fill="url(#gBr)"/><line x1="1357.3" y1="610.9" x2="1386.0" y2="612.2" stroke="#6a2046" stroke-width="3.80"/><line x1="1357.3" y1="610.7" x2="1386.0" y2="612.1" stroke="#a03a72" stroke-width="2.74"/><line x1="1357.3" y1="610.4" x2="1386.0" y2="611.7" stroke="#c8649a" stroke-width="1.14"/><line x1="1386.0" y1="612.2" x2="1414.7" y2="613.6" stroke="#0000a8" stroke-width="3.80"/><line x1="1386.0" y1="612.1" x2="1414.7" y2="613.4" stroke="#0000ee" stroke-width="2.74"/><line x1="1386.0" y1="611.7" x2="1414.7" y2="613.1" stroke="#2424ff" stroke-width="1.14"/><line x1="1414.7" y1="613.6" x2="1443.5" y2="608.2" stroke="#0000a8" stroke-width="3.80"/><line x1="1414.7" y1="613.4" x2="1443.4" y2="608.0" stroke="#0000ee" stroke-width="2.74"/><line x1="1414.6" y1="613.1" x2="1443.4" y2="607.7" stroke="#2424ff" stroke-width="1.14"/><line x1="1443.5" y1="608.2" x2="1472.2" y2="602.8" stroke="#6a2046" stroke-width="3.80"/><line x1="1443.4" y1="608.0" x2="1472.2" y2="602.6" stroke="#a03a72" stroke-width="2.74"/><line x1="1443.4" y1="607.7" x2="1472.1" y2="602.3" stroke="#c8649a" stroke-width="1.14"/><line x1="1414.7" y1="613.6" x2="1425.5" y2="621.7" stroke="#0000a8" stroke-width="3.80"/><line x1="1414.8" y1="613.4" x2="1425.6" y2="621.5" stroke="#0000ee" stroke-width="2.74"/><line x1="1415.0" y1="613.2" x2="1425.8" y2="621.3" stroke="#2424ff" stroke-width="1.14"/><line x1="1425.5" y1="621.7" x2="1436.2" y2="629.8" stroke="#6a2046" stroke-width="3.80"/><line x1="1425.6" y1="621.5" x2="1436.3" y2="629.6" stroke="#a03a72" stroke-width="2.74"/><line x1="1425.8" y1="621.3" x2="1436.5" y2="629.4" stroke="#c8649a" stroke-width="1.14"/><line x1="1472.2" y1="602.8" x2="1483.0" y2="610.6" stroke="#6a2046" stroke-width="3.80"/><line x1="1472.3" y1="602.6" x2="1483.1" y2="610.4" stroke="#a03a72" stroke-width="2.74"/><line x1="1472.5" y1="602.4" x2="1483.3" y2="610.2" stroke="#c8649a" stroke-width="1.14"/><line x1="1483.0" y1="610.6" x2="1493.8" y2="618.4" stroke="#0000a8" stroke-width="3.80"/><line x1="1483.1" y1="610.4" x2="1493.9" y2="618.2" stroke="#0000ee" stroke-width="2.74"/><line x1="1483.3" y1="610.2" x2="1494.1" y2="618.0" stroke="#2424ff" stroke-width="1.14"/><line x1="1436.2" y1="629.8" x2="1465.0" y2="624.1" stroke="#6a2046" stroke-width="3.80"/><line x1="1436.2" y1="629.6" x2="1465.0" y2="623.9" stroke="#a03a72" stroke-width="2.74"/><line x1="1436.1" y1="629.3" x2="1464.9" y2="623.6" stroke="#c8649a" stroke-width="1.14"/><line x1="1465.0" y1="624.1" x2="1493.8" y2="618.4" stroke="#0000a8" stroke-width="3.80"/><line x1="1465.0" y1="623.9" x2="1493.8" y2="618.2" stroke="#0000ee" stroke-width="2.74"/><line x1="1464.9" y1="623.6" x2="1493.7" y2="617.9" stroke="#2424ff" stroke-width="1.14"/><line x1="1493.8" y1="618.4" x2="1522.3" y2="619.9" stroke="#0000a8" stroke-width="3.80"/><line x1="1493.8" y1="618.2" x2="1522.3" y2="619.7" stroke="#0000ee" stroke-width="2.74"/><line x1="1493.8" y1="617.9" x2="1522.3" y2="619.4" stroke="#2424ff" stroke-width="1.14"/><line x1="1522.3" y1="619.9" x2="1550.8" y2="621.4" stroke="#6a2046" stroke-width="3.80"/><line x1="1522.3" y1="619.7" x2="1550.8" y2="621.2" stroke="#a03a72" stroke-width="2.74"/><line x1="1522.3" y1="619.4" x2="1550.8" y2="620.9" stroke="#c8649a" stroke-width="1.14"/><circle cx="1357.3" cy="610.9" r="7.7" fill="url(#gBr)"/><circle cx="1414.7" cy="613.6" r="7.2" fill="url(#gCu)"/><circle cx="1472.2" cy="602.8" r="7.7" fill="url(#gBr)"/><circle cx="1436.2" cy="629.8" r="7.7" fill="url(#gBr)"/><circle cx="1493.8" cy="618.4" r="7.2" fill="url(#gCu)"/><circle cx="1550.8" cy="621.4" r="7.7" fill="url(#gBr)"/><line x1="1144.5" y1="423.0" x2="1171.8" y2="421.8" stroke="#6a2046" stroke-width="3.80"/><line x1="1144.5" y1="422.8" x2="1171.8" y2="421.6" stroke="#a03a72" stroke-width="2.74"/><line x1="1144.5" y1="422.5" x2="1171.8" y2="421.3" stroke="#c8649a" stroke-width="1.14"/><line x1="1171.8" y1="421.8" x2="1199.1" y2="420.6" stroke="#0000a8" stroke-width="3.80"/><line x1="1171.8" y1="421.6" x2="1199.1" y2="420.4" stroke="#0000ee" stroke-width="2.74"/><line x1="1171.8" y1="421.3" x2="1199.1" y2="420.1" stroke="#2424ff" stroke-width="1.14"/><line x1="1199.1" y1="420.6" x2="1207.8" y2="412.5" stroke="#0000a8" stroke-width="3.80"/><line x1="1199.0" y1="420.5" x2="1207.7" y2="412.4" stroke="#0000ee" stroke-width="2.74"/><line x1="1198.7" y1="420.2" x2="1207.4" y2="412.1" stroke="#2424ff" stroke-width="1.14"/><line x1="1207.8" y1="412.5" x2="1216.5" y2="404.4" stroke="#6a2046" stroke-width="3.80"/><line x1="1207.7" y1="412.4" x2="1216.4" y2="404.3" stroke="#a03a72" stroke-width="2.74"/><line x1="1207.4" y1="412.1" x2="1216.1" y2="404.0" stroke="#c8649a" stroke-width="1.14"/><line x1="1199.1" y1="420.6" x2="1229.3" y2="426.3" stroke="#0000a8" stroke-width="3.80"/><line x1="1199.1" y1="420.4" x2="1229.4" y2="426.1" stroke="#0000ee" stroke-width="2.74"/><line x1="1199.2" y1="420.1" x2="1229.4" y2="425.8" stroke="#2424ff" stroke-width="1.14"/><line x1="1229.3" y1="426.3" x2="1259.6" y2="432.0" stroke="#6a2046" stroke-width="3.80"/><line x1="1229.4" y1="426.1" x2="1259.6" y2="431.8" stroke="#a03a72" stroke-width="2.74"/><line x1="1229.4" y1="425.8" x2="1259.7" y2="431.5" stroke="#c8649a" stroke-width="1.14"/><line x1="1216.5" y1="404.4" x2="1246.4" y2="410.1" stroke="#6a2046" stroke-width="3.80"/><line x1="1216.5" y1="404.2" x2="1246.5" y2="409.9" stroke="#a03a72" stroke-width="2.74"/><line x1="1216.6" y1="403.9" x2="1246.5" y2="409.6" stroke="#c8649a" stroke-width="1.14"/><line x1="1246.4" y1="410.1" x2="1276.4" y2="415.8" stroke="#0000a8" stroke-width="3.80"/><line x1="1246.5" y1="409.9" x2="1276.4" y2="415.6" stroke="#0000ee" stroke-width="2.74"/><line x1="1246.5" y1="409.6" x2="1276.5" y2="415.3" stroke="#2424ff" stroke-width="1.14"/><line x1="1259.6" y1="432.0" x2="1268.0" y2="423.9" stroke="#6a2046" stroke-width="3.80"/><line x1="1259.5" y1="431.9" x2="1267.9" y2="423.8" stroke="#a03a72" stroke-width="2.74"/><line x1="1259.2" y1="431.6" x2="1267.6" y2="423.5" stroke="#c8649a" stroke-width="1.14"/><line x1="1268.0" y1="423.9" x2="1276.4" y2="415.8" stroke="#0000a8" stroke-width="3.80"/><line x1="1267.9" y1="423.8" x2="1276.3" y2="415.7" stroke="#0000ee" stroke-width="2.74"/><line x1="1267.6" y1="423.5" x2="1276.0" y2="415.4" stroke="#2424ff" stroke-width="1.14"/><line x1="1276.4" y1="415.8" x2="1304.0" y2="414.6" stroke="#0000a8" stroke-width="3.80"/><line x1="1276.4" y1="415.6" x2="1304.0" y2="414.4" stroke="#0000ee" stroke-width="2.74"/><line x1="1276.4" y1="415.3" x2="1304.0" y2="414.1" stroke="#2424ff" stroke-width="1.14"/><line x1="1304.0" y1="414.6" x2="1331.6" y2="413.4" stroke="#6a2046" stroke-width="3.80"/><line x1="1304.0" y1="414.4" x2="1331.6" y2="413.2" stroke="#a03a72" stroke-width="2.74"/><line x1="1304.0" y1="414.1" x2="1331.6" y2="412.9" stroke="#c8649a" stroke-width="1.14"/><circle cx="1144.5" cy="423.0" r="7.7" fill="url(#gBr)"/><circle cx="1199.1" cy="420.6" r="7.2" fill="url(#gCu)"/><circle cx="1216.5" cy="404.4" r="7.7" fill="url(#gBr)"/><circle cx="1259.6" cy="432.0" r="7.7" fill="url(#gBr)"/><circle cx="1276.4" cy="415.8" r="7.2" fill="url(#gCu)"/><circle cx="1331.6" cy="413.4" r="7.7" fill="url(#gBr)"/><line x1="1135.2" y1="409.0" x2="1162.5" y2="407.8" stroke="#6a2046" stroke-width="3.80"/><line x1="1135.2" y1="408.8" x2="1162.5" y2="407.6" stroke="#a03a72" stroke-width="2.74"/><line x1="1135.2" y1="408.5" x2="1162.5" y2="407.3" stroke="#c8649a" stroke-width="1.14"/><line x1="1162.5" y1="407.8" x2="1189.8" y2="406.6" stroke="#0000a8" stroke-width="3.80"/><line x1="1162.5" y1="407.6" x2="1189.8" y2="406.4" stroke="#0000ee" stroke-width="2.74"/><line x1="1162.5" y1="407.3" x2="1189.8" y2="406.1" stroke="#2424ff" stroke-width="1.14"/><line x1="1189.8" y1="406.6" x2="1198.5" y2="398.5" stroke="#0000a8" stroke-width="3.80"/><line x1="1189.7" y1="406.5" x2="1198.4" y2="398.4" stroke="#0000ee" stroke-width="2.74"/><line x1="1189.4" y1="406.2" x2="1198.1" y2="398.1" stroke="#2424ff" stroke-width="1.14"/><line x1="1198.5" y1="398.5" x2="1207.2" y2="390.4" stroke="#6a2046" stroke-width="3.80"/><line x1="1198.4" y1="398.4" x2="1207.1" y2="390.3" stroke="#a03a72" stroke-width="2.74"/><line x1="1198.1" y1="398.1" x2="1206.8" y2="390.0" stroke="#c8649a" stroke-width="1.14"/><line x1="1189.8" y1="406.6" x2="1220.0" y2="412.3" stroke="#0000a8" stroke-width="3.80"/><line x1="1189.8" y1="406.4" x2="1220.1" y2="412.1" stroke="#0000ee" stroke-width="2.74"/><line x1="1189.9" y1="406.1" x2="1220.1" y2="411.8" stroke="#2424ff" stroke-width="1.14"/><line x1="1220.0" y1="412.3" x2="1250.3" y2="418.0" stroke="#6a2046" stroke-width="3.80"/><line x1="1220.1" y1="412.1" x2="1250.3" y2="417.8" stroke="#a03a72" stroke-width="2.74"/><line x1="1220.1" y1="411.8" x2="1250.4" y2="417.5" stroke="#c8649a" stroke-width="1.14"/><line x1="1207.2" y1="390.4" x2="1237.2" y2="396.1" stroke="#6a2046" stroke-width="3.80"/><line x1="1207.2" y1="390.2" x2="1237.2" y2="395.9" stroke="#a03a72" stroke-width="2.74"/><line x1="1207.3" y1="389.9" x2="1237.2" y2="395.6" stroke="#c8649a" stroke-width="1.14"/><line x1="1237.2" y1="396.1" x2="1267.1" y2="401.8" stroke="#0000a8" stroke-width="3.80"/><line x1="1237.2" y1="395.9" x2="1267.1" y2="401.6" stroke="#0000ee" stroke-width="2.74"/><line x1="1237.2" y1="395.6" x2="1267.2" y2="401.3" stroke="#2424ff" stroke-width="1.14"/><line x1="1250.3" y1="418.0" x2="1258.7" y2="409.9" stroke="#6a2046" stroke-width="3.80"/><line x1="1250.2" y1="417.9" x2="1258.6" y2="409.8" stroke="#a03a72" stroke-width="2.74"/><line x1="1249.9" y1="417.6" x2="1258.3" y2="409.5" stroke="#c8649a" stroke-width="1.14"/><line x1="1258.7" y1="409.9" x2="1267.1" y2="401.8" stroke="#0000a8" stroke-width="3.80"/><line x1="1258.6" y1="409.8" x2="1267.0" y2="401.7" stroke="#0000ee" stroke-width="2.74"/><line x1="1258.3" y1="409.5" x2="1266.7" y2="401.4" stroke="#2424ff" stroke-width="1.14"/><line x1="1267.1" y1="401.8" x2="1294.7" y2="400.6" stroke="#0000a8" stroke-width="3.80"/><line x1="1267.1" y1="401.6" x2="1294.7" y2="400.4" stroke="#0000ee" stroke-width="2.74"/><line x1="1267.1" y1="401.3" x2="1294.7" y2="400.1" stroke="#2424ff" stroke-width="1.14"/><line x1="1294.7" y1="400.6" x2="1322.3" y2="399.4" stroke="#6a2046" stroke-width="3.80"/><line x1="1294.7" y1="400.4" x2="1322.3" y2="399.2" stroke="#a03a72" stroke-width="2.74"/><line x1="1294.7" y1="400.1" x2="1322.3" y2="398.9" stroke="#c8649a" stroke-width="1.14"/><circle cx="1135.2" cy="409.0" r="7.7" fill="url(#gBr)"/><circle cx="1189.8" cy="406.6" r="7.2" fill="url(#gCu)"/><circle cx="1207.2" cy="390.4" r="7.7" fill="url(#gBr)"/><circle cx="1250.3" cy="418.0" r="7.7" fill="url(#gBr)"/><circle cx="1267.1" cy="401.8" r="7.2" fill="url(#gCu)"/><circle cx="1322.3" cy="399.4" r="7.7" fill="url(#gBr)"/><line x1="1600.2" y1="423.8" x2="1627.5" y2="422.6" stroke="#6a2046" stroke-width="3.80"/><line x1="1600.2" y1="423.6" x2="1627.5" y2="422.4" stroke="#a03a72" stroke-width="2.74"/><line x1="1600.2" y1="423.3" x2="1627.5" y2="422.1" stroke="#c8649a" stroke-width="1.14"/><line x1="1627.5" y1="422.6" x2="1654.8" y2="421.4" stroke="#0000a8" stroke-width="3.80"/><line x1="1627.5" y1="422.4" x2="1654.8" y2="421.2" stroke="#0000ee" stroke-width="2.74"/><line x1="1627.5" y1="422.1" x2="1654.8" y2="420.9" stroke="#2424ff" stroke-width="1.14"/><line x1="1654.8" y1="421.4" x2="1663.5" y2="413.3" stroke="#0000a8" stroke-width="3.80"/><line x1="1654.7" y1="421.3" x2="1663.4" y2="413.2" stroke="#0000ee" stroke-width="2.74"/><line x1="1654.4" y1="421.0" x2="1663.1" y2="412.9" stroke="#2424ff" stroke-width="1.14"/><line x1="1663.5" y1="413.3" x2="1672.2" y2="405.2" stroke="#6a2046" stroke-width="3.80"/><line x1="1663.4" y1="413.2" x2="1672.1" y2="405.1" stroke="#a03a72" stroke-width="2.74"/><line x1="1663.1" y1="412.9" x2="1671.8" y2="404.8" stroke="#c8649a" stroke-width="1.14"/><line x1="1654.8" y1="421.4" x2="1685.0" y2="427.1" stroke="#0000a8" stroke-width="3.80"/><line x1="1654.8" y1="421.2" x2="1685.1" y2="426.9" stroke="#0000ee" stroke-width="2.74"/><line x1="1654.9" y1="420.9" x2="1685.1" y2="426.6" stroke="#2424ff" stroke-width="1.14"/><line x1="1685.0" y1="427.1" x2="1715.3" y2="432.8" stroke="#6a2046" stroke-width="3.80"/><line x1="1685.1" y1="426.9" x2="1715.3" y2="432.6" stroke="#a03a72" stroke-width="2.74"/><line x1="1685.1" y1="426.6" x2="1715.4" y2="432.3" stroke="#c8649a" stroke-width="1.14"/><line x1="1672.2" y1="405.2" x2="1702.2" y2="410.9" stroke="#6a2046" stroke-width="3.80"/><line x1="1672.2" y1="405.0" x2="1702.2" y2="410.7" stroke="#a03a72" stroke-width="2.74"/><line x1="1672.3" y1="404.7" x2="1702.2" y2="410.4" stroke="#c8649a" stroke-width="1.14"/><line x1="1702.2" y1="410.9" x2="1732.1" y2="416.6" stroke="#0000a8" stroke-width="3.80"/><line x1="1702.2" y1="410.7" x2="1732.1" y2="416.4" stroke="#0000ee" stroke-width="2.74"/><line x1="1702.2" y1="410.4" x2="1732.2" y2="416.1" stroke="#2424ff" stroke-width="1.14"/><line x1="1715.3" y1="432.8" x2="1723.7" y2="424.7" stroke="#6a2046" stroke-width="3.80"/><line x1="1715.2" y1="432.7" x2="1723.6" y2="424.6" stroke="#a03a72" stroke-width="2.74"/><line x1="1714.9" y1="432.4" x2="1723.3" y2="424.3" stroke="#c8649a" stroke-width="1.14"/><line x1="1723.7" y1="424.7" x2="1732.1" y2="416.6" stroke="#0000a8" stroke-width="3.80"/><line x1="1723.6" y1="424.6" x2="1732.0" y2="416.5" stroke="#0000ee" stroke-width="2.74"/><line x1="1723.3" y1="424.3" x2="1731.7" y2="416.2" stroke="#2424ff" stroke-width="1.14"/><line x1="1732.1" y1="416.6" x2="1759.7" y2="415.4" stroke="#0000a8" stroke-width="3.80"/><line x1="1732.1" y1="416.4" x2="1759.7" y2="415.2" stroke="#0000ee" stroke-width="2.74"/><line x1="1732.1" y1="416.1" x2="1759.7" y2="414.9" stroke="#2424ff" stroke-width="1.14"/><line x1="1759.7" y1="415.4" x2="1787.3" y2="414.2" stroke="#6a2046" stroke-width="3.80"/><line x1="1759.7" y1="415.2" x2="1787.3" y2="414.0" stroke="#a03a72" stroke-width="2.74"/><line x1="1759.7" y1="414.9" x2="1787.3" y2="413.7" stroke="#c8649a" stroke-width="1.14"/><circle cx="1600.2" cy="423.8" r="7.7" fill="url(#gBr)"/><circle cx="1654.8" cy="421.4" r="7.2" fill="url(#gCu)"/><circle cx="1672.2" cy="405.2" r="7.7" fill="url(#gBr)"/><circle cx="1715.3" cy="432.8" r="7.7" fill="url(#gBr)"/><circle cx="1732.1" cy="416.6" r="7.2" fill="url(#gCu)"/><circle cx="1787.3" cy="414.2" r="7.7" fill="url(#gBr)"/><line x1="1590.9" y1="409.8" x2="1618.2" y2="408.6" stroke="#6a2046" stroke-width="3.80"/><line x1="1590.9" y1="409.6" x2="1618.2" y2="408.4" stroke="#a03a72" stroke-width="2.74"/><line x1="1590.9" y1="409.3" x2="1618.2" y2="408.1" stroke="#c8649a" stroke-width="1.14"/><line x1="1618.2" y1="408.6" x2="1645.5" y2="407.4" stroke="#0000a8" stroke-width="3.80"/><line x1="1618.2" y1="408.4" x2="1645.5" y2="407.2" stroke="#0000ee" stroke-width="2.74"/><line x1="1618.2" y1="408.1" x2="1645.5" y2="406.9" stroke="#2424ff" stroke-width="1.14"/><line x1="1645.5" y1="407.4" x2="1654.2" y2="399.3" stroke="#0000a8" stroke-width="3.80"/><line x1="1645.4" y1="407.3" x2="1654.1" y2="399.2" stroke="#0000ee" stroke-width="2.74"/><line x1="1645.1" y1="407.0" x2="1653.8" y2="398.9" stroke="#2424ff" stroke-width="1.14"/><line x1="1654.2" y1="399.3" x2="1662.9" y2="391.2" stroke="#6a2046" stroke-width="3.80"/><line x1="1654.1" y1="399.2" x2="1662.8" y2="391.1" stroke="#a03a72" stroke-width="2.74"/><line x1="1653.8" y1="398.9" x2="1662.5" y2="390.8" stroke="#c8649a" stroke-width="1.14"/><line x1="1645.5" y1="407.4" x2="1675.8" y2="413.1" stroke="#0000a8" stroke-width="3.80"/><line x1="1645.5" y1="407.2" x2="1675.8" y2="412.9" stroke="#0000ee" stroke-width="2.74"/><line x1="1645.6" y1="406.9" x2="1675.8" y2="412.6" stroke="#2424ff" stroke-width="1.14"/><line x1="1675.8" y1="413.1" x2="1706.0" y2="418.8" stroke="#6a2046" stroke-width="3.80"/><line x1="1675.8" y1="412.9" x2="1706.0" y2="418.6" stroke="#a03a72" stroke-width="2.74"/><line x1="1675.8" y1="412.6" x2="1706.1" y2="418.3" stroke="#c8649a" stroke-width="1.14"/><line x1="1662.9" y1="391.2" x2="1692.8" y2="396.9" stroke="#6a2046" stroke-width="3.80"/><line x1="1662.9" y1="391.0" x2="1692.9" y2="396.7" stroke="#a03a72" stroke-width="2.74"/><line x1="1663.0" y1="390.7" x2="1692.9" y2="396.4" stroke="#c8649a" stroke-width="1.14"/><line x1="1692.8" y1="396.9" x2="1722.8" y2="402.6" stroke="#0000a8" stroke-width="3.80"/><line x1="1692.9" y1="396.7" x2="1722.8" y2="402.4" stroke="#0000ee" stroke-width="2.74"/><line x1="1692.9" y1="396.4" x2="1722.9" y2="402.1" stroke="#2424ff" stroke-width="1.14"/><line x1="1706.0" y1="418.8" x2="1714.4" y2="410.7" stroke="#6a2046" stroke-width="3.80"/><line x1="1705.9" y1="418.7" x2="1714.3" y2="410.6" stroke="#a03a72" stroke-width="2.74"/><line x1="1705.6" y1="418.4" x2="1714.0" y2="410.3" stroke="#c8649a" stroke-width="1.14"/><line x1="1714.4" y1="410.7" x2="1722.8" y2="402.6" stroke="#0000a8" stroke-width="3.80"/><line x1="1714.3" y1="410.6" x2="1722.7" y2="402.5" stroke="#0000ee" stroke-width="2.74"/><line x1="1714.0" y1="410.3" x2="1722.4" y2="402.2" stroke="#2424ff" stroke-width="1.14"/><line x1="1722.8" y1="402.6" x2="1750.4" y2="401.4" stroke="#0000a8" stroke-width="3.80"/><line x1="1722.8" y1="402.4" x2="1750.4" y2="401.2" stroke="#0000ee" stroke-width="2.74"/><line x1="1722.8" y1="402.1" x2="1750.4" y2="400.9" stroke="#2424ff" stroke-width="1.14"/><line x1="1750.4" y1="401.4" x2="1778.0" y2="400.2" stroke="#6a2046" stroke-width="3.80"/><line x1="1750.4" y1="401.2" x2="1778.0" y2="400.0" stroke="#a03a72" stroke-width="2.74"/><line x1="1750.4" y1="400.9" x2="1778.0" y2="399.7" stroke="#c8649a" stroke-width="1.14"/><circle cx="1590.9" cy="409.8" r="7.7" fill="url(#gBr)"/><circle cx="1645.5" cy="407.4" r="7.2" fill="url(#gCu)"/><circle cx="1662.9" cy="391.2" r="7.7" fill="url(#gBr)"/><circle cx="1706.0" cy="418.8" r="7.7" fill="url(#gBr)"/><circle cx="1722.8" cy="402.6" r="7.2" fill="url(#gCu)"/><circle cx="1778.0" cy="400.2" r="7.7" fill="url(#gBr)"/><line x1="1231.1" y1="192.6" x2="1240.4" y2="206.6" stroke="#111" stroke-width="1.1"/><line x1="1231.1" y1="192.6" x2="1686.8" y2="193.4" stroke="#111" stroke-width="1.1"/><line x1="1231.1" y1="192.6" x2="1226.6" y2="616.2" stroke="#111" stroke-width="1.1"/><line x1="1226.6" y1="616.2" x2="1235.9" y2="630.2" stroke="#111" stroke-width="1.1"/><line x1="1226.6" y1="616.2" x2="1682.3" y2="617.0" stroke="#111" stroke-width="1.1"/><line x1="1686.8" y1="193.4" x2="1696.1" y2="207.4" stroke="#111" stroke-width="1.1"/><line x1="1686.8" y1="193.4" x2="1682.3" y2="617.0" stroke="#111" stroke-width="1.1"/><line x1="1682.3" y1="617.0" x2="1691.6" y2="631.0" stroke="#111" stroke-width="1.1"/><line x1="1240.4" y1="206.6" x2="1696.1" y2="207.4" stroke="#111" stroke-width="1.1"/><line x1="1240.4" y1="206.6" x2="1235.9" y2="630.2" stroke="#111" stroke-width="1.1"/><line x1="1235.9" y1="630.2" x2="1691.6" y2="631.0" stroke="#111" stroke-width="1.1"/><line x1="1696.1" y1="207.4" x2="1691.6" y2="631.0" stroke="#111" stroke-width="1.1"/>
<line x1="905.5" y1="64" x2="905.5" y2="34" stroke="#999" stroke-width="1.2"/><polygon points="905.5,20 900.6,36.2 910.4,36.2" fill="#000"/><line x1="908" y1="71.2" x2="943" y2="71.2" stroke="#444" stroke-width="1.2"/><polygon points="956.6,71.2 941.6,66.4 941.6,76.2" fill="#000"/><text x="898.5" y="67.5" class="ax" style="font-size:15px">a</text><circle cx="903.2" cy="69.1" r="5" fill="#000"/><text x="899.8" y="12.4" class="ax">c</text><text x="968" y="74.3" class="ax">b</text><circle cx="1961.7" cy="650.7" r="12.9" fill="url(#gBr)"/><text x="1976.3" y="656.2" class="lg">Br</text><circle cx="1961.7" cy="681.9" r="12.9" fill="url(#gCu)"/><text x="1976.3" y="687.4" class="lg">Cu</text><circle cx="1961.7" cy="713.1" r="12.9" fill="url(#gP)"/><text x="1976.3" y="718.6" class="lg">P</text><circle cx="1961.7" cy="744.3" r="12.9" fill="url(#gF)"/><text x="1976.3" y="749.8" class="lg">F</text><circle cx="1961.7" cy="775.5" r="12.9" fill="url(#gC)"/><text x="1976.3" y="781.0" class="lg">C</text><circle cx="1961.7" cy="806.7" r="12.9" fill="url(#gH)"/><text x="1976.3" y="812.2" class="lg">H</text>
</svg></body></html>
